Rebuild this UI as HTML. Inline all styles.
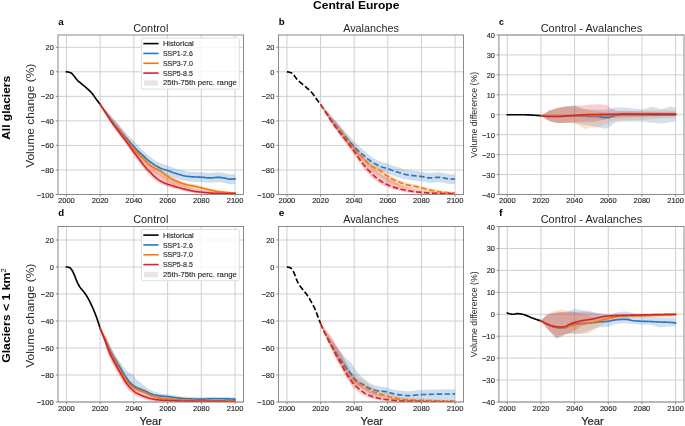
<!DOCTYPE html>
<html><head><meta charset="utf-8"><style>
html,body{margin:0;padding:0;background:#fff;width:685px;height:426px;overflow:hidden}
svg{display:block;will-change:transform;filter:blur(0.35px)}
</style></head><body>
<svg width="685" height="426" viewBox="0 0 685 426" font-family='"Liberation Sans", sans-serif'>
<rect width="685" height="426" fill="#fff"/>
<clipPath id="c58_35"><rect x="58.0" y="35.0" width="185.50" height="159.50"/></clipPath>
<line x1="66.43" y1="35.0" x2="66.43" y2="194.5" stroke="#cfcfcf" stroke-width="1"/>
<line x1="100.16" y1="35.0" x2="100.16" y2="194.5" stroke="#cfcfcf" stroke-width="1"/>
<line x1="133.89" y1="35.0" x2="133.89" y2="194.5" stroke="#cfcfcf" stroke-width="1"/>
<line x1="167.61" y1="35.0" x2="167.61" y2="194.5" stroke="#cfcfcf" stroke-width="1"/>
<line x1="201.34" y1="35.0" x2="201.34" y2="194.5" stroke="#cfcfcf" stroke-width="1"/>
<line x1="235.07" y1="35.0" x2="235.07" y2="194.5" stroke="#cfcfcf" stroke-width="1"/>
<line x1="58.0" y1="47.27" x2="243.5" y2="47.27" stroke="#cfcfcf" stroke-width="1"/>
<line x1="58.0" y1="71.81" x2="243.5" y2="71.81" stroke="#cfcfcf" stroke-width="1"/>
<line x1="58.0" y1="96.35" x2="243.5" y2="96.35" stroke="#cfcfcf" stroke-width="1"/>
<line x1="58.0" y1="120.88" x2="243.5" y2="120.88" stroke="#cfcfcf" stroke-width="1"/>
<line x1="58.0" y1="145.42" x2="243.5" y2="145.42" stroke="#cfcfcf" stroke-width="1"/>
<line x1="58.0" y1="169.96" x2="243.5" y2="169.96" stroke="#cfcfcf" stroke-width="1"/>
<line x1="58.0" y1="194.50" x2="243.5" y2="194.50" stroke="#cfcfcf" stroke-width="1"/>
<path d="M100.16 104.44L101.00 105.37L101.85 106.29L102.69 107.19L103.53 108.08L104.38 108.95L105.22 109.81L106.06 110.65L106.90 111.48L107.75 112.29L108.59 113.09L109.43 114.12L110.28 115.13L111.12 116.12L111.96 117.10L112.81 118.06L113.65 119.00L114.49 119.92L115.34 120.83L116.18 121.72L117.02 122.61L117.87 123.58L118.71 124.54L119.55 125.51L120.40 126.47L121.24 127.43L122.08 128.39L122.92 129.35L123.77 130.29L124.61 131.23L125.45 132.17L126.30 133.09L127.14 134.01L127.98 134.92L128.83 135.83L129.67 136.73L130.51 137.63L131.36 138.51L132.20 139.39L133.04 140.27L133.89 141.13L134.73 142.05L135.57 142.98L136.42 143.91L137.26 144.82L138.10 145.71L138.95 146.58L139.79 147.41L140.63 148.20L141.48 148.93L142.32 149.63L143.16 150.35L144.00 151.13L144.85 151.98L145.69 152.87L146.53 153.73L147.38 154.53L148.22 155.27L149.06 155.98L149.91 156.66L150.75 157.32L151.59 157.94L152.44 158.54L153.28 159.12L154.12 159.67L154.97 160.20L155.81 160.71L156.65 161.20L157.50 161.68L158.34 162.14L159.18 162.61L160.03 163.05L160.87 163.44L161.71 163.77L162.55 164.06L163.40 164.31L164.24 164.56L165.08 164.81L165.93 165.05L166.77 165.29L167.61 165.54L168.46 165.85L169.30 166.20L170.14 166.56L170.99 166.92L171.83 167.26L172.67 167.56L173.52 167.85L174.36 168.13L175.20 168.40L176.05 168.67L176.89 168.92L177.73 169.17L178.57 169.41L179.42 169.64L180.26 169.88L181.10 170.12L181.95 170.35L182.79 170.58L183.63 170.80L184.48 170.99L185.32 171.16L186.16 171.29L187.01 171.39L187.85 171.49L188.69 171.57L189.54 171.65L190.38 171.73L191.22 171.79L192.07 171.85L192.91 171.91L193.75 171.96L194.60 172.01L195.44 172.06L196.28 172.10L197.12 172.13L197.97 172.16L198.81 172.19L199.65 172.22L200.50 172.25L201.34 172.29L202.18 172.35L203.03 172.43L203.87 172.52L204.71 172.62L205.56 172.72L206.40 172.81L207.24 172.90L208.09 172.97L208.93 173.01L209.77 173.03L210.62 173.01L211.46 172.97L212.30 172.90L213.15 172.81L213.99 172.72L214.83 172.63L215.67 172.55L216.52 172.48L217.36 172.43L218.20 172.42L219.05 172.44L219.89 172.50L220.73 172.60L221.58 172.71L222.42 172.85L223.26 172.99L224.11 173.14L224.95 173.27L225.79 173.44L226.64 173.65L227.48 173.86L228.32 174.06L229.17 174.20L230.01 174.26L230.85 174.25L231.70 174.24L232.54 174.20L233.38 174.14L234.22 174.04L235.07 173.89L235.07 183.70L234.22 183.85L233.38 183.95L232.54 184.02L231.70 184.05L230.85 184.07L230.01 184.07L229.17 184.02L228.32 183.87L227.48 183.68L226.64 183.46L225.79 183.25L224.95 183.09L224.11 182.95L223.26 182.81L222.42 182.66L221.58 182.53L220.73 182.41L219.89 182.32L219.05 182.25L218.20 182.23L217.36 182.25L216.52 182.29L215.67 182.36L214.83 182.45L213.99 182.54L213.15 182.63L212.30 182.71L211.46 182.78L210.62 182.83L209.77 182.84L208.93 182.83L208.09 182.78L207.24 182.71L206.40 182.63L205.56 182.53L204.71 182.43L203.87 182.33L203.03 182.24L202.18 182.17L201.34 182.11L200.50 182.07L199.65 182.03L198.81 182.00L197.97 181.97L197.12 181.94L196.28 181.91L195.44 181.87L194.60 181.83L193.75 181.78L192.91 181.73L192.07 181.67L191.22 181.61L190.38 181.54L189.54 181.47L188.69 181.39L187.85 181.30L187.01 181.21L186.16 181.10L185.32 180.97L184.48 180.81L183.63 180.61L182.79 180.40L181.95 180.17L181.10 179.93L180.26 179.69L179.42 179.46L178.57 179.22L177.73 178.98L176.89 178.74L176.05 178.48L175.20 178.22L174.36 177.95L173.52 177.67L172.67 177.38L171.83 177.08L170.99 176.74L170.14 176.38L169.30 176.01L168.46 175.67L167.61 175.36L166.77 175.10L165.93 174.87L165.08 174.62L164.24 174.38L163.40 174.13L162.55 173.87L161.71 173.59L160.87 173.26L160.03 172.86L159.18 172.42L158.34 171.96L157.50 171.49L156.65 171.02L155.81 170.53L154.97 170.02L154.12 169.49L153.28 168.93L152.44 168.35L151.59 167.76L150.75 167.14L149.91 166.48L149.06 165.79L148.22 165.08L147.38 164.34L146.53 163.54L145.69 162.68L144.85 161.80L144.00 160.95L143.16 160.17L142.32 159.45L141.48 158.74L140.63 158.01L139.79 157.23L138.95 156.40L138.10 155.53L137.26 154.63L136.42 153.72L135.57 152.80L134.73 151.87L133.89 150.94L133.04 149.99L132.20 149.02L131.36 148.05L130.51 147.07L129.67 146.09L128.83 145.09L127.98 144.10L127.14 143.09L126.30 142.08L125.45 141.06L124.61 140.04L123.77 139.01L122.92 137.97L122.08 136.92L121.24 135.87L120.40 134.81L119.55 133.76L118.71 132.70L117.87 131.65L117.02 130.58L116.18 129.51L115.34 128.43L114.49 127.34L113.65 126.24L112.81 125.11L111.96 123.97L111.12 122.81L110.28 121.63L109.43 120.43L108.59 119.22L107.75 117.81L106.90 116.39L106.06 114.95L105.22 113.49L104.38 112.02L103.53 110.53L102.69 109.03L101.85 107.52L101.00 105.99L100.16 104.44Z" fill="#2f76bc" fill-opacity="0.24" stroke="none" clip-path="url(#c58_35)"/>
<path d="M100.16 104.44L101.00 105.63L101.85 106.81L102.69 107.96L103.53 109.10L104.38 110.21L105.22 111.31L106.06 112.39L106.90 113.45L107.75 114.49L108.59 115.51L109.43 116.52L110.28 117.50L111.12 118.46L111.96 119.38L112.81 120.28L113.65 121.16L114.49 122.01L115.34 122.86L116.18 123.69L117.02 124.52L117.87 125.53L118.71 126.54L119.55 127.57L120.40 128.61L121.24 129.67L122.08 130.73L122.92 131.79L123.77 132.85L124.61 133.91L125.45 134.97L126.30 136.03L127.14 137.08L127.98 138.14L128.83 139.21L129.67 140.29L130.51 141.36L131.36 142.42L132.20 143.45L133.04 144.46L133.89 145.42L134.73 146.38L135.57 147.32L136.42 148.23L137.26 149.12L138.10 149.99L138.95 150.85L139.79 151.70L140.63 152.52L141.48 153.29L142.32 154.05L143.16 154.84L144.00 155.71L144.85 156.67L145.69 157.68L146.53 158.67L147.38 159.58L148.22 160.44L149.06 161.27L149.91 162.04L150.75 162.72L151.59 163.32L152.44 163.86L153.28 164.36L154.12 164.84L154.97 165.30L155.81 165.73L156.65 166.15L157.50 166.59L158.34 167.08L159.18 167.61L160.03 168.16L160.87 168.75L161.71 169.38L162.55 170.09L163.40 170.83L164.24 171.55L165.08 172.21L165.93 172.76L166.77 173.26L167.61 173.76L168.46 174.30L169.30 174.86L170.14 175.42L170.99 175.97L171.83 176.48L172.67 176.94L173.52 177.38L174.36 177.81L175.20 178.21L176.05 178.61L176.89 178.98L177.73 179.35L178.57 179.71L179.42 180.06L180.26 180.40L181.10 180.75L181.95 181.08L182.79 181.41L183.63 181.72L184.48 182.01L185.32 182.28L186.16 182.53L187.01 182.75L187.85 182.95L188.69 183.13L189.54 183.30L190.38 183.47L191.22 183.63L192.07 183.79L192.91 183.95L193.75 184.12L194.60 184.30L195.44 184.49L196.28 184.70L197.12 184.91L197.97 185.13L198.81 185.35L199.65 185.58L200.50 185.81L201.34 186.03L202.18 186.26L203.03 186.48L203.87 186.72L204.71 186.95L205.56 187.18L206.40 187.42L207.24 187.64L208.09 187.86L208.93 188.07L209.77 188.27L210.62 188.47L211.46 188.66L212.30 188.85L213.15 189.04L213.99 189.23L214.83 189.41L215.67 189.58L216.52 189.75L217.36 189.90L218.20 190.05L219.05 190.18L219.89 190.30L220.73 190.41L221.58 190.52L222.42 190.63L223.26 190.74L224.11 190.84L224.95 190.94L225.79 191.04L226.64 191.14L227.48 191.23L228.32 191.32L229.17 191.40L230.01 191.47L230.85 191.55L231.70 191.61L232.54 191.67L233.38 191.72L234.22 191.76L235.07 191.80L235.07 194.25L234.22 194.27L233.38 194.29L232.54 194.29L231.70 194.29L230.85 194.28L230.01 194.27L229.17 194.25L228.32 194.22L227.48 194.19L226.64 194.15L225.79 194.11L224.95 194.07L224.11 194.03L223.26 193.98L222.42 193.93L221.58 193.87L220.73 193.82L219.89 193.76L219.05 193.70L218.20 193.62L217.36 193.54L216.52 193.44L215.67 193.33L214.83 193.21L213.99 193.09L213.15 192.96L212.30 192.82L211.46 192.69L210.62 192.55L209.77 192.41L208.93 192.27L208.09 192.12L207.24 191.95L206.40 191.78L205.56 191.61L204.71 191.43L203.87 191.25L203.03 191.07L202.18 190.90L201.34 190.74L200.50 190.57L199.65 190.39L198.81 190.22L197.97 190.06L197.12 189.89L196.28 189.74L195.44 189.59L194.60 189.45L193.75 189.33L192.91 189.22L192.07 189.11L191.22 189.01L190.38 188.90L189.54 188.79L188.69 188.68L187.85 188.55L187.01 188.40L186.16 188.24L185.32 188.05L184.48 187.84L183.63 187.65L182.79 187.45L181.95 187.23L181.10 187.00L180.26 186.77L179.42 186.53L178.57 186.29L177.73 186.04L176.89 185.78L176.05 185.51L175.20 185.22L174.36 184.92L173.52 184.61L172.67 184.27L171.83 183.92L170.99 183.52L170.14 183.08L169.30 182.62L168.46 182.17L167.61 181.74L166.77 181.27L165.93 180.80L165.08 180.28L164.24 179.65L163.40 178.96L162.55 178.25L161.71 177.57L160.87 176.97L160.03 176.41L159.18 175.89L158.34 175.40L157.50 174.94L156.65 174.52L155.81 174.13L154.97 173.74L154.12 173.31L153.28 172.86L152.44 172.39L151.59 171.88L150.75 171.31L149.91 170.57L149.06 169.73L148.22 168.84L147.38 167.92L146.53 166.95L145.69 165.90L144.85 164.83L144.00 163.80L143.16 162.88L142.32 162.03L141.48 161.20L140.63 160.37L139.79 159.49L138.95 158.58L138.10 157.66L137.26 156.73L136.42 155.78L135.57 154.80L134.73 153.81L133.89 152.78L133.04 151.76L132.20 150.69L131.36 149.59L130.51 148.48L129.67 147.34L128.83 146.21L127.98 145.07L127.14 143.95L126.30 142.84L125.45 141.72L124.61 140.60L123.77 139.47L122.92 138.35L122.08 137.23L121.24 136.11L120.40 134.99L119.55 133.89L118.71 132.80L117.87 131.72L117.02 130.65L116.18 129.52L115.34 128.38L114.49 127.23L113.65 126.07L112.81 124.88L111.96 123.68L111.12 122.44L110.28 121.18L109.43 119.89L108.59 118.58L107.75 117.25L106.90 115.91L106.06 114.54L105.22 113.15L104.38 111.75L103.53 110.32L102.69 108.88L101.85 107.42L101.00 105.94L100.16 104.44Z" fill="#f4780f" fill-opacity="0.24" stroke="none" clip-path="url(#c58_35)"/>
<path d="M100.16 104.44L101.00 105.22L101.85 106.02L102.69 106.84L103.53 107.68L104.38 108.53L105.22 109.39L106.06 110.27L106.90 111.19L107.75 112.16L108.59 113.14L109.43 114.34L110.28 115.48L111.12 116.54L111.96 117.56L112.81 118.56L113.65 119.52L114.49 120.47L115.34 121.40L116.18 122.32L117.02 123.23L117.87 124.33L118.71 125.43L119.55 126.55L120.40 127.67L121.24 128.78L122.08 129.89L122.92 131.00L123.77 132.10L124.61 133.21L125.45 134.32L126.30 135.45L127.14 136.59L127.98 137.75L128.83 138.93L129.67 140.12L130.51 141.32L131.36 142.51L132.20 143.70L133.04 144.88L133.89 146.04L134.73 147.11L135.57 148.17L136.42 149.22L137.26 150.26L138.10 151.30L138.95 152.34L139.79 153.38L140.63 154.44L141.48 155.50L142.32 156.57L143.16 157.61L144.00 158.60L144.85 159.57L145.69 160.51L146.53 161.42L147.38 162.29L148.22 163.11L149.06 163.89L149.91 164.65L150.75 165.42L151.59 166.27L152.44 167.12L153.28 167.95L154.12 168.73L154.97 169.48L155.81 170.21L156.65 170.92L157.50 171.59L158.34 172.21L159.18 172.78L160.03 173.31L160.87 173.81L161.71 174.28L162.55 174.72L163.40 175.14L164.24 175.54L165.08 175.90L165.93 176.24L166.77 176.56L167.61 176.86L168.46 177.33L169.30 177.78L170.14 178.23L170.99 178.67L171.83 179.12L172.67 179.57L173.52 180.01L174.36 180.45L175.20 180.89L176.05 181.32L176.89 181.75L177.73 182.17L178.57 182.60L179.42 183.01L180.26 183.43L181.10 183.84L181.95 184.26L182.79 184.66L183.63 185.07L184.48 185.46L185.32 185.76L186.16 186.06L187.01 186.34L187.85 186.63L188.69 186.92L189.54 187.20L190.38 187.48L191.22 187.76L192.07 188.02L192.91 188.28L193.75 188.52L194.60 188.75L195.44 188.97L196.28 189.18L197.12 189.37L197.97 189.56L198.81 189.75L199.65 189.93L200.50 190.10L201.34 190.28L202.18 190.39L203.03 190.50L203.87 190.62L204.71 190.73L205.56 190.85L206.40 190.96L207.24 191.07L208.09 191.19L208.93 191.29L209.77 191.40L210.62 191.49L211.46 191.58L212.30 191.67L213.15 191.75L213.99 191.82L214.83 191.87L215.67 191.93L216.52 191.98L217.36 192.03L218.20 192.09L219.05 192.14L219.89 192.19L220.73 192.24L221.58 192.28L222.42 192.33L223.26 192.38L224.11 192.42L224.95 192.47L225.79 192.51L226.64 192.55L227.48 192.60L228.32 192.64L229.17 192.67L230.01 192.71L230.85 192.75L231.70 192.78L232.54 192.82L233.38 192.85L234.22 192.88L235.07 192.91L235.07 194.38L234.22 194.40L233.38 194.42L232.54 194.43L231.70 194.45L230.85 194.47L230.01 194.48L229.17 194.49L228.32 194.50L227.48 194.51L226.64 194.52L225.79 194.52L224.95 194.53L224.11 194.54L223.26 194.54L222.42 194.54L221.58 194.54L220.73 194.54L219.89 194.54L219.05 194.54L218.20 194.54L217.36 194.54L216.52 194.53L215.67 194.53L214.83 194.52L213.99 194.51L213.15 194.49L212.30 194.47L211.46 194.43L210.62 194.39L209.77 194.34L208.93 194.29L208.09 194.23L207.24 194.17L206.40 194.10L205.56 194.04L204.71 193.97L203.87 193.90L203.03 193.84L202.18 193.78L201.34 193.71L200.50 193.65L199.65 193.59L198.81 193.52L197.97 193.45L197.12 193.38L196.28 193.29L195.44 193.20L194.60 193.10L193.75 192.98L192.91 192.85L192.07 192.71L191.22 192.55L190.38 192.39L189.54 192.23L188.69 192.06L187.85 191.88L187.01 191.71L186.16 191.53L185.32 191.36L184.48 191.17L183.63 190.98L182.79 190.78L181.95 190.58L181.10 190.37L180.26 190.16L179.42 189.95L178.57 189.74L177.73 189.52L176.89 189.30L176.05 189.08L175.20 188.85L174.36 188.62L173.52 188.39L172.67 188.15L171.83 187.91L170.99 187.67L170.14 187.43L169.30 187.19L168.46 186.94L167.61 186.67L166.77 186.44L165.93 186.18L165.08 185.90L164.24 185.60L163.40 185.27L162.55 184.91L161.71 184.52L160.87 184.11L160.03 183.68L159.18 183.21L158.34 182.70L157.50 182.14L156.65 181.53L155.81 180.88L154.97 180.22L154.12 179.53L153.28 178.81L152.44 178.04L151.59 177.25L150.75 176.46L149.91 175.63L149.06 174.81L148.22 173.97L147.38 173.09L146.53 172.16L145.69 171.19L144.85 170.18L144.00 169.15L143.16 168.10L142.32 167.00L141.48 165.87L140.63 164.74L139.79 163.63L138.95 162.52L138.10 161.42L137.26 160.32L136.42 159.22L135.57 158.11L134.73 156.99L133.89 155.85L133.04 154.65L132.20 153.43L131.36 152.20L130.51 150.96L129.67 149.72L128.83 148.49L127.98 147.26L127.14 146.06L126.30 144.88L125.45 143.71L124.61 142.55L123.77 141.40L122.92 140.25L122.08 139.11L121.24 137.96L120.40 136.80L119.55 135.63L118.71 134.48L117.87 133.33L117.02 132.19L116.18 130.95L115.34 129.70L114.49 128.45L113.65 127.18L112.81 125.89L111.96 124.57L111.12 123.22L110.28 121.83L109.43 120.37L108.59 118.85L107.75 117.30L106.90 115.76L106.06 114.27L105.22 112.82L104.38 111.38L103.53 109.96L102.69 108.55L101.85 107.17L101.00 105.80L100.16 104.44Z" fill="#d8232a" fill-opacity="0.24" stroke="none" clip-path="url(#c58_35)"/>
<path d="M66.43 71.81L67.28 71.91L68.12 72.05L68.96 72.22L69.80 72.43L70.65 72.72L71.49 73.20L72.33 74.00L73.18 74.96L74.02 75.93L74.86 77.01L75.71 78.20L76.55 79.32L77.39 80.25L78.24 81.05L79.08 81.78L79.92 82.48L80.77 83.16L81.61 83.87L82.45 84.56L83.30 85.23L84.14 85.91L84.98 86.59L85.83 87.29L86.67 88.03L87.51 88.78L88.35 89.55L89.20 90.34L90.04 91.16L90.88 92.03L91.73 92.96L92.57 93.99L93.41 95.14L94.26 96.36L95.10 97.61L95.94 98.81L96.79 99.96L97.63 101.10L98.47 102.22L99.32 103.34L100.16 104.44" fill="none" stroke="#000" stroke-width="1.65" stroke-linejoin="round" stroke-linecap="square" clip-path="url(#c58_35)"/>
<path d="M100.16 104.44L101.00 105.74L101.85 107.03L102.69 108.30L103.53 109.55L104.38 110.79L105.22 112.02L106.06 113.23L106.90 114.42L107.75 115.60L108.59 116.77L109.43 117.92L110.28 119.05L111.12 120.17L111.96 121.27L112.81 122.35L113.65 123.41L114.49 124.46L115.34 125.49L116.18 126.51L117.02 127.52L117.87 128.52L118.71 129.51L119.55 130.51L120.40 131.50L121.24 132.49L122.08 133.49L122.92 134.47L123.77 135.45L124.61 136.42L125.45 137.38L126.30 138.34L127.14 139.29L127.98 140.23L128.83 141.17L129.67 142.10L130.51 143.02L131.36 143.94L132.20 144.85L133.04 145.76L133.89 146.65L134.73 147.54L135.57 148.44L136.42 149.34L137.26 150.22L138.10 151.08L138.95 151.92L139.79 152.72L140.63 153.48L141.48 154.17L142.32 154.84L143.16 155.53L144.00 156.28L144.85 157.11L145.69 157.96L146.53 158.79L147.38 159.56L148.22 160.27L149.06 160.95L149.91 161.60L150.75 162.23L151.59 162.85L152.44 163.45L153.28 164.02L154.12 164.58L154.97 165.11L155.81 165.62L156.65 166.11L157.50 166.59L158.34 167.05L159.18 167.51L160.03 167.96L160.87 168.35L161.71 168.68L162.55 168.96L163.40 169.22L164.24 169.47L165.08 169.72L165.93 169.96L166.77 170.19L167.61 170.45L168.46 170.76L169.30 171.11L170.14 171.47L170.99 171.83L171.83 172.17L172.67 172.47L173.52 172.76L174.36 173.04L175.20 173.31L176.05 173.57L176.89 173.83L177.73 174.08L178.57 174.31L179.42 174.55L180.26 174.78L181.10 175.02L181.95 175.26L182.79 175.49L183.63 175.70L184.48 175.90L185.32 176.06L186.16 176.20L187.01 176.30L187.85 176.40L188.69 176.48L189.54 176.56L190.38 176.63L191.22 176.70L192.07 176.76L192.91 176.82L193.75 176.87L194.60 176.92L195.44 176.96L196.28 177.00L197.12 177.04L197.97 177.07L198.81 177.09L199.65 177.12L200.50 177.16L201.34 177.20L202.18 177.26L203.03 177.34L203.87 177.43L204.71 177.53L205.56 177.63L206.40 177.72L207.24 177.81L208.09 177.87L208.93 177.92L209.77 177.94L210.62 177.92L211.46 177.87L212.30 177.80L213.15 177.72L213.99 177.63L214.83 177.54L215.67 177.46L216.52 177.39L217.36 177.34L218.20 177.32L219.05 177.35L219.89 177.41L220.73 177.50L221.58 177.62L222.42 177.76L223.26 177.90L224.11 178.04L224.95 178.18L225.79 178.35L226.64 178.55L227.48 178.77L228.32 178.97L229.17 179.11L230.01 179.16L230.85 179.16L231.70 179.15L232.54 179.11L233.38 179.05L234.22 178.94L235.07 178.80" fill="none" stroke="#2f76bc" stroke-width="1.65" stroke-linejoin="round" stroke-linecap="square" clip-path="url(#c58_35)"/>
<path d="M100.16 104.44L101.00 105.82L101.85 107.17L102.69 108.51L103.53 109.83L104.38 111.13L105.22 112.42L106.06 113.68L106.90 114.92L107.75 116.15L108.59 117.35L109.43 118.54L110.28 119.70L111.12 120.85L111.96 121.96L112.81 123.04L113.65 124.10L114.49 125.14L115.34 126.17L116.18 127.18L117.02 128.20L117.87 129.21L118.71 130.23L119.55 131.25L120.40 132.29L121.24 133.35L122.08 134.41L122.92 135.47L123.77 136.53L124.61 137.59L125.45 138.65L126.30 139.71L127.14 140.76L127.98 141.82L128.83 142.89L129.67 143.97L130.51 145.04L131.36 146.10L132.20 147.13L133.04 148.14L133.89 149.10L134.73 150.03L135.57 150.94L136.42 151.82L137.26 152.68L138.10 153.52L138.95 154.35L139.79 155.16L140.63 155.95L141.48 156.70L142.32 157.43L143.16 158.19L144.00 159.02L144.85 159.95L145.69 160.93L146.53 161.89L147.38 162.77L148.22 163.60L149.06 164.40L149.91 165.14L150.75 165.79L151.59 166.36L152.44 166.86L153.28 167.33L154.12 167.79L154.97 168.22L155.81 168.61L156.65 169.00L157.50 169.41L158.34 169.87L159.18 170.37L160.03 170.89L160.87 171.45L161.71 172.05L162.55 172.72L163.40 173.44L164.24 174.13L165.08 174.76L165.93 175.28L166.77 175.75L167.61 176.22L168.46 176.74L169.30 177.28L170.14 177.83L170.99 178.36L171.83 178.86L172.67 179.30L173.52 179.73L174.36 180.14L175.20 180.53L176.05 180.91L176.89 181.27L177.73 181.62L178.57 181.96L179.42 182.30L180.26 182.63L181.10 182.95L181.95 183.27L182.79 183.58L183.63 183.88L184.48 184.16L185.32 184.41L186.16 184.64L187.01 184.85L187.85 185.03L188.69 185.20L189.54 185.36L190.38 185.51L191.22 185.65L192.07 185.80L192.91 185.95L193.75 186.10L194.60 186.26L195.44 186.44L196.28 186.63L197.12 186.83L197.97 187.03L198.81 187.24L199.65 187.45L200.50 187.66L201.34 187.87L202.18 188.08L203.03 188.29L203.87 188.51L204.71 188.73L205.56 188.95L206.40 189.16L207.24 189.38L208.09 189.58L208.93 189.78L209.77 189.96L210.62 190.14L211.46 190.32L212.30 190.49L213.15 190.67L213.99 190.84L214.83 191.00L215.67 191.16L216.52 191.31L217.36 191.45L218.20 191.58L219.05 191.70L219.89 191.80L220.73 191.90L221.58 191.99L222.42 192.09L223.26 192.18L224.11 192.27L224.95 192.35L225.79 192.44L226.64 192.52L227.48 192.59L228.32 192.67L229.17 192.73L230.01 192.79L230.85 192.85L231.70 192.90L232.54 192.94L233.38 192.98L234.22 193.01L235.07 193.03" fill="none" stroke="#f4780f" stroke-width="1.65" stroke-linejoin="round" stroke-linecap="square" clip-path="url(#c58_35)"/>
<path d="M100.16 104.44L101.00 105.65L101.85 106.88L102.69 108.13L103.53 109.39L104.38 110.67L105.22 111.97L106.06 113.28L106.90 114.63L107.75 116.03L108.59 117.44L109.43 118.82L110.28 120.14L111.12 121.39L111.96 122.59L112.81 123.77L113.65 124.92L114.49 126.05L115.34 127.16L116.18 128.27L117.02 129.36L117.87 130.46L118.71 131.57L119.55 132.68L120.40 133.81L121.24 134.92L122.08 136.03L122.92 137.13L123.77 138.23L124.61 139.34L125.45 140.46L126.30 141.58L127.14 142.72L127.98 143.88L128.83 145.06L129.67 146.25L130.51 147.45L131.36 148.65L132.20 149.84L133.04 151.01L133.89 152.17L134.73 153.31L135.57 154.43L136.42 155.54L137.26 156.64L138.10 157.74L138.95 158.84L139.79 159.95L140.63 161.06L141.48 162.19L142.32 163.32L143.16 164.42L144.00 165.47L144.85 166.50L145.69 167.51L146.53 168.48L147.38 169.41L148.22 170.29L149.06 171.13L149.91 171.95L150.75 172.78L151.59 173.63L152.44 174.48L153.28 175.31L154.12 176.10L154.97 176.84L155.81 177.57L156.65 178.28L157.50 178.95L158.34 179.58L159.18 180.14L160.03 180.67L160.87 181.17L161.71 181.64L162.55 182.09L163.40 182.51L164.24 182.90L165.08 183.26L165.93 183.61L166.77 183.92L167.61 184.22L168.46 184.50L169.30 184.77L170.14 185.04L170.99 185.30L171.83 185.56L172.67 185.82L173.52 186.08L174.36 186.34L175.20 186.59L176.05 186.84L176.89 187.09L177.73 187.33L178.57 187.56L179.42 187.80L180.26 188.03L181.10 188.26L181.95 188.49L182.79 188.71L183.63 188.93L184.48 189.15L185.32 189.35L186.16 189.55L187.01 189.75L187.85 189.94L188.69 190.14L189.54 190.33L190.38 190.52L191.22 190.70L192.07 190.87L192.91 191.04L193.75 191.19L194.60 191.33L195.44 191.46L196.28 191.57L197.12 191.68L197.97 191.77L198.81 191.86L199.65 191.95L200.50 192.04L201.34 192.12L202.18 192.20L203.03 192.29L203.87 192.37L204.71 192.46L205.56 192.55L206.40 192.64L207.24 192.72L208.09 192.80L208.93 192.88L209.77 192.96L210.62 193.03L211.46 193.09L212.30 193.15L213.15 193.20L213.99 193.24L214.83 193.27L215.67 193.30L216.52 193.32L217.36 193.35L218.20 193.37L219.05 193.40L219.89 193.42L220.73 193.44L221.58 193.46L222.42 193.48L223.26 193.50L224.11 193.52L224.95 193.54L225.79 193.55L226.64 193.57L227.48 193.58L228.32 193.59L229.17 193.60L230.01 193.61L230.85 193.62L231.70 193.63L232.54 193.63L233.38 193.64L234.22 193.64L235.07 193.64" fill="none" stroke="#d8232a" stroke-width="1.65" stroke-linejoin="round" stroke-linecap="square" clip-path="url(#c58_35)"/>
<rect x="58.0" y="35.0" width="185.50" height="159.50" fill="none" stroke="#8a8a8a" stroke-width="1"/>
<line x1="66.43" y1="194.5" x2="66.43" y2="196.7" stroke="#8a8a8a" stroke-width="1"/>
<text x="66.43" y="203.15" font-size="7.3" text-anchor="middle" fill="#262626" stroke="#262626" stroke-width="0.13" textLength="16.7" lengthAdjust="spacingAndGlyphs">2000</text>
<line x1="100.16" y1="194.5" x2="100.16" y2="196.7" stroke="#8a8a8a" stroke-width="1"/>
<text x="100.16" y="203.15" font-size="7.3" text-anchor="middle" fill="#262626" stroke="#262626" stroke-width="0.13" textLength="16.7" lengthAdjust="spacingAndGlyphs">2020</text>
<line x1="133.89" y1="194.5" x2="133.89" y2="196.7" stroke="#8a8a8a" stroke-width="1"/>
<text x="133.89" y="203.15" font-size="7.3" text-anchor="middle" fill="#262626" stroke="#262626" stroke-width="0.13" textLength="16.7" lengthAdjust="spacingAndGlyphs">2040</text>
<line x1="167.61" y1="194.5" x2="167.61" y2="196.7" stroke="#8a8a8a" stroke-width="1"/>
<text x="167.61" y="203.15" font-size="7.3" text-anchor="middle" fill="#262626" stroke="#262626" stroke-width="0.13" textLength="16.7" lengthAdjust="spacingAndGlyphs">2060</text>
<line x1="201.34" y1="194.5" x2="201.34" y2="196.7" stroke="#8a8a8a" stroke-width="1"/>
<text x="201.34" y="203.15" font-size="7.3" text-anchor="middle" fill="#262626" stroke="#262626" stroke-width="0.13" textLength="16.7" lengthAdjust="spacingAndGlyphs">2080</text>
<line x1="235.07" y1="194.5" x2="235.07" y2="196.7" stroke="#8a8a8a" stroke-width="1"/>
<text x="235.07" y="203.15" font-size="7.3" text-anchor="middle" fill="#262626" stroke="#262626" stroke-width="0.13" textLength="16.7" lengthAdjust="spacingAndGlyphs">2100</text>
<line x1="55.8" y1="47.27" x2="58.0" y2="47.27" stroke="#8a8a8a" stroke-width="1"/>
<text x="53.80" y="50.27" font-size="7.3" text-anchor="end" fill="#262626" stroke="#262626" stroke-width="0.13" textLength="8.24" lengthAdjust="spacingAndGlyphs">20</text>
<line x1="55.8" y1="71.81" x2="58.0" y2="71.81" stroke="#8a8a8a" stroke-width="1"/>
<text x="53.80" y="74.81" font-size="7.3" text-anchor="end" fill="#262626" stroke="#262626" stroke-width="0.13" textLength="4.12" lengthAdjust="spacingAndGlyphs">0</text>
<line x1="55.8" y1="96.35" x2="58.0" y2="96.35" stroke="#8a8a8a" stroke-width="1"/>
<text x="53.80" y="99.35" font-size="7.3" text-anchor="end" fill="#262626" stroke="#262626" stroke-width="0.13" textLength="12.99" lengthAdjust="spacingAndGlyphs">−20</text>
<line x1="55.8" y1="120.88" x2="58.0" y2="120.88" stroke="#8a8a8a" stroke-width="1"/>
<text x="53.80" y="123.88" font-size="7.3" text-anchor="end" fill="#262626" stroke="#262626" stroke-width="0.13" textLength="12.99" lengthAdjust="spacingAndGlyphs">−40</text>
<line x1="55.8" y1="145.42" x2="58.0" y2="145.42" stroke="#8a8a8a" stroke-width="1"/>
<text x="53.80" y="148.42" font-size="7.3" text-anchor="end" fill="#262626" stroke="#262626" stroke-width="0.13" textLength="12.99" lengthAdjust="spacingAndGlyphs">−60</text>
<line x1="55.8" y1="169.96" x2="58.0" y2="169.96" stroke="#8a8a8a" stroke-width="1"/>
<text x="53.80" y="172.96" font-size="7.3" text-anchor="end" fill="#262626" stroke="#262626" stroke-width="0.13" textLength="12.99" lengthAdjust="spacingAndGlyphs">−80</text>
<line x1="55.8" y1="194.50" x2="58.0" y2="194.50" stroke="#8a8a8a" stroke-width="1"/>
<text x="53.80" y="197.50" font-size="7.3" text-anchor="end" fill="#262626" stroke="#262626" stroke-width="0.13" textLength="17.11" lengthAdjust="spacingAndGlyphs">−100</text>
<rect x="141.40" y="38.00" width="98" height="51.2" rx="1.6" fill="#fff" fill-opacity="0.8" stroke="#d6d6d6" stroke-width="0.8"/>
<line x1="143.30" y1="43.60" x2="158.60" y2="43.60" stroke="#000" stroke-width="1.6"/>
<text x="162.90" y="46.25" font-size="7.6" text-anchor="start" fill="#262626" stroke="#262626" stroke-width="0.13" textLength="30.9" lengthAdjust="spacingAndGlyphs">Historical</text>
<line x1="143.30" y1="53.43" x2="158.60" y2="53.43" stroke="#2f76bc" stroke-width="1.6"/>
<text x="162.90" y="56.08" font-size="7.6" text-anchor="start" fill="#262626" stroke="#262626" stroke-width="0.13" textLength="29.9" lengthAdjust="spacingAndGlyphs">SSP1-2.6</text>
<line x1="143.30" y1="63.26" x2="158.60" y2="63.26" stroke="#f4780f" stroke-width="1.6"/>
<text x="162.90" y="65.91" font-size="7.6" text-anchor="start" fill="#262626" stroke="#262626" stroke-width="0.13" textLength="29.9" lengthAdjust="spacingAndGlyphs">SSP3-7.0</text>
<line x1="143.30" y1="73.09" x2="158.60" y2="73.09" stroke="#d8232a" stroke-width="1.6"/>
<text x="162.90" y="75.74" font-size="7.6" text-anchor="start" fill="#262626" stroke="#262626" stroke-width="0.13" textLength="29.9" lengthAdjust="spacingAndGlyphs">SSP5-8.5</text>
<rect x="144.10" y="80.35" width="13.7" height="5.4" fill="#808080" fill-opacity="0.2"/>
<text x="162.90" y="85.47" font-size="7.6" text-anchor="start" fill="#262626" stroke="#262626" stroke-width="0.13" textLength="73.9" lengthAdjust="spacingAndGlyphs">25th-75th perc. range</text>
<clipPath id="c278_35"><rect x="278.5" y="35.0" width="185.00" height="159.50"/></clipPath>
<line x1="286.91" y1="35.0" x2="286.91" y2="194.5" stroke="#cfcfcf" stroke-width="1"/>
<line x1="320.55" y1="35.0" x2="320.55" y2="194.5" stroke="#cfcfcf" stroke-width="1"/>
<line x1="354.18" y1="35.0" x2="354.18" y2="194.5" stroke="#cfcfcf" stroke-width="1"/>
<line x1="387.82" y1="35.0" x2="387.82" y2="194.5" stroke="#cfcfcf" stroke-width="1"/>
<line x1="421.45" y1="35.0" x2="421.45" y2="194.5" stroke="#cfcfcf" stroke-width="1"/>
<line x1="455.09" y1="35.0" x2="455.09" y2="194.5" stroke="#cfcfcf" stroke-width="1"/>
<line x1="278.5" y1="47.27" x2="463.5" y2="47.27" stroke="#cfcfcf" stroke-width="1"/>
<line x1="278.5" y1="71.81" x2="463.5" y2="71.81" stroke="#cfcfcf" stroke-width="1"/>
<line x1="278.5" y1="96.35" x2="463.5" y2="96.35" stroke="#cfcfcf" stroke-width="1"/>
<line x1="278.5" y1="120.88" x2="463.5" y2="120.88" stroke="#cfcfcf" stroke-width="1"/>
<line x1="278.5" y1="145.42" x2="463.5" y2="145.42" stroke="#cfcfcf" stroke-width="1"/>
<line x1="278.5" y1="169.96" x2="463.5" y2="169.96" stroke="#cfcfcf" stroke-width="1"/>
<line x1="278.5" y1="194.50" x2="463.5" y2="194.50" stroke="#cfcfcf" stroke-width="1"/>
<path d="M320.55 104.44L321.39 105.37L322.23 106.29L323.07 107.19L323.91 108.08L324.75 108.95L325.59 109.81L326.43 110.65L327.27 111.48L328.11 112.29L328.95 113.09L329.80 114.12L330.64 115.13L331.48 116.12L332.32 117.10L333.16 118.06L334.00 119.00L334.84 119.92L335.68 120.83L336.52 121.72L337.36 122.61L338.20 123.58L339.05 124.54L339.89 125.51L340.73 126.47L341.57 127.43L342.41 128.39L343.25 129.35L344.09 130.29L344.93 131.23L345.77 132.17L346.61 133.09L347.45 134.01L348.30 134.93L349.14 135.84L349.98 136.74L350.82 137.64L351.66 138.53L352.50 139.41L353.34 140.28L354.18 141.13L355.02 142.04L355.86 142.94L356.70 143.85L357.55 144.73L358.39 145.59L359.23 146.42L360.07 147.21L360.91 147.94L361.75 148.60L362.59 149.23L363.43 149.89L364.27 150.60L365.11 151.39L365.95 152.21L366.80 153.01L367.64 153.75L368.48 154.43L369.32 155.08L370.16 155.70L371.00 156.31L371.84 156.87L372.68 157.41L373.52 157.94L374.36 158.44L375.20 158.92L376.05 159.39L376.89 159.83L377.73 160.26L378.57 160.69L379.41 161.11L380.25 161.51L381.09 161.87L381.93 162.17L382.77 162.42L383.61 162.65L384.45 162.87L385.30 163.09L386.14 163.31L386.98 163.52L387.82 163.76L388.66 164.05L389.50 164.39L390.34 164.74L391.18 165.09L392.02 165.42L392.86 165.73L393.70 166.01L394.55 166.30L395.39 166.57L396.23 166.84L397.07 167.10L397.91 167.36L398.75 167.61L399.59 167.86L400.43 168.11L401.27 168.37L402.11 168.63L402.95 168.88L403.80 169.11L404.64 169.34L405.48 169.54L406.32 169.72L407.16 169.87L408.00 170.01L408.84 170.14L409.68 170.26L410.52 170.37L411.36 170.48L412.20 170.58L413.05 170.69L413.89 170.78L414.73 170.88L415.57 170.99L416.41 171.08L417.25 171.17L418.09 171.26L418.93 171.35L419.77 171.43L420.61 171.53L421.45 171.64L422.30 171.76L423.14 171.92L423.98 172.10L424.82 172.28L425.66 172.47L426.50 172.64L427.34 172.80L428.18 172.92L429.02 173.00L429.86 173.03L430.70 173.01L431.55 172.97L432.39 172.90L433.23 172.81L434.07 172.72L434.91 172.63L435.75 172.55L436.59 172.48L437.43 172.43L438.27 172.42L439.11 172.44L439.95 172.50L440.80 172.60L441.64 172.71L442.48 172.85L443.32 172.99L444.16 173.14L445.00 173.27L445.84 173.44L446.68 173.65L447.52 173.86L448.36 174.06L449.20 174.20L450.05 174.26L450.89 174.25L451.73 174.24L452.57 174.20L453.41 174.14L454.25 174.04L455.09 173.89L455.09 183.70L454.25 183.85L453.41 183.95L452.57 184.02L451.73 184.05L450.89 184.07L450.05 184.07L449.20 184.02L448.36 183.87L447.52 183.68L446.68 183.46L445.84 183.25L445.00 183.09L444.16 182.95L443.32 182.81L442.48 182.66L441.64 182.53L440.80 182.41L439.95 182.32L439.11 182.25L438.27 182.23L437.43 182.25L436.59 182.29L435.75 182.36L434.91 182.45L434.07 182.54L433.23 182.63L432.39 182.71L431.55 182.78L430.70 182.83L429.86 182.84L429.02 182.82L428.18 182.73L427.34 182.61L426.50 182.46L425.66 182.29L424.82 182.10L423.98 181.91L423.14 181.74L422.30 181.58L421.45 181.45L420.61 181.35L419.77 181.25L418.93 181.16L418.09 181.07L417.25 180.99L416.41 180.90L415.57 180.80L414.73 180.70L413.89 180.60L413.05 180.50L412.20 180.40L411.36 180.30L410.52 180.19L409.68 180.07L408.84 179.95L408.00 179.82L407.16 179.68L406.32 179.53L405.48 179.35L404.64 179.15L403.80 178.93L402.95 178.69L402.11 178.44L401.27 178.19L400.43 177.93L399.59 177.67L398.75 177.43L397.91 177.17L397.07 176.92L396.23 176.65L395.39 176.39L394.55 176.11L393.70 175.83L392.86 175.54L392.02 175.24L391.18 174.91L390.34 174.55L389.50 174.20L388.66 173.87L387.82 173.58L386.98 173.34L386.14 173.12L385.30 172.90L384.45 172.68L383.61 172.46L382.77 172.24L381.93 171.98L381.09 171.69L380.25 171.33L379.41 170.93L378.57 170.50L377.73 170.08L376.89 169.65L376.05 169.20L375.20 168.74L374.36 168.26L373.52 167.75L372.68 167.23L371.84 166.69L371.00 166.12L370.16 165.52L369.32 164.89L368.48 164.24L367.64 163.56L366.80 162.82L365.95 162.02L365.11 161.20L364.27 160.42L363.43 159.70L362.59 159.05L361.75 158.41L360.91 157.75L360.07 157.02L359.23 156.24L358.39 155.41L357.55 154.55L356.70 153.66L355.86 152.76L355.02 151.85L354.18 150.94L353.34 150.00L352.50 149.04L351.66 148.07L350.82 147.09L349.98 146.10L349.14 145.10L348.30 144.10L347.45 143.09L346.61 142.08L345.77 141.06L344.93 140.04L344.09 139.01L343.25 137.97L342.41 136.92L341.57 135.87L340.73 134.81L339.89 133.76L339.05 132.70L338.20 131.65L337.36 130.58L336.52 129.51L335.68 128.43L334.84 127.34L334.00 126.24L333.16 125.11L332.32 123.97L331.48 122.81L330.64 121.63L329.80 120.43L328.95 119.22L328.11 117.81L327.27 116.39L326.43 114.95L325.59 113.49L324.75 112.02L323.91 110.53L323.07 109.03L322.23 107.52L321.39 105.99L320.55 104.44Z" fill="#2f76bc" fill-opacity="0.24" stroke="none" clip-path="url(#c278_35)"/>
<path d="M320.55 104.44L321.39 105.63L322.23 106.81L323.07 107.96L323.91 109.10L324.75 110.21L325.59 111.31L326.43 112.39L327.27 113.45L328.11 114.49L328.95 115.51L329.80 116.52L330.64 117.50L331.48 118.46L332.32 119.38L333.16 120.28L334.00 121.16L334.84 122.01L335.68 122.86L336.52 123.69L337.36 124.52L338.20 125.53L339.05 126.54L339.89 127.57L340.73 128.61L341.57 129.67L342.41 130.73L343.25 131.79L344.09 132.85L344.93 133.91L345.77 134.97L346.61 136.03L347.45 137.08L348.30 138.14L349.14 139.21L349.98 140.29L350.82 141.36L351.66 142.42L352.50 143.45L353.34 144.46L354.18 145.42L355.02 146.38L355.86 147.32L356.70 148.23L357.55 149.12L358.39 149.99L359.23 150.85L360.07 151.70L360.91 152.52L361.75 153.29L362.59 154.05L363.43 154.84L364.27 155.71L365.11 156.67L365.95 157.68L366.80 158.67L367.64 159.58L368.48 160.44L369.32 161.27L370.16 162.04L371.00 162.72L371.84 163.32L372.68 163.86L373.52 164.36L374.36 164.84L375.20 165.30L376.05 165.73L376.89 166.15L377.73 166.59L378.57 167.08L379.41 167.61L380.25 168.16L381.09 168.75L381.93 169.38L382.77 170.09L383.61 170.83L384.45 171.55L385.30 172.21L386.14 172.76L386.98 173.26L387.82 173.76L388.66 174.30L389.50 174.86L390.34 175.42L391.18 175.97L392.02 176.48L392.86 176.94L393.70 177.38L394.55 177.81L395.39 178.21L396.23 178.61L397.07 178.98L397.91 179.35L398.75 179.71L399.59 180.06L400.43 180.40L401.27 180.75L402.11 181.08L402.95 181.41L403.80 181.72L404.64 182.01L405.48 182.28L406.32 182.53L407.16 182.75L408.00 182.95L408.84 183.13L409.68 183.30L410.52 183.47L411.36 183.63L412.20 183.79L413.05 183.95L413.89 184.12L414.73 184.30L415.57 184.49L416.41 184.70L417.25 184.91L418.09 185.13L418.93 185.35L419.77 185.58L420.61 185.81L421.45 186.03L422.30 186.26L423.14 186.48L423.98 186.72L424.82 186.95L425.66 187.18L426.50 187.42L427.34 187.64L428.18 187.86L429.02 188.07L429.86 188.27L430.70 188.47L431.55 188.66L432.39 188.85L433.23 189.04L434.07 189.23L434.91 189.41L435.75 189.58L436.59 189.75L437.43 189.90L438.27 190.05L439.11 190.18L439.95 190.30L440.80 190.41L441.64 190.52L442.48 190.63L443.32 190.74L444.16 190.84L445.00 190.94L445.84 191.04L446.68 191.14L447.52 191.23L448.36 191.32L449.20 191.40L450.05 191.47L450.89 191.55L451.73 191.61L452.57 191.67L453.41 191.72L454.25 191.76L455.09 191.80L455.09 194.25L454.25 194.27L453.41 194.29L452.57 194.29L451.73 194.29L450.89 194.28L450.05 194.27L449.20 194.25L448.36 194.22L447.52 194.19L446.68 194.15L445.84 194.11L445.00 194.07L444.16 194.03L443.32 193.98L442.48 193.93L441.64 193.87L440.80 193.82L439.95 193.76L439.11 193.70L438.27 193.62L437.43 193.54L436.59 193.44L435.75 193.33L434.91 193.21L434.07 193.09L433.23 192.96L432.39 192.82L431.55 192.69L430.70 192.55L429.86 192.41L429.02 192.27L428.18 192.12L427.34 191.95L426.50 191.78L425.66 191.61L424.82 191.43L423.98 191.25L423.14 191.07L422.30 190.90L421.45 190.74L420.61 190.57L419.77 190.39L418.93 190.22L418.09 190.06L417.25 189.89L416.41 189.74L415.57 189.59L414.73 189.45L413.89 189.33L413.05 189.22L412.20 189.11L411.36 189.01L410.52 188.90L409.68 188.79L408.84 188.68L408.00 188.55L407.16 188.40L406.32 188.24L405.48 188.05L404.64 187.84L403.80 187.65L402.95 187.45L402.11 187.23L401.27 187.00L400.43 186.77L399.59 186.53L398.75 186.29L397.91 186.04L397.07 185.78L396.23 185.51L395.39 185.22L394.55 184.92L393.70 184.61L392.86 184.27L392.02 183.92L391.18 183.52L390.34 183.08L389.50 182.62L388.66 182.17L387.82 181.74L386.98 181.27L386.14 180.80L385.30 180.28L384.45 179.65L383.61 178.96L382.77 178.25L381.93 177.57L381.09 176.97L380.25 176.41L379.41 175.89L378.57 175.40L377.73 174.94L376.89 174.52L376.05 174.13L375.20 173.74L374.36 173.31L373.52 172.86L372.68 172.39L371.84 171.88L371.00 171.31L370.16 170.57L369.32 169.73L368.48 168.84L367.64 167.92L366.80 166.95L365.95 165.90L365.11 164.83L364.27 163.80L363.43 162.88L362.59 162.03L361.75 161.20L360.91 160.37L360.07 159.49L359.23 158.58L358.39 157.66L357.55 156.73L356.70 155.78L355.86 154.80L355.02 153.81L354.18 152.78L353.34 151.76L352.50 150.69L351.66 149.59L350.82 148.48L349.98 147.34L349.14 146.21L348.30 145.07L347.45 143.95L346.61 142.84L345.77 141.72L344.93 140.60L344.09 139.47L343.25 138.35L342.41 137.23L341.57 136.11L340.73 134.99L339.89 133.89L339.05 132.80L338.20 131.72L337.36 130.65L336.52 129.52L335.68 128.38L334.84 127.23L334.00 126.07L333.16 124.88L332.32 123.68L331.48 122.44L330.64 121.18L329.80 119.89L328.95 118.58L328.11 117.25L327.27 115.91L326.43 114.54L325.59 113.15L324.75 111.75L323.91 110.32L323.07 108.88L322.23 107.42L321.39 105.94L320.55 104.44Z" fill="#f4780f" fill-opacity="0.24" stroke="none" clip-path="url(#c278_35)"/>
<path d="M320.55 104.44L321.39 105.22L322.23 106.02L323.07 106.84L323.91 107.68L324.75 108.53L325.59 109.39L326.43 110.27L327.27 111.19L328.11 112.16L328.95 113.14L329.80 114.34L330.64 115.48L331.48 116.54L332.32 117.57L333.16 118.57L334.00 119.54L334.84 120.49L335.68 121.43L336.52 122.35L337.36 123.27L338.20 124.36L339.05 125.46L339.89 126.55L340.73 127.65L341.57 128.73L342.41 129.80L343.25 130.87L344.09 131.93L344.93 132.99L345.77 134.06L346.61 135.13L347.45 136.22L348.30 137.32L349.14 138.41L349.98 139.52L350.82 140.62L351.66 141.74L352.50 142.87L353.34 144.02L354.18 145.18L355.02 146.31L355.86 147.48L356.70 148.66L357.55 149.86L358.39 151.05L359.23 152.22L360.07 153.36L360.91 154.46L361.75 155.53L362.59 156.59L363.43 157.61L364.27 158.60L365.11 159.57L365.95 160.51L366.80 161.42L367.64 162.29L368.48 163.11L369.32 163.89L370.16 164.65L371.00 165.42L371.84 166.27L372.68 167.12L373.52 167.95L374.36 168.73L375.20 169.47L376.05 170.19L376.89 170.88L377.73 171.55L378.57 172.18L379.41 172.78L380.25 173.36L381.09 173.92L381.93 174.46L382.77 174.98L383.61 175.48L384.45 175.94L385.30 176.38L386.14 176.79L386.98 177.18L387.82 177.55L388.66 178.08L389.50 178.61L390.34 179.11L391.18 179.61L392.02 180.09L392.86 180.56L393.70 181.02L394.55 181.47L395.39 181.91L396.23 182.34L397.07 182.77L397.91 183.18L398.75 183.59L399.59 183.99L400.43 184.39L401.27 184.78L402.11 185.16L402.95 185.54L403.80 185.91L404.64 186.27L405.48 186.54L406.32 186.80L407.16 187.05L408.00 187.30L408.84 187.55L409.68 187.80L410.52 188.04L411.36 188.27L412.20 188.50L413.05 188.72L413.89 188.94L414.73 189.14L415.57 189.34L416.41 189.52L417.25 189.70L418.09 189.88L418.93 190.05L419.77 190.21L420.61 190.37L421.45 190.53L422.30 190.63L423.14 190.72L423.98 190.82L424.82 190.91L425.66 191.01L426.50 191.10L427.34 191.20L428.18 191.29L429.02 191.37L429.86 191.46L430.70 191.54L431.55 191.62L432.39 191.69L433.23 191.76L434.07 191.82L434.91 191.87L435.75 191.93L436.59 191.98L437.43 192.03L438.27 192.08L439.11 192.13L439.95 192.18L440.80 192.23L441.64 192.28L442.48 192.33L443.32 192.37L444.16 192.42L445.00 192.46L445.84 192.51L446.68 192.55L447.52 192.59L448.36 192.63L449.20 192.67L450.05 192.71L450.89 192.75L451.73 192.78L452.57 192.81L453.41 192.85L454.25 192.88L455.09 192.91L455.09 194.38L454.25 194.40L453.41 194.42L452.57 194.43L451.73 194.45L450.89 194.46L450.05 194.48L449.20 194.49L448.36 194.50L447.52 194.51L446.68 194.51L445.84 194.52L445.00 194.53L444.16 194.53L443.32 194.53L442.48 194.54L441.64 194.54L440.80 194.54L439.95 194.54L439.11 194.54L438.27 194.54L437.43 194.53L436.59 194.53L435.75 194.53L434.91 194.52L434.07 194.52L433.23 194.50L432.39 194.49L431.55 194.46L430.70 194.43L429.86 194.40L429.02 194.37L428.18 194.33L427.34 194.29L426.50 194.24L425.66 194.20L424.82 194.15L423.98 194.11L423.14 194.06L422.30 194.01L421.45 193.97L420.61 193.92L419.77 193.87L418.93 193.82L418.09 193.77L417.25 193.70L416.41 193.64L415.57 193.57L414.73 193.48L413.89 193.39L413.05 193.29L412.20 193.19L411.36 193.07L410.52 192.95L409.68 192.82L408.84 192.69L408.00 192.56L407.16 192.42L406.32 192.28L405.48 192.13L404.64 191.98L403.80 191.82L402.95 191.65L402.11 191.48L401.27 191.30L400.43 191.12L399.59 190.93L398.75 190.73L397.91 190.53L397.07 190.32L396.23 190.10L395.39 189.88L394.55 189.64L393.70 189.40L392.86 189.14L392.02 188.88L391.18 188.60L390.34 188.31L389.50 188.01L388.66 187.69L387.82 187.36L386.98 187.05L386.14 186.73L385.30 186.38L384.45 186.01L383.61 185.60L382.77 185.17L381.93 184.71L381.09 184.23L380.25 183.73L379.41 183.21L378.57 182.67L377.73 182.10L376.89 181.50L376.05 180.86L375.20 180.21L374.36 179.53L373.52 178.81L372.68 178.04L371.84 177.25L371.00 176.46L370.16 175.63L369.32 174.81L368.48 173.97L367.64 173.09L366.80 172.16L365.95 171.19L365.11 170.18L364.27 169.15L363.43 168.10L362.59 167.02L361.75 165.90L360.91 164.76L360.07 163.60L359.23 162.40L358.39 161.17L357.55 159.92L356.70 158.66L355.86 157.41L355.02 156.19L354.18 154.99L353.34 153.79L352.50 152.60L351.66 151.43L350.82 150.27L349.98 149.12L349.14 147.97L348.30 146.83L347.45 145.69L346.61 144.56L345.77 143.44L344.93 142.33L344.09 141.23L343.25 140.13L342.41 139.02L341.57 137.90L340.73 136.78L339.89 135.64L339.05 134.50L338.20 133.36L337.36 132.22L336.52 130.98L335.68 129.74L334.84 128.47L334.00 127.20L333.16 125.90L332.32 124.57L331.48 123.22L330.64 121.83L329.80 120.37L328.95 118.85L328.11 117.30L327.27 115.76L326.43 114.27L325.59 112.82L324.75 111.38L323.91 109.96L323.07 108.55L322.23 107.17L321.39 105.80L320.55 104.44Z" fill="#d8232a" fill-opacity="0.24" stroke="none" clip-path="url(#c278_35)"/>
<path d="M286.91 71.81L287.75 71.91L288.59 72.05L289.43 72.22L290.27 72.43L291.11 72.72L291.95 73.20L292.80 74.00L293.64 74.96L294.48 75.93L295.32 77.01L296.16 78.20L297.00 79.32L297.84 80.25L298.68 81.05L299.52 81.78L300.36 82.48L301.20 83.16L302.05 83.87L302.89 84.56L303.73 85.23L304.57 85.91L305.41 86.59L306.25 87.29L307.09 88.03L307.93 88.78L308.77 89.55L309.61 90.34L310.45 91.16L311.30 92.03L312.14 92.96L312.98 93.99L313.82 95.14L314.66 96.36L315.50 97.61L316.34 98.81L317.18 99.96L318.02 101.10L318.86 102.22L319.70 103.34L320.55 104.44" fill="none" stroke="#000" stroke-width="1.65" stroke-linejoin="round" stroke-dasharray="5.55 2.4" clip-path="url(#c278_35)"/>
<path d="M320.55 104.44L321.39 105.74L322.23 107.03L323.07 108.30L323.91 109.55L324.75 110.79L325.59 112.02L326.43 113.23L327.27 114.42L328.11 115.60L328.95 116.77L329.80 117.92L330.64 119.05L331.48 120.17L332.32 121.27L333.16 122.35L334.00 123.41L334.84 124.46L335.68 125.49L336.52 126.51L337.36 127.52L338.20 128.52L339.05 129.51L339.89 130.51L340.73 131.50L341.57 132.49L342.41 133.49L343.25 134.47L344.09 135.45L344.93 136.42L345.77 137.38L346.61 138.34L347.45 139.29L348.30 140.23L349.14 141.18L349.98 142.11L350.82 143.04L351.66 143.96L352.50 144.87L353.34 145.77L354.18 146.65L355.02 147.53L355.86 148.40L356.70 149.27L357.55 150.13L358.39 150.96L359.23 151.76L360.07 152.51L360.91 153.21L361.75 153.84L362.59 154.45L363.43 155.07L364.27 155.75L365.11 156.51L365.95 157.30L366.80 158.07L367.64 158.78L368.48 159.43L369.32 160.05L370.16 160.64L371.00 161.22L371.84 161.78L372.68 162.32L373.52 162.85L374.36 163.35L375.20 163.83L376.05 164.29L376.89 164.74L377.73 165.17L378.57 165.59L379.41 166.02L380.25 166.42L381.09 166.78L381.93 167.07L382.77 167.33L383.61 167.56L384.45 167.77L385.30 168.00L386.14 168.22L386.98 168.43L387.82 168.67L388.66 168.96L389.50 169.29L390.34 169.65L391.18 170.00L392.02 170.33L392.86 170.63L393.70 170.92L394.55 171.20L395.39 171.48L396.23 171.75L397.07 172.01L397.91 172.26L398.75 172.52L399.59 172.77L400.43 173.02L401.27 173.28L402.11 173.53L402.95 173.78L403.80 174.02L404.64 174.25L405.48 174.45L406.32 174.62L407.16 174.78L408.00 174.92L408.84 175.05L409.68 175.17L410.52 175.28L411.36 175.39L412.20 175.49L413.05 175.59L413.89 175.69L414.73 175.79L415.57 175.89L416.41 175.99L417.25 176.08L418.09 176.17L418.93 176.25L419.77 176.34L420.61 176.44L421.45 176.54L422.30 176.67L423.14 176.83L423.98 177.01L424.82 177.19L425.66 177.38L426.50 177.55L427.34 177.71L428.18 177.83L429.02 177.91L429.86 177.94L430.70 177.92L431.55 177.87L432.39 177.80L433.23 177.72L434.07 177.63L434.91 177.54L435.75 177.46L436.59 177.39L437.43 177.34L438.27 177.32L439.11 177.35L439.95 177.41L440.80 177.50L441.64 177.62L442.48 177.76L443.32 177.90L444.16 178.04L445.00 178.18L445.84 178.35L446.68 178.55L447.52 178.77L448.36 178.97L449.20 179.11L450.05 179.16L450.89 179.16L451.73 179.15L452.57 179.11L453.41 179.05L454.25 178.94L455.09 178.80" fill="none" stroke="#2f76bc" stroke-width="1.65" stroke-linejoin="round" stroke-dasharray="5.55 2.4" clip-path="url(#c278_35)"/>
<path d="M320.55 104.44L321.39 105.82L322.23 107.17L323.07 108.51L323.91 109.83L324.75 111.13L325.59 112.42L326.43 113.68L327.27 114.92L328.11 116.15L328.95 117.35L329.80 118.54L330.64 119.70L331.48 120.85L332.32 121.96L333.16 123.04L334.00 124.10L334.84 125.14L335.68 126.17L336.52 127.18L337.36 128.20L338.20 129.21L339.05 130.23L339.89 131.25L340.73 132.29L341.57 133.35L342.41 134.41L343.25 135.47L344.09 136.53L344.93 137.59L345.77 138.65L346.61 139.71L347.45 140.76L348.30 141.82L349.14 142.89L349.98 143.97L350.82 145.04L351.66 146.10L352.50 147.13L353.34 148.14L354.18 149.10L355.02 150.03L355.86 150.94L356.70 151.82L357.55 152.68L358.39 153.52L359.23 154.35L360.07 155.16L360.91 155.95L361.75 156.70L362.59 157.43L363.43 158.19L364.27 159.02L365.11 159.95L365.95 160.93L366.80 161.89L367.64 162.77L368.48 163.60L369.32 164.40L370.16 165.14L371.00 165.79L371.84 166.36L372.68 166.86L373.52 167.33L374.36 167.79L375.20 168.22L376.05 168.61L376.89 169.00L377.73 169.41L378.57 169.87L379.41 170.37L380.25 170.89L381.09 171.45L381.93 172.05L382.77 172.72L383.61 173.44L384.45 174.13L385.30 174.76L386.14 175.28L386.98 175.75L387.82 176.22L388.66 176.74L389.50 177.28L390.34 177.83L391.18 178.36L392.02 178.86L392.86 179.30L393.70 179.73L394.55 180.14L395.39 180.53L396.23 180.91L397.07 181.27L397.91 181.62L398.75 181.96L399.59 182.30L400.43 182.63L401.27 182.95L402.11 183.27L402.95 183.58L403.80 183.88L404.64 184.16L405.48 184.41L406.32 184.64L407.16 184.85L408.00 185.03L408.84 185.20L409.68 185.36L410.52 185.51L411.36 185.65L412.20 185.80L413.05 185.95L413.89 186.10L414.73 186.26L415.57 186.44L416.41 186.63L417.25 186.83L418.09 187.03L418.93 187.24L419.77 187.45L420.61 187.66L421.45 187.87L422.30 188.08L423.14 188.29L423.98 188.51L424.82 188.73L425.66 188.95L426.50 189.16L427.34 189.38L428.18 189.58L429.02 189.78L429.86 189.96L430.70 190.14L431.55 190.32L432.39 190.49L433.23 190.67L434.07 190.84L434.91 191.00L435.75 191.16L436.59 191.31L437.43 191.45L438.27 191.58L439.11 191.70L439.95 191.80L440.80 191.90L441.64 191.99L442.48 192.09L443.32 192.18L444.16 192.27L445.00 192.35L445.84 192.44L446.68 192.52L447.52 192.59L448.36 192.67L449.20 192.73L450.05 192.79L450.89 192.85L451.73 192.90L452.57 192.94L453.41 192.98L454.25 193.01L455.09 193.03" fill="none" stroke="#f4780f" stroke-width="1.65" stroke-linejoin="round" stroke-dasharray="5.55 2.4" clip-path="url(#c278_35)"/>
<path d="M320.55 104.44L321.39 105.65L322.23 106.88L323.07 108.13L323.91 109.39L324.75 110.67L325.59 111.97L326.43 113.28L327.27 114.63L328.11 116.03L328.95 117.44L329.80 118.82L330.64 120.14L331.48 121.39L332.32 122.60L333.16 123.78L334.00 124.94L334.84 126.08L335.68 127.20L336.52 128.30L337.36 129.40L338.20 130.50L339.05 131.59L339.89 132.69L340.73 133.79L341.57 134.87L342.41 135.94L343.25 137.00L344.09 138.06L344.93 139.13L345.77 140.19L346.61 141.27L347.45 142.36L348.30 143.45L349.14 144.55L349.98 145.65L350.82 146.76L351.66 147.88L352.50 149.01L353.34 150.15L354.18 151.31L355.02 152.51L355.86 153.73L356.70 154.98L357.55 156.24L358.39 157.49L359.23 158.72L360.07 159.92L360.91 161.08L361.75 162.22L362.59 163.33L363.43 164.42L364.27 165.47L365.11 166.50L365.95 167.51L366.80 168.48L367.64 169.41L368.48 170.29L369.32 171.13L370.16 171.95L371.00 172.78L371.84 173.63L372.68 174.48L373.52 175.31L374.36 176.10L375.20 176.83L376.05 177.55L376.89 178.24L377.73 178.91L378.57 179.54L379.41 180.14L380.25 180.72L381.09 181.28L381.93 181.82L382.77 182.34L383.61 182.84L384.45 183.31L385.30 183.74L386.14 184.15L386.98 184.54L387.82 184.91L388.66 185.26L389.50 185.60L390.34 185.92L391.18 186.23L392.02 186.53L392.86 186.82L393.70 187.10L394.55 187.36L395.39 187.62L396.23 187.87L397.07 188.10L397.91 188.34L398.75 188.56L399.59 188.78L400.43 188.99L401.27 189.19L402.11 189.39L402.95 189.59L403.80 189.77L404.64 189.96L405.48 190.13L406.32 190.30L407.16 190.46L408.00 190.62L408.84 190.77L409.68 190.93L410.52 191.07L411.36 191.22L412.20 191.35L413.05 191.48L413.89 191.61L414.73 191.72L415.57 191.82L416.41 191.91L417.25 192.00L418.09 192.08L418.93 192.16L419.77 192.24L420.61 192.31L421.45 192.37L422.30 192.44L423.14 192.51L423.98 192.58L424.82 192.64L425.66 192.71L426.50 192.78L427.34 192.84L428.18 192.91L429.02 192.97L429.86 193.02L430.70 193.08L431.55 193.13L432.39 193.17L433.23 193.21L434.07 193.24L434.91 193.27L435.75 193.30L436.59 193.32L437.43 193.35L438.27 193.37L439.11 193.39L439.95 193.42L440.80 193.44L441.64 193.46L442.48 193.48L443.32 193.50L444.16 193.52L445.00 193.53L445.84 193.55L446.68 193.56L447.52 193.58L448.36 193.59L449.20 193.60L450.05 193.61L450.89 193.62L451.73 193.63L452.57 193.63L453.41 193.64L454.25 193.64L455.09 193.64" fill="none" stroke="#d8232a" stroke-width="1.65" stroke-linejoin="round" stroke-dasharray="5.55 2.4" clip-path="url(#c278_35)"/>
<rect x="278.5" y="35.0" width="185.00" height="159.50" fill="none" stroke="#8a8a8a" stroke-width="1"/>
<line x1="286.91" y1="194.5" x2="286.91" y2="196.7" stroke="#8a8a8a" stroke-width="1"/>
<text x="286.91" y="203.15" font-size="7.3" text-anchor="middle" fill="#262626" stroke="#262626" stroke-width="0.13" textLength="16.7" lengthAdjust="spacingAndGlyphs">2000</text>
<line x1="320.55" y1="194.5" x2="320.55" y2="196.7" stroke="#8a8a8a" stroke-width="1"/>
<text x="320.55" y="203.15" font-size="7.3" text-anchor="middle" fill="#262626" stroke="#262626" stroke-width="0.13" textLength="16.7" lengthAdjust="spacingAndGlyphs">2020</text>
<line x1="354.18" y1="194.5" x2="354.18" y2="196.7" stroke="#8a8a8a" stroke-width="1"/>
<text x="354.18" y="203.15" font-size="7.3" text-anchor="middle" fill="#262626" stroke="#262626" stroke-width="0.13" textLength="16.7" lengthAdjust="spacingAndGlyphs">2040</text>
<line x1="387.82" y1="194.5" x2="387.82" y2="196.7" stroke="#8a8a8a" stroke-width="1"/>
<text x="387.82" y="203.15" font-size="7.3" text-anchor="middle" fill="#262626" stroke="#262626" stroke-width="0.13" textLength="16.7" lengthAdjust="spacingAndGlyphs">2060</text>
<line x1="421.45" y1="194.5" x2="421.45" y2="196.7" stroke="#8a8a8a" stroke-width="1"/>
<text x="421.45" y="203.15" font-size="7.3" text-anchor="middle" fill="#262626" stroke="#262626" stroke-width="0.13" textLength="16.7" lengthAdjust="spacingAndGlyphs">2080</text>
<line x1="455.09" y1="194.5" x2="455.09" y2="196.7" stroke="#8a8a8a" stroke-width="1"/>
<text x="455.09" y="203.15" font-size="7.3" text-anchor="middle" fill="#262626" stroke="#262626" stroke-width="0.13" textLength="16.7" lengthAdjust="spacingAndGlyphs">2100</text>
<line x1="276.3" y1="47.27" x2="278.5" y2="47.27" stroke="#8a8a8a" stroke-width="1"/>
<text x="274.40" y="50.27" font-size="7.3" text-anchor="end" fill="#262626" stroke="#262626" stroke-width="0.13" textLength="8.24" lengthAdjust="spacingAndGlyphs">20</text>
<line x1="276.3" y1="71.81" x2="278.5" y2="71.81" stroke="#8a8a8a" stroke-width="1"/>
<text x="274.40" y="74.81" font-size="7.3" text-anchor="end" fill="#262626" stroke="#262626" stroke-width="0.13" textLength="4.12" lengthAdjust="spacingAndGlyphs">0</text>
<line x1="276.3" y1="96.35" x2="278.5" y2="96.35" stroke="#8a8a8a" stroke-width="1"/>
<text x="274.40" y="99.35" font-size="7.3" text-anchor="end" fill="#262626" stroke="#262626" stroke-width="0.13" textLength="12.99" lengthAdjust="spacingAndGlyphs">−20</text>
<line x1="276.3" y1="120.88" x2="278.5" y2="120.88" stroke="#8a8a8a" stroke-width="1"/>
<text x="274.40" y="123.88" font-size="7.3" text-anchor="end" fill="#262626" stroke="#262626" stroke-width="0.13" textLength="12.99" lengthAdjust="spacingAndGlyphs">−40</text>
<line x1="276.3" y1="145.42" x2="278.5" y2="145.42" stroke="#8a8a8a" stroke-width="1"/>
<text x="274.40" y="148.42" font-size="7.3" text-anchor="end" fill="#262626" stroke="#262626" stroke-width="0.13" textLength="12.99" lengthAdjust="spacingAndGlyphs">−60</text>
<line x1="276.3" y1="169.96" x2="278.5" y2="169.96" stroke="#8a8a8a" stroke-width="1"/>
<text x="274.40" y="172.96" font-size="7.3" text-anchor="end" fill="#262626" stroke="#262626" stroke-width="0.13" textLength="12.99" lengthAdjust="spacingAndGlyphs">−80</text>
<line x1="276.3" y1="194.50" x2="278.5" y2="194.50" stroke="#8a8a8a" stroke-width="1"/>
<text x="274.40" y="197.50" font-size="7.3" text-anchor="end" fill="#262626" stroke="#262626" stroke-width="0.13" textLength="17.11" lengthAdjust="spacingAndGlyphs">−100</text>
<clipPath id="c498_35"><rect x="498.9" y="35.0" width="185.10" height="159.50"/></clipPath>
<line x1="507.31" y1="35.0" x2="507.31" y2="194.5" stroke="#cfcfcf" stroke-width="1"/>
<line x1="540.97" y1="35.0" x2="540.97" y2="194.5" stroke="#cfcfcf" stroke-width="1"/>
<line x1="574.62" y1="35.0" x2="574.62" y2="194.5" stroke="#cfcfcf" stroke-width="1"/>
<line x1="608.28" y1="35.0" x2="608.28" y2="194.5" stroke="#cfcfcf" stroke-width="1"/>
<line x1="641.93" y1="35.0" x2="641.93" y2="194.5" stroke="#cfcfcf" stroke-width="1"/>
<line x1="675.59" y1="35.0" x2="675.59" y2="194.5" stroke="#cfcfcf" stroke-width="1"/>
<line x1="498.9" y1="35.00" x2="684.0" y2="35.00" stroke="#cfcfcf" stroke-width="1"/>
<line x1="498.9" y1="54.94" x2="684.0" y2="54.94" stroke="#cfcfcf" stroke-width="1"/>
<line x1="498.9" y1="74.88" x2="684.0" y2="74.88" stroke="#cfcfcf" stroke-width="1"/>
<line x1="498.9" y1="94.81" x2="684.0" y2="94.81" stroke="#cfcfcf" stroke-width="1"/>
<line x1="498.9" y1="114.75" x2="684.0" y2="114.75" stroke="#cfcfcf" stroke-width="1"/>
<line x1="498.9" y1="134.69" x2="684.0" y2="134.69" stroke="#cfcfcf" stroke-width="1"/>
<line x1="498.9" y1="154.62" x2="684.0" y2="154.62" stroke="#cfcfcf" stroke-width="1"/>
<line x1="498.9" y1="174.56" x2="684.0" y2="174.56" stroke="#cfcfcf" stroke-width="1"/>
<line x1="498.9" y1="194.50" x2="684.0" y2="194.50" stroke="#cfcfcf" stroke-width="1"/>
<path d="M540.97 115.75L541.81 115.25L542.65 114.75L543.49 114.25L544.33 113.75L545.17 113.25L546.02 112.76L546.86 112.26L547.70 111.76L548.54 111.26L549.38 110.76L550.22 110.48L551.06 110.20L551.91 109.93L552.75 109.65L553.59 109.37L554.43 109.09L555.27 108.81L556.11 108.53L556.95 108.25L557.80 107.97L558.64 107.79L559.48 107.61L560.32 107.43L561.16 107.25L562.00 107.07L562.84 106.89L563.68 106.72L564.53 106.54L565.37 106.36L566.21 106.18L567.05 106.12L567.89 106.06L568.73 106.00L569.57 105.94L570.42 105.88L571.26 105.82L572.10 105.76L572.94 105.70L573.78 105.64L574.62 105.58L575.46 105.90L576.31 106.22L577.15 106.54L577.99 106.85L578.83 107.17L579.67 107.49L580.51 107.81L581.35 108.13L582.19 108.45L583.04 108.77L583.88 108.87L584.72 108.97L585.56 109.07L586.40 109.17L587.24 109.27L588.08 109.37L588.93 109.47L589.77 109.57L590.61 109.67L591.45 109.77L592.29 109.77L593.13 109.77L593.97 109.77L594.82 109.77L595.66 109.77L596.50 109.77L597.34 109.77L598.18 109.77L599.02 109.77L599.86 109.77L600.71 109.77L601.55 109.77L602.39 109.77L603.23 109.77L604.07 109.77L604.91 109.77L605.75 109.77L606.59 109.77L607.44 109.77L608.28 109.77L609.12 109.49L609.96 109.22L610.80 108.94L611.64 108.67L612.48 108.39L613.33 108.12L614.17 107.85L615.01 107.57L615.85 107.57L616.69 107.57L617.53 107.57L618.37 107.57L619.22 107.57L620.06 107.57L620.90 107.57L621.74 107.57L622.58 107.57L623.42 107.57L624.26 107.57L625.10 107.57L625.95 107.66L626.79 107.76L627.63 107.85L628.47 107.94L629.31 108.03L630.15 108.12L630.99 108.22L631.84 108.31L632.68 108.40L633.52 108.49L634.36 108.58L635.20 108.68L636.04 108.77L636.88 108.88L637.73 109.00L638.57 109.11L639.41 109.22L640.25 109.34L641.09 109.45L641.93 109.57L642.77 109.33L643.61 109.10L644.46 108.87L645.30 108.63L646.14 108.40L646.98 108.16L647.82 107.93L648.66 107.70L649.50 107.46L650.35 107.23L651.19 107.00L652.03 106.76L652.87 106.63L653.71 106.90L654.55 107.18L655.39 107.45L656.24 107.72L657.08 108.00L657.92 108.27L658.76 108.55L659.60 108.82L660.44 109.09L661.28 109.37L662.12 109.11L662.97 108.86L663.81 108.61L664.65 108.35L665.49 108.10L666.33 107.84L667.17 107.59L668.01 107.34L668.86 107.08L669.70 106.83L670.54 106.58L671.38 106.74L672.22 106.91L673.06 107.07L673.90 107.24L674.75 107.41L675.59 107.57L675.59 121.53L674.75 121.63L673.90 121.73L673.06 121.83L672.22 121.93L671.38 122.03L670.54 122.13L669.70 122.25L668.86 122.38L668.01 122.51L667.17 122.63L666.33 122.76L665.49 122.89L664.65 123.02L663.81 123.14L662.97 123.27L662.12 123.40L661.28 123.52L660.44 123.46L659.60 123.39L658.76 123.32L657.92 123.26L657.08 123.19L656.24 123.12L655.39 123.06L654.55 122.99L653.71 122.92L652.87 122.86L652.03 122.79L651.19 122.72L650.35 122.66L649.50 122.59L648.66 122.53L647.82 122.38L646.98 122.23L646.14 122.08L645.30 121.93L644.46 121.78L643.61 121.63L642.77 121.48L641.93 121.33L641.09 121.39L640.25 121.45L639.41 121.51L638.57 121.57L637.73 121.63L636.88 121.69L636.04 121.75L635.20 121.81L634.36 121.87L633.52 121.93L632.68 121.87L631.84 121.81L630.99 121.75L630.15 121.69L629.31 121.63L628.47 121.57L627.63 121.51L626.79 121.45L625.95 121.39L625.10 121.33L624.26 121.43L623.42 121.53L622.58 121.63L621.74 121.73L620.90 121.83L620.06 121.93L619.22 122.03L618.37 122.13L617.53 122.23L616.69 122.33L615.85 122.43L615.01 122.53L614.17 123.17L613.33 123.82L612.48 124.47L611.64 125.12L610.80 125.77L609.96 126.41L609.12 127.06L608.28 127.71L607.44 127.96L606.59 128.21L605.75 128.46L604.91 128.71L604.07 128.54L603.23 128.37L602.39 128.21L601.55 128.04L600.71 127.88L599.86 127.71L599.02 127.51L598.18 127.31L597.34 127.11L596.50 126.91L595.66 126.71L594.82 126.51L593.97 126.31L593.13 126.11L592.29 125.92L591.45 125.72L590.61 125.62L589.77 125.52L588.93 125.42L588.08 125.32L587.24 125.22L586.40 125.12L585.56 125.02L584.72 124.92L583.88 124.82L583.04 124.72L582.19 124.52L581.35 124.32L580.51 124.12L579.67 123.92L578.83 123.72L577.99 123.52L577.15 123.32L576.31 123.12L575.46 122.92L574.62 122.72L573.78 122.72L572.94 122.72L572.10 122.72L571.26 122.72L570.42 122.72L569.57 122.72L568.73 122.72L567.89 122.72L567.05 122.72L566.21 122.72L565.37 122.76L564.53 122.80L563.68 122.84L562.84 122.88L562.00 122.92L561.16 122.96L560.32 123.00L559.48 123.04L558.64 123.08L557.80 123.12L556.95 122.92L556.11 122.72L555.27 122.53L554.43 122.33L553.59 122.13L552.75 121.93L551.91 121.73L551.06 121.53L550.22 121.33L549.38 121.13L548.54 120.59L547.70 120.05L546.86 119.52L546.02 118.98L545.17 118.44L544.33 117.90L543.49 117.36L542.65 116.82L541.81 116.29L540.97 115.75Z" fill="#2f76bc" fill-opacity="0.22" stroke="none" clip-path="url(#c498_35)"/>
<path d="M540.97 115.75L541.81 115.21L542.65 114.67L543.49 114.13L544.33 113.59L545.17 113.06L546.02 112.52L546.86 111.98L547.70 111.44L548.54 110.90L549.38 110.36L550.22 110.12L551.06 109.89L551.91 109.65L552.75 109.41L553.59 109.17L554.43 108.93L555.27 108.69L556.11 108.45L556.95 108.21L557.80 107.97L558.64 107.83L559.48 107.69L560.32 107.55L561.16 107.41L562.00 107.27L562.84 107.13L563.68 106.99L564.53 106.85L565.37 106.72L566.21 106.58L567.05 106.60L567.89 106.62L568.73 106.64L569.57 106.66L570.42 106.68L571.26 106.70L572.10 106.72L572.94 106.74L573.78 106.76L574.62 106.77L575.46 106.97L576.31 107.17L577.15 107.37L577.99 107.57L578.83 107.77L579.67 107.97L580.51 108.17L581.35 108.37L582.19 108.57L583.04 108.77L583.88 108.97L584.72 109.17L585.56 109.37L586.40 109.57L587.24 109.77L588.08 109.96L588.93 110.16L589.77 110.36L590.61 110.56L591.45 110.76L592.29 110.86L593.13 110.96L593.97 111.06L594.82 111.16L595.66 111.26L596.50 111.36L597.34 111.46L598.18 111.56L599.02 111.66L599.86 111.76L600.71 111.86L601.55 111.96L602.39 112.06L603.23 112.16L604.07 112.26L604.91 112.36L605.75 112.46L606.59 112.56L607.44 112.66L608.28 112.76L609.12 112.70L609.96 112.64L610.80 112.58L611.64 112.52L612.48 112.46L613.33 112.40L614.17 112.34L615.01 112.28L615.85 112.22L616.69 112.16L617.53 112.10L618.37 112.04L619.22 111.98L620.06 111.92L620.90 111.86L621.74 111.80L622.58 111.74L623.42 111.68L624.26 111.62L625.10 111.56L625.95 111.50L626.79 111.44L627.63 111.38L628.47 111.32L629.31 111.26L630.15 111.20L630.99 111.14L631.84 111.08L632.68 111.02L633.52 110.96L634.36 110.90L635.20 110.84L636.04 110.78L636.88 110.72L637.73 110.66L638.57 110.60L639.41 110.54L640.25 110.48L641.09 110.42L641.93 110.36L642.77 110.36L643.61 110.36L644.46 110.36L645.30 110.36L646.14 110.36L646.98 110.36L647.82 110.36L648.66 110.36L649.50 110.36L650.35 110.36L651.19 110.36L652.03 110.36L652.87 110.36L653.71 110.36L654.55 110.36L655.39 110.36L656.24 110.36L657.08 110.36L657.92 110.36L658.76 110.36L659.60 110.36L660.44 110.36L661.28 110.36L662.12 110.36L662.97 110.36L663.81 110.36L664.65 110.36L665.49 110.36L666.33 110.36L667.17 110.36L668.01 110.36L668.86 110.36L669.70 110.36L670.54 110.36L671.38 110.36L672.22 110.36L673.06 110.36L673.90 110.36L674.75 110.36L675.59 110.36L675.59 117.74L674.75 117.79L673.90 117.84L673.06 117.89L672.22 117.94L671.38 117.99L670.54 118.04L669.70 118.09L668.86 118.14L668.01 118.19L667.17 118.24L666.33 118.29L665.49 118.34L664.65 118.39L663.81 118.44L662.97 118.49L662.12 118.54L661.28 118.59L660.44 118.64L659.60 118.69L658.76 118.74L657.92 118.79L657.08 118.84L656.24 118.89L655.39 118.94L654.55 118.99L653.71 119.04L652.87 119.09L652.03 119.14L651.19 119.19L650.35 119.24L649.50 119.29L648.66 119.34L647.82 119.39L646.98 119.44L646.14 119.49L645.30 119.53L644.46 119.58L643.61 119.63L642.77 119.68L641.93 119.73L641.09 119.77L640.25 119.80L639.41 119.83L638.57 119.87L637.73 119.90L636.88 119.93L636.04 119.97L635.20 120.00L634.36 120.03L633.52 120.07L632.68 120.10L631.84 120.13L630.99 120.17L630.15 120.20L629.31 120.23L628.47 120.27L627.63 120.30L626.79 120.33L625.95 120.37L625.10 120.40L624.26 120.43L623.42 120.47L622.58 120.50L621.74 120.53L620.90 120.57L620.06 120.60L619.22 120.63L618.37 120.66L617.53 120.70L616.69 120.73L615.85 120.93L615.01 121.13L614.17 121.33L613.33 121.53L612.48 121.73L611.64 121.93L610.80 122.13L609.96 122.33L609.12 122.53L608.28 122.72L607.44 123.12L606.59 123.52L605.75 123.92L604.91 124.32L604.07 124.72L603.23 125.12L602.39 125.52L601.55 125.92L600.71 126.31L599.86 126.71L599.02 126.88L598.18 127.04L597.34 127.21L596.50 127.38L595.66 127.54L594.82 127.71L593.97 127.61L593.13 127.51L592.29 127.41L591.45 127.31L590.61 127.53L589.77 127.76L588.93 127.98L588.08 128.21L587.24 128.43L586.40 128.66L585.56 128.88L584.72 129.11L583.88 128.63L583.04 128.16L582.19 127.68L581.35 127.21L580.51 126.74L579.67 126.26L578.83 125.79L577.99 125.32L577.15 124.92L576.31 124.52L575.46 124.12L574.62 123.72L573.78 123.62L572.94 123.52L572.10 123.42L571.26 123.32L570.42 123.22L569.57 123.12L568.73 123.02L567.89 122.92L567.05 122.82L566.21 122.72L565.37 122.76L564.53 122.80L563.68 122.84L562.84 122.88L562.00 122.92L561.16 122.96L560.32 123.00L559.48 123.04L558.64 123.08L557.80 123.12L556.95 122.92L556.11 122.72L555.27 122.53L554.43 122.33L553.59 122.13L552.75 121.93L551.91 121.73L551.06 121.53L550.22 121.33L549.38 121.13L548.54 120.59L547.70 120.05L546.86 119.52L546.02 118.98L545.17 118.44L544.33 117.90L543.49 117.36L542.65 116.82L541.81 116.29L540.97 115.75Z" fill="#f4780f" fill-opacity="0.22" stroke="none" clip-path="url(#c498_35)"/>
<path d="M540.97 115.75L541.81 115.21L542.65 114.67L543.49 114.13L544.33 113.59L545.17 113.06L546.02 112.52L546.86 111.98L547.70 111.44L548.54 110.90L549.38 110.36L550.22 110.12L551.06 109.89L551.91 109.65L552.75 109.41L553.59 109.17L554.43 108.93L555.27 108.69L556.11 108.45L556.95 108.21L557.80 107.97L558.64 107.83L559.48 107.69L560.32 107.55L561.16 107.41L562.00 107.27L562.84 107.13L563.68 106.99L564.53 106.85L565.37 106.72L566.21 106.58L567.05 106.48L567.89 106.38L568.73 106.28L569.57 106.18L570.42 106.08L571.26 105.98L572.10 105.88L572.94 105.78L573.78 105.68L574.62 105.58L575.46 105.58L576.31 105.58L577.15 105.58L577.99 105.58L578.83 105.58L579.67 105.58L580.51 105.58L581.35 105.58L582.19 105.58L583.04 105.58L583.88 105.46L584.72 105.34L585.56 105.22L586.40 105.10L587.24 104.98L588.08 104.86L588.93 104.74L589.77 104.62L590.61 104.50L591.45 104.38L592.29 104.38L593.13 104.38L593.97 104.38L594.82 104.38L595.66 104.38L596.50 104.38L597.34 104.38L598.18 104.38L599.02 104.38L599.86 104.38L600.71 104.43L601.55 104.48L602.39 104.53L603.23 104.58L604.07 104.63L604.91 104.68L605.75 104.73L606.59 104.78L607.44 105.45L608.28 106.11L609.12 106.77L609.96 107.44L610.80 108.10L611.64 108.77L612.48 109.10L613.33 109.43L614.17 109.77L615.01 110.10L615.85 110.43L616.69 110.76L617.53 110.80L618.37 110.83L619.22 110.86L620.06 110.90L620.90 110.93L621.74 110.96L622.58 111.00L623.42 111.03L624.26 111.06L625.10 111.09L625.95 111.13L626.79 111.16L627.63 111.19L628.47 111.23L629.31 111.26L630.15 111.29L630.99 111.33L631.84 111.36L632.68 111.39L633.52 111.43L634.36 111.46L635.20 111.49L636.04 111.53L636.88 111.56L637.73 111.59L638.57 111.63L639.41 111.66L640.25 111.69L641.09 111.73L641.93 111.76L642.77 111.77L643.61 111.79L644.46 111.80L645.30 111.82L646.14 111.83L646.98 111.85L647.82 111.86L648.66 111.88L649.50 111.89L650.35 111.91L651.19 111.92L652.03 111.94L652.87 111.95L653.71 111.97L654.55 111.98L655.39 112.00L656.24 112.01L657.08 112.03L657.92 112.04L658.76 112.06L659.60 112.07L660.44 112.09L661.28 112.10L662.12 112.12L662.97 112.13L663.81 112.15L664.65 112.16L665.49 112.18L666.33 112.19L667.17 112.21L668.01 112.22L668.86 112.24L669.70 112.25L670.54 112.27L671.38 112.28L672.22 112.30L673.06 112.31L673.90 112.33L674.75 112.34L675.59 112.36L675.59 115.75L674.75 115.77L673.90 115.80L673.06 115.82L672.22 115.85L671.38 115.87L670.54 115.90L669.70 115.92L668.86 115.95L668.01 115.97L667.17 116.00L666.33 116.02L665.49 116.05L664.65 116.07L663.81 116.10L662.97 116.12L662.12 116.15L661.28 116.17L660.44 116.20L659.60 116.22L658.76 116.25L657.92 116.27L657.08 116.30L656.24 116.32L655.39 116.34L654.55 116.37L653.71 116.39L652.87 116.42L652.03 116.44L651.19 116.47L650.35 116.49L649.50 116.52L648.66 116.54L647.82 116.57L646.98 116.59L646.14 116.62L645.30 116.64L644.46 116.67L643.61 116.69L642.77 116.72L641.93 116.74L641.09 116.78L640.25 116.81L639.41 116.84L638.57 116.88L637.73 116.91L636.88 116.94L636.04 116.98L635.20 117.01L634.36 117.04L633.52 117.08L632.68 117.11L631.84 117.14L630.99 117.18L630.15 117.21L629.31 117.24L628.47 117.28L627.63 117.31L626.79 117.34L625.95 117.38L625.10 117.41L624.26 117.44L623.42 117.47L622.58 117.51L621.74 117.54L620.90 117.57L620.06 117.61L619.22 117.64L618.37 117.67L617.53 117.71L616.69 117.74L615.85 117.84L615.01 117.94L614.17 118.04L613.33 118.14L612.48 118.24L611.64 118.34L610.80 118.44L609.96 118.54L609.12 118.64L608.28 118.74L607.44 118.94L606.59 119.14L605.75 119.34L604.91 119.53L604.07 119.73L603.23 119.93L602.39 120.13L601.55 120.33L600.71 120.53L599.86 120.73L599.02 120.83L598.18 120.93L597.34 121.03L596.50 121.13L595.66 121.23L594.82 121.33L593.97 121.43L593.13 121.53L592.29 121.63L591.45 121.73L590.61 121.75L589.77 121.77L588.93 121.79L588.08 121.81L587.24 121.83L586.40 121.85L585.56 121.87L584.72 121.89L583.88 121.91L583.04 121.93L582.19 121.97L581.35 122.01L580.51 122.05L579.67 122.09L578.83 122.13L577.99 122.17L577.15 122.21L576.31 122.25L575.46 122.29L574.62 122.33L573.78 122.37L572.94 122.41L572.10 122.45L571.26 122.49L570.42 122.53L569.57 122.57L568.73 122.61L567.89 122.65L567.05 122.69L566.21 122.72L565.37 122.76L564.53 122.80L563.68 122.84L562.84 122.88L562.00 122.92L561.16 122.96L560.32 123.00L559.48 123.04L558.64 123.08L557.80 123.12L556.95 122.92L556.11 122.72L555.27 122.53L554.43 122.33L553.59 122.13L552.75 121.93L551.91 121.73L551.06 121.53L550.22 121.33L549.38 121.13L548.54 120.59L547.70 120.05L546.86 119.52L546.02 118.98L545.17 118.44L544.33 117.90L543.49 117.36L542.65 116.82L541.81 116.29L540.97 115.75Z" fill="#d8232a" fill-opacity="0.22" stroke="none" clip-path="url(#c498_35)"/>
<path d="M507.31 114.75L508.15 114.75L509.00 114.75L509.84 114.75L510.68 114.75L511.52 114.75L512.36 114.75L513.20 114.75L514.04 114.75L514.89 114.75L515.73 114.75L516.57 114.75L517.41 114.75L518.25 114.75L519.09 114.75L519.93 114.75L520.78 114.75L521.62 114.75L522.46 114.75L523.30 114.75L524.14 114.75L524.98 114.76L525.82 114.78L526.66 114.81L527.51 114.84L528.35 114.89L529.19 114.94L530.03 114.99L530.87 115.05L531.71 115.10L532.55 115.15L533.40 115.20L534.24 115.25L535.08 115.30L535.92 115.36L536.76 115.42L537.60 115.48L538.44 115.55L539.29 115.61L540.13 115.68L540.97 115.75" fill="none" stroke="#000" stroke-width="1.65" stroke-linejoin="round" stroke-linecap="square" clip-path="url(#c498_35)"/>
<path d="M540.97 115.75L541.81 115.80L542.65 115.85L543.49 115.90L544.33 115.95L545.17 115.99L546.02 116.04L546.86 116.08L547.70 116.12L548.54 116.15L549.38 116.18L550.22 116.21L551.06 116.24L551.91 116.26L552.75 116.28L553.59 116.30L554.43 116.32L555.27 116.33L556.11 116.34L556.95 116.34L557.80 116.34L558.64 116.34L559.48 116.33L560.32 116.32L561.16 116.30L562.00 116.28L562.84 116.26L563.68 116.23L564.53 116.20L565.37 116.18L566.21 116.15L567.05 116.12L567.89 116.09L568.73 116.06L569.57 116.03L570.42 116.01L571.26 115.99L572.10 115.97L572.94 115.96L573.78 115.95L574.62 115.95L575.46 115.95L576.31 115.96L577.15 115.97L577.99 115.99L578.83 116.01L579.67 116.04L580.51 116.06L581.35 116.09L582.19 116.12L583.04 116.15L583.88 116.18L584.72 116.22L585.56 116.26L586.40 116.31L587.24 116.35L588.08 116.39L588.93 116.42L589.77 116.44L590.61 116.46L591.45 116.47L592.29 116.48L593.13 116.48L593.97 116.49L594.82 116.50L595.66 116.50L596.50 116.51L597.34 116.53L598.18 116.54L599.02 116.62L599.86 116.77L600.71 116.96L601.55 117.14L602.39 117.29L603.23 117.34L604.07 117.34L604.91 117.34L605.75 117.34L606.59 117.34L607.44 117.34L608.28 117.34L609.12 117.23L609.96 116.96L610.80 116.63L611.64 116.34L612.48 116.11L613.33 115.88L614.17 115.65L615.01 115.45L615.85 115.27L616.69 115.15L617.53 115.05L618.37 114.96L619.22 114.88L620.06 114.80L620.90 114.73L621.74 114.67L622.58 114.62L623.42 114.58L624.26 114.56L625.10 114.55L625.95 114.55L626.79 114.55L627.63 114.55L628.47 114.55L629.31 114.55L630.15 114.55L630.99 114.55L631.84 114.55L632.68 114.55L633.52 114.55L634.36 114.55L635.20 114.55L636.04 114.55L636.88 114.55L637.73 114.55L638.57 114.55L639.41 114.55L640.25 114.55L641.09 114.55L641.93 114.55L642.77 114.55L643.61 114.56L644.46 114.57L645.30 114.59L646.14 114.61L646.98 114.64L647.82 114.66L648.66 114.69L649.50 114.72L650.35 114.75L651.19 114.78L652.03 114.81L652.87 114.84L653.71 114.86L654.55 114.89L655.39 114.91L656.24 114.93L657.08 114.94L657.92 114.95L658.76 114.95L659.60 114.95L660.44 114.95L661.28 114.95L662.12 114.94L662.97 114.94L663.81 114.94L664.65 114.93L665.49 114.93L666.33 114.92L667.17 114.91L668.01 114.90L668.86 114.89L669.70 114.88L670.54 114.87L671.38 114.85L672.22 114.83L673.06 114.82L673.90 114.80L674.75 114.77L675.59 114.75" fill="none" stroke="#2f76bc" stroke-width="1.65" stroke-linejoin="round" stroke-linecap="square" clip-path="url(#c498_35)"/>
<path d="M540.97 115.75L541.81 115.79L542.65 115.82L543.49 115.86L544.33 115.89L545.17 115.92L546.02 115.95L546.86 115.98L547.70 116.00L548.54 116.03L549.38 116.05L550.22 116.06L551.06 116.08L551.91 116.10L552.75 116.11L553.59 116.12L554.43 116.13L555.27 116.14L556.11 116.14L556.95 116.14L557.80 116.15L558.64 116.14L559.48 116.13L560.32 116.12L561.16 116.10L562.00 116.08L562.84 116.06L563.68 116.03L564.53 116.01L565.37 115.98L566.21 115.95L567.05 115.92L567.89 115.89L568.73 115.86L569.57 115.83L570.42 115.81L571.26 115.79L572.10 115.77L572.94 115.76L573.78 115.75L574.62 115.75L575.46 115.75L576.31 115.75L577.15 115.75L577.99 115.75L578.83 115.75L579.67 115.75L580.51 115.75L581.35 115.75L582.19 115.75L583.04 115.75L583.88 115.75L584.72 115.75L585.56 115.75L586.40 115.75L587.24 115.75L588.08 115.75L588.93 115.75L589.77 115.75L590.61 115.75L591.45 115.75L592.29 115.74L593.13 115.72L593.97 115.70L594.82 115.66L595.66 115.62L596.50 115.57L597.34 115.51L598.18 115.45L599.02 115.39L599.86 115.32L600.71 115.25L601.55 115.18L602.39 115.12L603.23 115.05L604.07 114.99L604.91 114.93L605.75 114.87L606.59 114.82L607.44 114.78L608.28 114.75L609.12 114.72L609.96 114.70L610.80 114.67L611.64 114.64L612.48 114.62L613.33 114.60L614.17 114.57L615.01 114.55L615.85 114.53L616.69 114.51L617.53 114.49L618.37 114.48L619.22 114.46L620.06 114.44L620.90 114.42L621.74 114.41L622.58 114.39L623.42 114.38L624.26 114.36L625.10 114.35L625.95 114.34L626.79 114.32L627.63 114.31L628.47 114.30L629.31 114.28L630.15 114.27L630.99 114.26L631.84 114.24L632.68 114.23L633.52 114.22L634.36 114.21L635.20 114.20L636.04 114.19L636.88 114.18L637.73 114.17L638.57 114.16L639.41 114.16L640.25 114.16L641.09 114.15L641.93 114.15L642.77 114.15L643.61 114.15L644.46 114.15L645.30 114.15L646.14 114.15L646.98 114.15L647.82 114.15L648.66 114.15L649.50 114.15L650.35 114.15L651.19 114.15L652.03 114.15L652.87 114.15L653.71 114.15L654.55 114.15L655.39 114.15L656.24 114.15L657.08 114.15L657.92 114.15L658.76 114.15L659.60 114.15L660.44 114.15L661.28 114.15L662.12 114.15L662.97 114.15L663.81 114.15L664.65 114.15L665.49 114.15L666.33 114.15L667.17 114.15L668.01 114.15L668.86 114.15L669.70 114.15L670.54 114.15L671.38 114.15L672.22 114.15L673.06 114.15L673.90 114.15L674.75 114.15L675.59 114.15" fill="none" stroke="#f4780f" stroke-width="1.65" stroke-linejoin="round" stroke-linecap="square" clip-path="url(#c498_35)"/>
<path d="M540.97 115.75L541.81 115.87L542.65 115.98L543.49 116.09L544.33 116.20L545.17 116.30L546.02 116.38L546.86 116.45L547.70 116.50L548.54 116.53L549.38 116.54L550.22 116.54L551.06 116.54L551.91 116.54L552.75 116.54L553.59 116.54L554.43 116.54L555.27 116.54L556.11 116.54L556.95 116.54L557.80 116.54L558.64 116.53L559.48 116.50L560.32 116.45L561.16 116.39L562.00 116.32L562.84 116.24L563.68 116.16L564.53 116.09L565.37 116.01L566.21 115.95L567.05 115.89L567.89 115.82L568.73 115.76L569.57 115.70L570.42 115.63L571.26 115.57L572.10 115.51L572.94 115.45L573.78 115.40L574.62 115.35L575.46 115.30L576.31 115.25L577.15 115.20L577.99 115.15L578.83 115.10L579.67 115.05L580.51 115.00L581.35 114.96L582.19 114.91L583.04 114.87L583.88 114.82L584.72 114.78L585.56 114.74L586.40 114.71L587.24 114.67L588.08 114.64L588.93 114.61L589.77 114.59L590.61 114.57L591.45 114.55L592.29 114.54L593.13 114.52L593.97 114.51L594.82 114.50L595.66 114.48L596.50 114.47L597.34 114.46L598.18 114.45L599.02 114.44L599.86 114.44L600.71 114.43L601.55 114.42L602.39 114.41L603.23 114.40L604.07 114.40L604.91 114.39L605.75 114.38L606.59 114.37L607.44 114.36L608.28 114.35L609.12 114.34L609.96 114.33L610.80 114.32L611.64 114.30L612.48 114.29L613.33 114.28L614.17 114.27L615.01 114.25L615.85 114.24L616.69 114.23L617.53 114.21L618.37 114.20L619.22 114.19L620.06 114.18L620.90 114.17L621.74 114.17L622.58 114.16L623.42 114.16L624.26 114.15L625.10 114.15L625.95 114.15L626.79 114.15L627.63 114.15L628.47 114.15L629.31 114.15L630.15 114.15L630.99 114.15L631.84 114.15L632.68 114.15L633.52 114.15L634.36 114.15L635.20 114.15L636.04 114.15L636.88 114.15L637.73 114.15L638.57 114.15L639.41 114.15L640.25 114.15L641.09 114.15L641.93 114.15L642.77 114.15L643.61 114.15L644.46 114.15L645.30 114.15L646.14 114.15L646.98 114.15L647.82 114.15L648.66 114.15L649.50 114.15L650.35 114.15L651.19 114.15L652.03 114.15L652.87 114.15L653.71 114.15L654.55 114.15L655.39 114.15L656.24 114.15L657.08 114.15L657.92 114.15L658.76 114.15L659.60 114.15L660.44 114.15L661.28 114.15L662.12 114.15L662.97 114.15L663.81 114.15L664.65 114.15L665.49 114.15L666.33 114.15L667.17 114.15L668.01 114.15L668.86 114.15L669.70 114.15L670.54 114.15L671.38 114.15L672.22 114.15L673.06 114.15L673.90 114.15L674.75 114.15L675.59 114.15" fill="none" stroke="#d8232a" stroke-width="1.65" stroke-linejoin="round" stroke-linecap="square" clip-path="url(#c498_35)"/>
<rect x="498.9" y="35.0" width="185.10" height="159.50" fill="none" stroke="#8a8a8a" stroke-width="1"/>
<line x1="507.31" y1="194.5" x2="507.31" y2="196.7" stroke="#8a8a8a" stroke-width="1"/>
<text x="507.31" y="203.15" font-size="7.3" text-anchor="middle" fill="#262626" stroke="#262626" stroke-width="0.13" textLength="16.7" lengthAdjust="spacingAndGlyphs">2000</text>
<line x1="540.97" y1="194.5" x2="540.97" y2="196.7" stroke="#8a8a8a" stroke-width="1"/>
<text x="540.97" y="203.15" font-size="7.3" text-anchor="middle" fill="#262626" stroke="#262626" stroke-width="0.13" textLength="16.7" lengthAdjust="spacingAndGlyphs">2020</text>
<line x1="574.62" y1="194.5" x2="574.62" y2="196.7" stroke="#8a8a8a" stroke-width="1"/>
<text x="574.62" y="203.15" font-size="7.3" text-anchor="middle" fill="#262626" stroke="#262626" stroke-width="0.13" textLength="16.7" lengthAdjust="spacingAndGlyphs">2040</text>
<line x1="608.28" y1="194.5" x2="608.28" y2="196.7" stroke="#8a8a8a" stroke-width="1"/>
<text x="608.28" y="203.15" font-size="7.3" text-anchor="middle" fill="#262626" stroke="#262626" stroke-width="0.13" textLength="16.7" lengthAdjust="spacingAndGlyphs">2060</text>
<line x1="641.93" y1="194.5" x2="641.93" y2="196.7" stroke="#8a8a8a" stroke-width="1"/>
<text x="641.93" y="203.15" font-size="7.3" text-anchor="middle" fill="#262626" stroke="#262626" stroke-width="0.13" textLength="16.7" lengthAdjust="spacingAndGlyphs">2080</text>
<line x1="675.59" y1="194.5" x2="675.59" y2="196.7" stroke="#8a8a8a" stroke-width="1"/>
<text x="675.59" y="203.15" font-size="7.3" text-anchor="middle" fill="#262626" stroke="#262626" stroke-width="0.13" textLength="16.7" lengthAdjust="spacingAndGlyphs">2100</text>
<line x1="496.7" y1="35.00" x2="498.9" y2="35.00" stroke="#8a8a8a" stroke-width="1"/>
<text x="494.90" y="38.00" font-size="7.3" text-anchor="end" fill="#262626" stroke="#262626" stroke-width="0.13" textLength="8.24" lengthAdjust="spacingAndGlyphs">40</text>
<line x1="496.7" y1="54.94" x2="498.9" y2="54.94" stroke="#8a8a8a" stroke-width="1"/>
<text x="494.90" y="57.94" font-size="7.3" text-anchor="end" fill="#262626" stroke="#262626" stroke-width="0.13" textLength="8.24" lengthAdjust="spacingAndGlyphs">30</text>
<line x1="496.7" y1="74.88" x2="498.9" y2="74.88" stroke="#8a8a8a" stroke-width="1"/>
<text x="494.90" y="77.88" font-size="7.3" text-anchor="end" fill="#262626" stroke="#262626" stroke-width="0.13" textLength="8.24" lengthAdjust="spacingAndGlyphs">20</text>
<line x1="496.7" y1="94.81" x2="498.9" y2="94.81" stroke="#8a8a8a" stroke-width="1"/>
<text x="494.90" y="97.81" font-size="7.3" text-anchor="end" fill="#262626" stroke="#262626" stroke-width="0.13" textLength="8.24" lengthAdjust="spacingAndGlyphs">10</text>
<line x1="496.7" y1="114.75" x2="498.9" y2="114.75" stroke="#8a8a8a" stroke-width="1"/>
<text x="494.90" y="117.75" font-size="7.3" text-anchor="end" fill="#262626" stroke="#262626" stroke-width="0.13" textLength="4.12" lengthAdjust="spacingAndGlyphs">0</text>
<line x1="496.7" y1="134.69" x2="498.9" y2="134.69" stroke="#8a8a8a" stroke-width="1"/>
<text x="494.90" y="137.69" font-size="7.3" text-anchor="end" fill="#262626" stroke="#262626" stroke-width="0.13" textLength="12.99" lengthAdjust="spacingAndGlyphs">−10</text>
<line x1="496.7" y1="154.62" x2="498.9" y2="154.62" stroke="#8a8a8a" stroke-width="1"/>
<text x="494.90" y="157.62" font-size="7.3" text-anchor="end" fill="#262626" stroke="#262626" stroke-width="0.13" textLength="12.99" lengthAdjust="spacingAndGlyphs">−20</text>
<line x1="496.7" y1="174.56" x2="498.9" y2="174.56" stroke="#8a8a8a" stroke-width="1"/>
<text x="494.90" y="177.56" font-size="7.3" text-anchor="end" fill="#262626" stroke="#262626" stroke-width="0.13" textLength="12.99" lengthAdjust="spacingAndGlyphs">−30</text>
<line x1="496.7" y1="194.50" x2="498.9" y2="194.50" stroke="#8a8a8a" stroke-width="1"/>
<text x="494.90" y="197.50" font-size="7.3" text-anchor="end" fill="#262626" stroke="#262626" stroke-width="0.13" textLength="12.99" lengthAdjust="spacingAndGlyphs">−40</text>
<clipPath id="c58_226"><rect x="58.0" y="226.5" width="185.50" height="175.50"/></clipPath>
<line x1="66.43" y1="226.5" x2="66.43" y2="402.0" stroke="#cfcfcf" stroke-width="1"/>
<line x1="100.16" y1="226.5" x2="100.16" y2="402.0" stroke="#cfcfcf" stroke-width="1"/>
<line x1="133.89" y1="226.5" x2="133.89" y2="402.0" stroke="#cfcfcf" stroke-width="1"/>
<line x1="167.61" y1="226.5" x2="167.61" y2="402.0" stroke="#cfcfcf" stroke-width="1"/>
<line x1="201.34" y1="226.5" x2="201.34" y2="402.0" stroke="#cfcfcf" stroke-width="1"/>
<line x1="235.07" y1="226.5" x2="235.07" y2="402.0" stroke="#cfcfcf" stroke-width="1"/>
<line x1="58.0" y1="240.00" x2="243.5" y2="240.00" stroke="#cfcfcf" stroke-width="1"/>
<line x1="58.0" y1="267.00" x2="243.5" y2="267.00" stroke="#cfcfcf" stroke-width="1"/>
<line x1="58.0" y1="294.00" x2="243.5" y2="294.00" stroke="#cfcfcf" stroke-width="1"/>
<line x1="58.0" y1="321.00" x2="243.5" y2="321.00" stroke="#cfcfcf" stroke-width="1"/>
<line x1="58.0" y1="348.00" x2="243.5" y2="348.00" stroke="#cfcfcf" stroke-width="1"/>
<line x1="58.0" y1="375.00" x2="243.5" y2="375.00" stroke="#cfcfcf" stroke-width="1"/>
<line x1="58.0" y1="402.00" x2="243.5" y2="402.00" stroke="#cfcfcf" stroke-width="1"/>
<path d="M100.16 328.43L101.00 329.75L101.85 331.05L102.69 332.34L103.53 333.62L104.38 334.88L105.22 336.12L106.06 337.37L106.90 338.63L107.75 340.55L108.59 342.44L109.43 344.25L110.28 345.98L111.12 347.61L111.96 349.18L112.81 350.70L113.65 352.17L114.49 353.61L115.34 355.02L116.18 356.38L117.02 357.69L117.87 358.97L118.71 360.24L119.55 361.29L120.40 362.38L121.24 363.53L122.08 364.73L122.92 365.95L123.77 367.15L124.61 368.29L125.45 369.33L126.30 370.13L127.14 370.90L127.98 371.63L128.83 372.29L129.67 372.86L130.51 373.32L131.36 373.70L132.20 374.03L133.04 374.51L133.89 375.78L134.73 376.99L135.57 378.13L136.42 379.15L137.26 379.89L138.10 380.59L138.95 381.27L139.79 381.96L140.63 382.66L141.48 383.37L142.32 384.09L143.16 384.80L144.00 385.52L144.85 386.23L145.69 386.86L146.53 387.43L147.38 388.01L148.22 388.61L149.06 389.19L149.91 389.74L150.75 390.25L151.59 390.62L152.44 390.96L153.28 391.29L154.12 391.60L154.97 391.89L155.81 392.14L156.65 392.38L157.50 392.60L158.34 392.80L159.18 393.00L160.03 393.18L160.87 393.36L161.71 393.53L162.55 393.68L163.40 393.84L164.24 393.98L165.08 394.13L165.93 394.27L166.77 394.42L167.61 394.57L168.46 394.67L169.30 394.78L170.14 394.89L170.99 395.00L171.83 395.12L172.67 395.25L173.52 395.37L174.36 395.49L175.20 395.62L176.05 395.74L176.89 395.86L177.73 395.98L178.57 396.09L179.42 396.20L180.26 396.30L181.10 396.39L181.95 396.48L182.79 396.55L183.63 396.62L184.48 396.67L185.32 396.71L186.16 396.76L187.01 396.80L187.85 396.85L188.69 396.89L189.54 396.93L190.38 396.97L191.22 397.01L192.07 397.04L192.91 397.08L193.75 397.11L194.60 397.14L195.44 397.17L196.28 397.19L197.12 397.21L197.97 397.23L198.81 397.25L199.65 397.26L200.50 397.27L201.34 397.27L202.18 397.27L203.03 397.26L203.87 397.23L204.71 397.20L205.56 397.16L206.40 397.12L207.24 397.08L208.09 397.04L208.93 397.00L209.77 396.97L210.62 396.94L211.46 396.92L212.30 396.91L213.15 396.92L213.99 396.92L214.83 396.92L215.67 396.93L216.52 396.93L217.36 396.94L218.20 396.94L219.05 396.95L219.89 396.96L220.73 396.97L221.58 396.98L222.42 396.99L223.26 397.00L224.11 397.02L224.95 397.03L225.79 397.05L226.64 397.07L227.48 397.09L228.32 397.12L229.17 397.14L230.01 397.17L230.85 397.21L231.70 397.24L232.54 397.28L233.38 397.32L234.22 397.36L235.07 397.41L235.07 400.79L234.22 400.74L233.38 400.70L232.54 400.66L231.70 400.63L230.85 400.60L230.01 400.57L229.17 400.54L228.32 400.52L227.48 400.50L226.64 400.48L225.79 400.46L224.95 400.45L224.11 400.43L223.26 400.42L222.42 400.41L221.58 400.41L220.73 400.40L219.89 400.39L219.05 400.39L218.20 400.39L217.36 400.38L216.52 400.38L215.67 400.38L214.83 400.38L213.99 400.38L213.15 400.38L212.30 400.38L211.46 400.39L210.62 400.41L209.77 400.44L208.93 400.48L208.09 400.52L207.24 400.57L206.40 400.61L205.56 400.66L204.71 400.70L203.87 400.73L203.03 400.76L202.18 400.78L201.34 400.79L200.50 400.78L199.65 400.78L198.81 400.77L197.97 400.76L197.12 400.74L196.28 400.72L195.44 400.70L194.60 400.68L193.75 400.65L192.91 400.62L192.07 400.59L191.22 400.56L190.38 400.52L189.54 400.49L188.69 400.45L187.85 400.41L187.01 400.37L186.16 400.33L185.32 400.29L184.48 400.25L183.63 400.20L182.79 400.14L181.95 400.06L181.10 399.98L180.26 399.89L179.42 399.80L178.57 399.69L177.73 399.58L176.89 399.47L176.05 399.35L175.20 399.23L174.36 399.11L173.52 398.99L172.67 398.87L171.83 398.75L170.99 398.64L170.14 398.52L169.30 398.42L168.46 398.31L167.61 398.22L166.77 398.16L165.93 398.11L165.08 398.05L164.24 398.00L163.40 397.95L162.55 397.90L161.71 397.83L160.87 397.76L160.03 397.68L159.18 397.59L158.34 397.49L157.50 397.38L156.65 397.25L155.81 397.11L154.97 396.95L154.12 396.76L153.28 396.55L152.44 396.31L151.59 396.06L150.75 395.79L149.91 395.49L149.06 395.15L148.22 394.78L147.38 394.39L146.53 394.02L145.69 393.66L144.85 393.32L144.00 392.98L143.16 392.65L142.32 392.32L141.48 391.99L140.63 391.66L139.79 391.34L138.95 391.04L138.10 390.74L137.26 390.42L136.42 390.07L135.57 389.66L134.73 389.19L133.89 388.65L133.04 388.15L132.20 387.60L131.36 387.00L130.51 386.34L129.67 385.60L128.83 384.75L127.98 383.81L127.14 382.80L126.30 381.75L125.45 380.67L124.61 379.53L123.77 378.29L122.92 376.99L122.08 375.67L121.24 374.36L120.40 373.11L119.55 371.92L118.71 370.77L117.87 369.64L117.02 368.49L116.18 367.24L115.34 365.93L114.49 364.58L113.65 363.20L112.81 361.78L111.96 360.32L111.12 358.80L110.28 357.23L109.43 355.56L108.59 353.80L107.75 351.97L106.90 350.11L106.06 347.41L105.22 344.73L104.38 342.05L103.53 339.35L102.69 336.64L101.85 333.92L101.00 331.18L100.16 328.43Z" fill="#2f76bc" fill-opacity="0.24" stroke="none" clip-path="url(#c58_226)"/>
<path d="M100.16 328.43L101.00 329.93L101.85 331.43L102.69 332.91L103.53 334.40L104.38 335.87L105.22 337.34L106.06 338.82L106.90 340.32L107.75 341.82L108.59 343.28L109.43 345.22L110.28 347.06L111.12 348.80L111.96 350.48L112.81 352.10L113.65 353.68L114.49 355.23L115.34 356.77L116.18 358.30L117.02 359.79L117.87 361.33L118.71 362.85L119.55 364.34L120.40 365.82L121.24 367.30L122.08 368.78L122.92 370.25L123.77 371.67L124.61 373.04L125.45 374.32L126.30 375.56L127.14 376.77L127.98 377.94L128.83 379.04L129.67 380.04L130.51 380.94L131.36 381.75L132.20 382.51L133.04 383.21L133.89 383.86L134.73 384.46L135.57 384.99L136.42 385.46L137.26 385.89L138.10 386.29L138.95 386.66L139.79 387.04L140.63 387.42L141.48 387.80L142.32 388.17L143.16 388.53L144.00 388.91L144.85 389.30L145.69 389.72L146.53 390.19L147.38 390.72L148.22 391.28L149.06 391.83L149.91 392.36L150.75 392.82L151.59 393.24L152.44 393.64L153.28 394.03L154.12 394.38L154.97 394.70L155.81 394.98L156.65 395.22L157.50 395.44L158.34 395.65L159.18 395.84L160.03 396.02L160.87 396.19L161.71 396.37L162.55 396.54L163.40 396.70L164.24 396.86L165.08 397.02L165.93 397.17L166.77 397.32L167.61 397.46L168.46 397.55L169.30 397.63L170.14 397.71L170.99 397.78L171.83 397.86L172.67 397.93L173.52 398.01L174.36 398.08L175.20 398.15L176.05 398.22L176.89 398.28L177.73 398.35L178.57 398.41L179.42 398.47L180.26 398.53L181.10 398.59L181.95 398.65L182.79 398.70L183.63 398.75L184.48 398.79L185.32 398.84L186.16 398.88L187.01 398.93L187.85 398.97L188.69 399.01L189.54 399.05L190.38 399.09L191.22 399.13L192.07 399.16L192.91 399.20L193.75 399.24L194.60 399.27L195.44 399.30L196.28 399.34L197.12 399.37L197.97 399.40L198.81 399.42L199.65 399.45L200.50 399.48L201.34 399.50L202.18 399.53L203.03 399.55L203.87 399.57L204.71 399.60L205.56 399.62L206.40 399.64L207.24 399.67L208.09 399.69L208.93 399.71L209.77 399.74L210.62 399.76L211.46 399.78L212.30 399.80L213.15 399.83L213.99 399.85L214.83 399.87L215.67 399.89L216.52 399.91L217.36 399.93L218.20 399.95L219.05 399.97L219.89 399.99L220.73 400.01L221.58 400.03L222.42 400.04L223.26 400.06L224.11 400.08L224.95 400.10L225.79 400.11L226.64 400.13L227.48 400.14L228.32 400.16L229.17 400.17L230.01 400.18L230.85 400.19L231.70 400.21L232.54 400.22L233.38 400.23L234.22 400.24L235.07 400.25L235.07 401.60L234.22 401.60L233.38 401.61L232.54 401.61L231.70 401.62L230.85 401.62L230.01 401.62L229.17 401.63L228.32 401.63L227.48 401.63L226.64 401.63L225.79 401.63L224.95 401.63L224.11 401.63L223.26 401.62L222.42 401.62L221.58 401.62L220.73 401.62L219.89 401.61L219.05 401.61L218.20 401.61L217.36 401.60L216.52 401.60L215.67 401.59L214.83 401.58L213.99 401.58L213.15 401.57L212.30 401.56L211.46 401.56L210.62 401.55L209.77 401.54L208.93 401.54L208.09 401.53L207.24 401.52L206.40 401.51L205.56 401.50L204.71 401.49L203.87 401.49L203.03 401.48L202.18 401.47L201.34 401.46L200.50 401.45L199.65 401.44L198.81 401.43L197.97 401.41L197.12 401.40L196.28 401.38L195.44 401.37L194.60 401.35L193.75 401.33L192.91 401.31L192.07 401.29L191.22 401.27L190.38 401.24L189.54 401.22L188.69 401.19L187.85 401.17L187.01 401.14L186.16 401.11L185.32 401.08L184.48 401.06L183.63 401.02L182.79 400.99L181.95 400.95L181.10 400.91L180.26 400.87L179.42 400.83L178.57 400.78L177.73 400.73L176.89 400.68L176.05 400.63L175.20 400.58L174.36 400.52L173.52 400.46L172.67 400.41L171.83 400.35L170.99 400.29L170.14 400.22L169.30 400.16L168.46 400.10L167.61 400.03L166.77 399.96L165.93 399.88L165.08 399.80L164.24 399.72L163.40 399.64L162.55 399.55L161.71 399.45L160.87 399.35L160.03 399.25L159.18 399.14L158.34 399.03L157.50 398.90L156.65 398.75L155.81 398.58L154.97 398.38L154.12 398.14L153.28 397.85L152.44 397.54L151.59 397.21L150.75 396.87L149.91 396.51L149.06 396.09L148.22 395.63L147.38 395.18L146.53 394.75L145.69 394.37L144.85 394.05L144.00 393.77L143.16 393.50L142.32 393.23L141.48 392.97L140.63 392.69L139.79 392.40L138.95 392.13L138.10 391.85L137.26 391.56L136.42 391.23L135.57 390.86L134.73 390.43L133.89 389.94L133.04 389.46L132.20 388.92L131.36 388.33L130.51 387.69L129.67 386.96L128.83 386.12L127.98 385.19L127.14 384.20L126.30 383.15L125.45 382.09L124.61 380.97L123.77 379.77L122.92 378.52L122.08 377.22L121.24 375.91L120.40 374.60L119.55 373.28L118.71 371.96L117.87 370.61L117.02 369.24L116.18 367.82L115.34 366.36L114.49 364.89L113.65 363.40L112.81 361.89L111.96 360.33L111.12 358.72L110.28 357.05L109.43 355.27L108.59 353.41L107.75 350.93L106.90 348.42L106.06 345.91L105.22 343.41L104.38 340.93L103.53 338.45L102.69 335.95L101.85 333.45L101.00 330.94L100.16 328.43Z" fill="#f4780f" fill-opacity="0.24" stroke="none" clip-path="url(#c58_226)"/>
<path d="M100.16 328.43L101.00 329.55L101.85 330.71L102.69 331.90L103.53 333.12L104.38 334.37L105.22 335.65L106.06 337.01L106.90 338.48L107.75 340.71L108.59 342.90L109.43 344.98L110.28 346.88L111.12 348.59L111.96 350.18L112.81 351.69L113.65 353.16L114.49 354.60L115.34 356.06L116.18 357.52L117.02 358.96L117.87 360.61L118.71 362.24L119.55 363.86L120.40 365.46L121.24 367.07L122.08 368.70L122.92 370.32L123.77 371.89L124.61 373.38L125.45 374.77L126.30 376.09L127.14 377.35L127.98 378.61L128.83 379.82L129.67 380.96L130.51 382.02L131.36 383.03L132.20 384.00L133.04 384.93L133.89 385.80L134.73 386.58L135.57 387.29L136.42 387.93L137.26 388.53L138.10 389.09L138.95 389.63L139.79 390.15L140.63 390.66L141.48 391.17L142.32 391.66L143.16 392.14L144.00 392.60L144.85 393.05L145.69 393.50L146.53 393.93L147.38 394.37L148.22 394.80L149.06 395.20L149.91 395.58L150.75 395.93L151.59 396.17L152.44 396.41L153.28 396.64L154.12 396.86L154.97 397.07L155.81 397.27L156.65 397.46L157.50 397.64L158.34 397.80L159.18 397.95L160.03 398.09L160.87 398.23L161.71 398.36L162.55 398.49L163.40 398.61L164.24 398.73L165.08 398.84L165.93 398.95L166.77 399.06L167.61 399.17L168.46 399.21L169.30 399.26L170.14 399.31L170.99 399.36L171.83 399.40L172.67 399.45L173.52 399.49L174.36 399.53L175.20 399.58L176.05 399.62L176.89 399.66L177.73 399.69L178.57 399.73L179.42 399.77L180.26 399.80L181.10 399.83L181.95 399.86L182.79 399.89L183.63 399.92L184.48 399.94L185.32 399.96L186.16 399.99L187.01 400.01L187.85 400.04L188.69 400.06L189.54 400.08L190.38 400.10L191.22 400.13L192.07 400.15L192.91 400.17L193.75 400.20L194.60 400.22L195.44 400.24L196.28 400.26L197.12 400.28L197.97 400.30L198.81 400.33L199.65 400.35L200.50 400.37L201.34 400.39L202.18 400.41L203.03 400.43L203.87 400.45L204.71 400.47L205.56 400.49L206.40 400.51L207.24 400.53L208.09 400.55L208.93 400.57L209.77 400.59L210.62 400.61L211.46 400.63L212.30 400.64L213.15 400.66L213.99 400.68L214.83 400.70L215.67 400.72L216.52 400.73L217.36 400.75L218.20 400.77L219.05 400.78L219.89 400.80L220.73 400.82L221.58 400.83L222.42 400.85L223.26 400.86L224.11 400.88L224.95 400.89L225.79 400.91L226.64 400.92L227.48 400.94L228.32 400.95L229.17 400.97L230.01 400.98L230.85 400.99L231.70 401.01L232.54 401.02L233.38 401.03L234.22 401.04L235.07 401.06L235.07 401.87L234.22 401.87L233.38 401.88L232.54 401.89L231.70 401.90L230.85 401.90L230.01 401.91L229.17 401.92L228.32 401.92L227.48 401.93L226.64 401.94L225.79 401.94L224.95 401.95L224.11 401.95L223.26 401.96L222.42 401.96L221.58 401.97L220.73 401.97L219.89 401.97L219.05 401.98L218.20 401.98L217.36 401.99L216.52 401.99L215.67 401.99L214.83 401.99L213.99 402.00L213.15 402.00L212.30 402.00L211.46 402.00L210.62 402.00L209.77 402.01L208.93 402.01L208.09 402.01L207.24 402.01L206.40 402.01L205.56 402.01L204.71 402.01L203.87 402.01L203.03 402.01L202.18 402.01L201.34 402.01L200.50 402.01L199.65 402.01L198.81 402.01L197.97 402.01L197.12 402.00L196.28 402.00L195.44 402.00L194.60 402.00L193.75 402.00L192.91 402.00L192.07 401.99L191.22 401.99L190.38 401.99L189.54 401.99L188.69 401.98L187.85 401.98L187.01 401.98L186.16 401.97L185.32 401.97L184.48 401.97L183.63 401.96L182.79 401.96L181.95 401.95L181.10 401.94L180.26 401.93L179.42 401.91L178.57 401.90L177.73 401.88L176.89 401.86L176.05 401.84L175.20 401.82L174.36 401.80L173.52 401.78L172.67 401.76L171.83 401.73L170.99 401.71L170.14 401.68L169.30 401.65L168.46 401.62L167.61 401.60L166.77 401.61L165.93 401.63L165.08 401.64L164.24 401.65L163.40 401.66L162.55 401.66L161.71 401.66L160.87 401.66L160.03 401.65L159.18 401.63L158.34 401.60L157.50 401.56L156.65 401.51L155.81 401.45L154.97 401.38L154.12 401.29L153.28 401.20L152.44 401.09L151.59 400.98L150.75 400.85L149.91 400.70L149.06 400.52L148.22 400.30L147.38 400.07L146.53 399.82L145.69 399.58L144.85 399.33L144.00 399.07L143.16 398.79L142.32 398.51L141.48 398.21L140.63 397.90L139.79 397.58L138.95 397.25L138.10 396.91L137.26 396.53L136.42 396.13L135.57 395.68L134.73 395.16L133.89 394.57L133.04 393.97L132.20 393.32L131.36 392.61L130.51 391.88L129.67 391.08L128.83 390.21L127.98 389.28L127.14 388.28L126.30 387.23L125.45 386.14L124.61 384.96L123.77 383.68L122.92 382.32L122.08 380.92L121.24 379.50L120.40 378.11L119.55 376.72L118.71 375.31L117.87 373.89L117.02 372.46L116.18 370.90L115.34 369.33L114.49 367.76L113.65 366.21L112.81 364.63L111.96 363.01L111.12 361.30L110.28 359.48L109.43 357.47L108.59 355.28L107.75 352.97L106.90 350.63L106.06 347.64L105.22 344.76L104.38 341.97L103.53 339.20L102.69 336.46L101.85 333.75L101.00 331.07L100.16 328.43Z" fill="#d8232a" fill-opacity="0.24" stroke="none" clip-path="url(#c58_226)"/>
<path d="M66.43 267.00L67.28 267.05L68.12 267.18L68.96 267.39L69.80 267.70L70.65 268.45L71.49 269.51L72.33 270.75L73.18 272.36L74.02 274.21L74.86 276.19L75.71 278.46L76.55 280.67L77.39 282.52L78.24 284.21L79.08 285.76L79.92 287.13L80.77 288.31L81.61 289.31L82.45 290.24L83.30 291.19L84.14 292.25L84.98 293.43L85.83 294.68L86.67 296.01L87.51 297.40L88.35 298.86L89.20 300.41L90.04 302.06L90.88 303.80L91.73 305.61L92.57 307.47L93.41 309.42L94.26 311.45L95.10 313.57L95.94 315.78L96.79 318.09L97.63 320.51L98.47 323.02L99.32 325.66L100.16 328.43" fill="none" stroke="#000" stroke-width="1.65" stroke-linejoin="round" stroke-linecap="square" clip-path="url(#c58_226)"/>
<path d="M100.16 328.43L101.00 330.42L101.85 332.40L102.69 334.37L103.53 336.32L104.38 338.25L105.22 340.17L106.06 342.10L106.90 344.03L107.75 345.95L108.59 347.84L109.43 349.65L110.28 351.38L111.12 353.01L111.96 354.58L112.81 356.10L113.65 357.57L114.49 359.01L115.34 360.42L116.18 361.78L117.02 363.09L117.87 364.37L118.71 365.64L119.55 366.93L120.40 368.25L121.24 369.64L122.08 371.08L122.92 372.53L123.77 373.97L124.61 375.34L125.45 376.62L126.30 377.83L127.14 379.02L127.98 380.16L128.83 381.24L129.67 382.22L130.51 383.10L131.36 383.89L132.20 384.63L133.04 385.32L133.89 385.95L134.73 386.52L135.57 387.01L136.42 387.45L137.26 387.83L138.10 388.17L138.95 388.50L139.79 388.83L140.63 389.18L141.48 389.53L142.32 389.89L143.16 390.25L144.00 390.61L144.85 390.97L145.69 391.33L146.53 391.72L147.38 392.13L148.22 392.54L149.06 392.93L149.91 393.30L150.75 393.63L151.59 393.92L152.44 394.20L153.28 394.47L154.12 394.71L154.97 394.93L155.81 395.12L156.65 395.28L157.50 395.43L158.34 395.57L159.18 395.70L160.03 395.82L160.87 395.93L161.71 396.02L162.55 396.11L163.40 396.20L164.24 396.28L165.08 396.35L165.93 396.43L166.77 396.51L167.61 396.60L168.46 396.69L169.30 396.80L170.14 396.90L170.99 397.02L171.83 397.13L172.67 397.25L173.52 397.37L174.36 397.49L175.20 397.61L176.05 397.73L176.89 397.85L177.73 397.96L178.57 398.07L179.42 398.18L180.26 398.27L181.10 398.36L181.95 398.44L182.79 398.52L183.63 398.58L184.48 398.62L185.32 398.67L186.16 398.71L187.01 398.75L187.85 398.79L188.69 398.83L189.54 398.87L190.38 398.90L191.22 398.94L192.07 398.97L192.91 399.00L193.75 399.03L194.60 399.06L195.44 399.08L196.28 399.10L197.12 399.12L197.97 399.14L198.81 399.15L199.65 399.16L200.50 399.16L201.34 399.17L202.18 399.16L203.03 399.14L203.87 399.11L204.71 399.08L205.56 399.04L206.40 398.99L207.24 398.95L208.09 398.90L208.93 398.86L209.77 398.82L210.62 398.79L211.46 398.77L212.30 398.76L213.15 398.76L213.99 398.76L214.83 398.76L215.67 398.76L216.52 398.76L217.36 398.76L218.20 398.77L219.05 398.77L219.89 398.77L220.73 398.78L221.58 398.79L222.42 398.79L223.26 398.80L224.11 398.81L224.95 398.83L225.79 398.84L226.64 398.86L227.48 398.88L228.32 398.90L229.17 398.92L230.01 398.95L230.85 398.98L231.70 399.01L232.54 399.04L233.38 399.08L234.22 399.12L235.07 399.17" fill="none" stroke="#2f76bc" stroke-width="1.65" stroke-linejoin="round" stroke-linecap="square" clip-path="url(#c58_226)"/>
<path d="M100.16 328.43L101.00 330.47L101.85 332.51L102.69 334.53L103.53 336.56L104.38 338.57L105.22 340.57L106.06 342.60L106.90 344.64L107.75 346.68L108.59 348.68L109.43 350.62L110.28 352.45L111.12 354.20L111.96 355.88L112.81 357.50L113.65 359.08L114.49 360.63L115.34 362.18L116.18 363.70L117.02 365.19L117.87 366.66L118.71 368.11L119.55 369.54L120.40 370.95L121.24 372.36L122.08 373.78L122.92 375.17L123.77 376.53L124.61 377.83L125.45 379.05L126.30 380.22L127.14 381.36L127.98 382.46L128.83 383.49L129.67 384.43L130.51 385.26L131.36 386.00L132.20 386.69L133.04 387.33L133.89 387.91L134.73 388.44L135.57 388.90L136.42 389.31L137.26 389.67L138.10 390.00L138.95 390.31L139.79 390.61L140.63 390.93L141.48 391.24L142.32 391.54L143.16 391.84L144.00 392.15L144.85 392.47L145.69 392.82L146.53 393.23L147.38 393.69L148.22 394.18L149.06 394.67L149.91 395.13L150.75 395.52L151.59 395.87L152.44 396.21L153.28 396.52L154.12 396.81L154.97 397.07L155.81 397.27L156.65 397.45L157.50 397.60L158.34 397.74L159.18 397.86L160.03 397.98L160.87 398.08L161.71 398.19L162.55 398.29L163.40 398.39L164.24 398.48L165.08 398.57L165.93 398.65L166.77 398.73L167.61 398.81L168.46 398.89L169.30 398.96L170.14 399.03L170.99 399.10L171.83 399.17L172.67 399.23L173.52 399.30L174.36 399.36L175.20 399.42L176.05 399.48L176.89 399.54L177.73 399.60L178.57 399.65L179.42 399.71L180.26 399.76L181.10 399.81L181.95 399.85L182.79 399.90L183.63 399.94L184.48 399.98L185.32 400.01L186.16 400.05L187.01 400.08L187.85 400.12L188.69 400.15L189.54 400.18L190.38 400.21L191.22 400.24L192.07 400.27L192.91 400.30L193.75 400.32L194.60 400.35L195.44 400.38L196.28 400.40L197.12 400.42L197.97 400.44L198.81 400.46L199.65 400.48L200.50 400.50L201.34 400.51L202.18 400.53L203.03 400.55L203.87 400.56L204.71 400.58L205.56 400.59L206.40 400.61L207.24 400.62L208.09 400.64L208.93 400.65L209.77 400.67L210.62 400.68L211.46 400.69L212.30 400.71L213.15 400.72L213.99 400.73L214.83 400.75L215.67 400.76L216.52 400.77L217.36 400.78L218.20 400.80L219.05 400.81L219.89 400.82L220.73 400.83L221.58 400.84L222.42 400.85L223.26 400.86L224.11 400.86L224.95 400.87L225.79 400.88L226.64 400.89L227.48 400.89L228.32 400.90L229.17 400.90L230.01 400.91L230.85 400.91L231.70 400.91L232.54 400.92L233.38 400.92L234.22 400.92L235.07 400.92" fill="none" stroke="#f4780f" stroke-width="1.65" stroke-linejoin="round" stroke-linecap="square" clip-path="url(#c58_226)"/>
<path d="M100.16 328.43L101.00 330.40L101.85 332.40L102.69 334.44L103.53 336.50L104.38 338.59L105.22 340.71L106.06 342.92L106.90 345.23L107.75 347.57L108.59 349.88L109.43 352.07L110.28 354.07L111.12 355.90L111.96 357.61L112.81 359.23L113.65 360.81L114.49 362.36L115.34 363.93L116.18 365.50L117.02 367.06L117.87 368.60L118.71 370.12L119.55 371.62L120.40 373.11L121.24 374.61L122.08 376.13L122.92 377.63L123.77 379.09L124.61 380.47L125.45 381.75L126.30 382.95L127.14 384.10L127.98 385.19L128.83 386.23L129.67 387.20L130.51 388.10L131.36 388.94L132.20 389.74L133.04 390.50L133.89 391.20L134.73 391.84L135.57 392.42L136.42 392.93L137.26 393.39L138.10 393.82L138.95 394.22L139.79 394.60L140.63 394.98L141.48 395.35L142.32 395.71L143.16 396.05L144.00 396.38L144.85 396.70L145.69 397.00L146.53 397.31L147.38 397.61L148.22 397.90L149.06 398.17L149.91 398.42L150.75 398.62L151.59 398.81L152.44 398.98L153.28 399.14L154.12 399.29L154.97 399.44L155.81 399.57L156.65 399.69L157.50 399.80L158.34 399.89L159.18 399.98L160.03 400.05L160.87 400.12L161.71 400.18L162.55 400.24L163.40 400.29L164.24 400.35L165.08 400.39L165.93 400.44L166.77 400.48L167.61 400.51L168.46 400.55L169.30 400.59L170.14 400.62L170.99 400.66L171.83 400.69L172.67 400.73L173.52 400.76L174.36 400.79L175.20 400.82L176.05 400.85L176.89 400.88L177.73 400.90L178.57 400.93L179.42 400.95L180.26 400.97L181.10 400.99L181.95 401.01L182.79 401.03L183.63 401.04L184.48 401.06L185.32 401.07L186.16 401.08L187.01 401.09L187.85 401.10L188.69 401.11L189.54 401.12L190.38 401.14L191.22 401.15L192.07 401.16L192.91 401.17L193.75 401.18L194.60 401.19L195.44 401.20L196.28 401.21L197.12 401.22L197.97 401.23L198.81 401.24L199.65 401.25L200.50 401.26L201.34 401.27L202.18 401.28L203.03 401.28L203.87 401.29L204.71 401.30L205.56 401.31L206.40 401.32L207.24 401.33L208.09 401.33L208.93 401.34L209.77 401.35L210.62 401.35L211.46 401.36L212.30 401.37L213.15 401.37L213.99 401.38L214.83 401.39L215.67 401.39L216.52 401.40L217.36 401.40L218.20 401.41L219.05 401.41L219.89 401.42L220.73 401.42L221.58 401.43L222.42 401.43L223.26 401.43L224.11 401.44L224.95 401.44L225.79 401.44L226.64 401.45L227.48 401.45L228.32 401.45L229.17 401.45L230.01 401.46L230.85 401.46L231.70 401.46L232.54 401.46L233.38 401.46L234.22 401.46L235.07 401.46" fill="none" stroke="#d8232a" stroke-width="1.65" stroke-linejoin="round" stroke-linecap="square" clip-path="url(#c58_226)"/>
<rect x="58.0" y="226.5" width="185.50" height="175.50" fill="none" stroke="#8a8a8a" stroke-width="1"/>
<line x1="66.43" y1="402.0" x2="66.43" y2="404.2" stroke="#8a8a8a" stroke-width="1"/>
<text x="66.43" y="410.65" font-size="7.3" text-anchor="middle" fill="#262626" stroke="#262626" stroke-width="0.13" textLength="16.7" lengthAdjust="spacingAndGlyphs">2000</text>
<line x1="100.16" y1="402.0" x2="100.16" y2="404.2" stroke="#8a8a8a" stroke-width="1"/>
<text x="100.16" y="410.65" font-size="7.3" text-anchor="middle" fill="#262626" stroke="#262626" stroke-width="0.13" textLength="16.7" lengthAdjust="spacingAndGlyphs">2020</text>
<line x1="133.89" y1="402.0" x2="133.89" y2="404.2" stroke="#8a8a8a" stroke-width="1"/>
<text x="133.89" y="410.65" font-size="7.3" text-anchor="middle" fill="#262626" stroke="#262626" stroke-width="0.13" textLength="16.7" lengthAdjust="spacingAndGlyphs">2040</text>
<line x1="167.61" y1="402.0" x2="167.61" y2="404.2" stroke="#8a8a8a" stroke-width="1"/>
<text x="167.61" y="410.65" font-size="7.3" text-anchor="middle" fill="#262626" stroke="#262626" stroke-width="0.13" textLength="16.7" lengthAdjust="spacingAndGlyphs">2060</text>
<line x1="201.34" y1="402.0" x2="201.34" y2="404.2" stroke="#8a8a8a" stroke-width="1"/>
<text x="201.34" y="410.65" font-size="7.3" text-anchor="middle" fill="#262626" stroke="#262626" stroke-width="0.13" textLength="16.7" lengthAdjust="spacingAndGlyphs">2080</text>
<line x1="235.07" y1="402.0" x2="235.07" y2="404.2" stroke="#8a8a8a" stroke-width="1"/>
<text x="235.07" y="410.65" font-size="7.3" text-anchor="middle" fill="#262626" stroke="#262626" stroke-width="0.13" textLength="16.7" lengthAdjust="spacingAndGlyphs">2100</text>
<line x1="55.8" y1="240.00" x2="58.0" y2="240.00" stroke="#8a8a8a" stroke-width="1"/>
<text x="53.80" y="243.00" font-size="7.3" text-anchor="end" fill="#262626" stroke="#262626" stroke-width="0.13" textLength="8.24" lengthAdjust="spacingAndGlyphs">20</text>
<line x1="55.8" y1="267.00" x2="58.0" y2="267.00" stroke="#8a8a8a" stroke-width="1"/>
<text x="53.80" y="270.00" font-size="7.3" text-anchor="end" fill="#262626" stroke="#262626" stroke-width="0.13" textLength="4.12" lengthAdjust="spacingAndGlyphs">0</text>
<line x1="55.8" y1="294.00" x2="58.0" y2="294.00" stroke="#8a8a8a" stroke-width="1"/>
<text x="53.80" y="297.00" font-size="7.3" text-anchor="end" fill="#262626" stroke="#262626" stroke-width="0.13" textLength="12.99" lengthAdjust="spacingAndGlyphs">−20</text>
<line x1="55.8" y1="321.00" x2="58.0" y2="321.00" stroke="#8a8a8a" stroke-width="1"/>
<text x="53.80" y="324.00" font-size="7.3" text-anchor="end" fill="#262626" stroke="#262626" stroke-width="0.13" textLength="12.99" lengthAdjust="spacingAndGlyphs">−40</text>
<line x1="55.8" y1="348.00" x2="58.0" y2="348.00" stroke="#8a8a8a" stroke-width="1"/>
<text x="53.80" y="351.00" font-size="7.3" text-anchor="end" fill="#262626" stroke="#262626" stroke-width="0.13" textLength="12.99" lengthAdjust="spacingAndGlyphs">−60</text>
<line x1="55.8" y1="375.00" x2="58.0" y2="375.00" stroke="#8a8a8a" stroke-width="1"/>
<text x="53.80" y="378.00" font-size="7.3" text-anchor="end" fill="#262626" stroke="#262626" stroke-width="0.13" textLength="12.99" lengthAdjust="spacingAndGlyphs">−80</text>
<line x1="55.8" y1="402.00" x2="58.0" y2="402.00" stroke="#8a8a8a" stroke-width="1"/>
<text x="53.80" y="405.00" font-size="7.3" text-anchor="end" fill="#262626" stroke="#262626" stroke-width="0.13" textLength="17.11" lengthAdjust="spacingAndGlyphs">−100</text>
<rect x="141.40" y="229.50" width="98" height="51.2" rx="1.6" fill="#fff" fill-opacity="0.8" stroke="#d6d6d6" stroke-width="0.8"/>
<line x1="143.30" y1="235.10" x2="158.60" y2="235.10" stroke="#000" stroke-width="1.6"/>
<text x="162.90" y="237.75" font-size="7.6" text-anchor="start" fill="#262626" stroke="#262626" stroke-width="0.13" textLength="30.9" lengthAdjust="spacingAndGlyphs">Historical</text>
<line x1="143.30" y1="244.93" x2="158.60" y2="244.93" stroke="#2f76bc" stroke-width="1.6"/>
<text x="162.90" y="247.58" font-size="7.6" text-anchor="start" fill="#262626" stroke="#262626" stroke-width="0.13" textLength="29.9" lengthAdjust="spacingAndGlyphs">SSP1-2.6</text>
<line x1="143.30" y1="254.76" x2="158.60" y2="254.76" stroke="#f4780f" stroke-width="1.6"/>
<text x="162.90" y="257.41" font-size="7.6" text-anchor="start" fill="#262626" stroke="#262626" stroke-width="0.13" textLength="29.9" lengthAdjust="spacingAndGlyphs">SSP3-7.0</text>
<line x1="143.30" y1="264.59" x2="158.60" y2="264.59" stroke="#d8232a" stroke-width="1.6"/>
<text x="162.90" y="267.24" font-size="7.6" text-anchor="start" fill="#262626" stroke="#262626" stroke-width="0.13" textLength="29.9" lengthAdjust="spacingAndGlyphs">SSP5-8.5</text>
<rect x="144.10" y="271.85" width="13.7" height="5.4" fill="#808080" fill-opacity="0.2"/>
<text x="162.90" y="276.97" font-size="7.6" text-anchor="start" fill="#262626" stroke="#262626" stroke-width="0.13" textLength="73.9" lengthAdjust="spacingAndGlyphs">25th-75th perc. range</text>
<clipPath id="c278_226"><rect x="278.5" y="226.5" width="185.00" height="175.50"/></clipPath>
<line x1="286.91" y1="226.5" x2="286.91" y2="402.0" stroke="#cfcfcf" stroke-width="1"/>
<line x1="320.55" y1="226.5" x2="320.55" y2="402.0" stroke="#cfcfcf" stroke-width="1"/>
<line x1="354.18" y1="226.5" x2="354.18" y2="402.0" stroke="#cfcfcf" stroke-width="1"/>
<line x1="387.82" y1="226.5" x2="387.82" y2="402.0" stroke="#cfcfcf" stroke-width="1"/>
<line x1="421.45" y1="226.5" x2="421.45" y2="402.0" stroke="#cfcfcf" stroke-width="1"/>
<line x1="455.09" y1="226.5" x2="455.09" y2="402.0" stroke="#cfcfcf" stroke-width="1"/>
<line x1="278.5" y1="240.00" x2="463.5" y2="240.00" stroke="#cfcfcf" stroke-width="1"/>
<line x1="278.5" y1="267.00" x2="463.5" y2="267.00" stroke="#cfcfcf" stroke-width="1"/>
<line x1="278.5" y1="294.00" x2="463.5" y2="294.00" stroke="#cfcfcf" stroke-width="1"/>
<line x1="278.5" y1="321.00" x2="463.5" y2="321.00" stroke="#cfcfcf" stroke-width="1"/>
<line x1="278.5" y1="348.00" x2="463.5" y2="348.00" stroke="#cfcfcf" stroke-width="1"/>
<line x1="278.5" y1="375.00" x2="463.5" y2="375.00" stroke="#cfcfcf" stroke-width="1"/>
<line x1="278.5" y1="402.00" x2="463.5" y2="402.00" stroke="#cfcfcf" stroke-width="1"/>
<path d="M320.55 323.43L321.39 324.94L322.23 326.38L323.07 327.74L323.91 329.02L324.75 330.20L325.59 331.32L326.43 332.37L327.27 333.38L328.11 334.36L328.95 335.31L329.80 336.56L330.64 337.76L331.48 338.94L332.32 340.11L333.16 341.32L334.00 342.58L334.84 343.89L335.68 345.20L336.52 346.50L337.36 347.74L338.20 348.92L339.05 349.99L339.89 350.95L340.73 351.86L341.57 352.78L342.41 353.77L343.25 354.86L344.09 356.05L344.93 357.05L345.77 357.96L346.61 358.77L347.45 359.54L348.30 360.27L349.14 360.97L349.98 361.67L350.82 362.36L351.66 363.64L352.50 364.97L353.34 366.33L354.18 367.65L355.02 368.89L355.86 369.98L356.70 371.13L357.55 372.20L358.39 373.22L359.23 374.18L360.07 375.12L360.91 376.02L361.75 376.67L362.59 377.32L363.43 377.97L364.27 378.64L365.11 379.35L365.95 380.07L366.80 380.81L367.64 381.53L368.48 382.24L369.32 382.90L370.16 383.38L371.00 383.79L371.84 384.14L372.68 384.46L373.52 384.77L374.36 385.06L375.20 385.34L376.05 385.60L376.89 385.84L377.73 386.06L378.57 386.25L379.41 386.41L380.25 386.56L381.09 386.68L381.93 386.78L382.77 386.88L383.61 386.99L384.45 387.12L385.30 387.28L386.14 387.55L386.98 387.90L387.82 388.23L388.66 388.44L389.50 388.65L390.34 388.85L391.18 389.05L392.02 389.25L392.86 389.44L393.70 389.62L394.55 389.79L395.39 389.95L396.23 390.09L397.07 390.21L397.91 390.32L398.75 390.42L399.59 390.52L400.43 390.62L401.27 390.72L402.11 390.81L402.95 390.89L403.80 390.97L404.64 391.04L405.48 391.10L406.32 391.14L407.16 391.17L408.00 391.19L408.84 391.18L409.68 391.16L410.52 391.11L411.36 391.05L412.20 390.96L413.05 390.87L413.89 390.76L414.73 390.65L415.57 390.53L416.41 390.41L417.25 390.29L418.09 390.18L418.93 390.08L419.77 389.99L420.61 389.91L421.45 389.85L422.30 389.82L423.14 389.79L423.98 389.76L424.82 389.73L425.66 389.71L426.50 389.69L427.34 389.67L428.18 389.64L429.02 389.63L429.86 389.61L430.70 389.59L431.55 389.57L432.39 389.56L433.23 389.54L434.07 389.52L434.91 389.51L435.75 389.49L436.59 389.48L437.43 389.46L438.27 389.44L439.11 389.43L439.95 389.41L440.80 389.40L441.64 389.38L442.48 389.37L443.32 389.35L444.16 389.34L445.00 389.32L445.84 389.31L446.68 389.29L447.52 389.28L448.36 389.27L449.20 389.26L450.05 389.24L450.89 389.23L451.73 389.22L452.57 389.21L453.41 389.20L454.25 389.19L455.09 389.18L455.09 399.98L454.25 399.98L453.41 399.98L452.57 399.99L451.73 399.99L450.89 400.00L450.05 400.00L449.20 400.01L448.36 400.01L447.52 400.02L446.68 400.03L445.84 400.03L445.00 400.04L444.16 400.05L443.32 400.06L442.48 400.07L441.64 400.07L440.80 400.08L439.95 400.09L439.11 400.10L438.27 400.11L437.43 400.12L436.59 400.13L435.75 400.14L434.91 400.15L434.07 400.15L433.23 400.16L432.39 400.17L431.55 400.18L430.70 400.19L429.86 400.20L429.02 400.22L428.18 400.23L427.34 400.24L426.50 400.26L425.66 400.27L424.82 400.29L423.98 400.31L423.14 400.33L422.30 400.36L421.45 400.38L420.61 400.41L419.77 400.46L418.93 400.53L418.09 400.60L417.25 400.69L416.41 400.78L415.57 400.87L414.73 400.96L413.89 401.05L413.05 401.13L412.20 401.20L411.36 401.25L410.52 401.29L409.68 401.31L408.84 401.31L408.00 401.28L407.16 401.24L406.32 401.19L405.48 401.11L404.64 401.03L403.80 400.93L402.95 400.83L402.11 400.72L401.27 400.60L400.43 400.48L399.59 400.35L398.75 400.22L397.91 400.10L397.07 399.96L396.23 399.81L395.39 399.64L394.55 399.45L393.70 399.26L392.86 399.05L392.02 398.83L391.18 398.61L390.34 398.38L389.50 398.15L388.66 397.91L387.82 397.68L386.98 397.41L386.14 397.11L385.30 396.90L384.45 396.79L383.61 396.72L382.77 396.67L381.93 396.63L381.09 396.58L380.25 396.51L379.41 396.43L378.57 396.32L377.73 396.18L376.89 396.03L376.05 395.86L375.20 395.67L374.36 395.46L373.52 395.23L372.68 394.99L371.84 394.74L371.00 394.46L370.16 394.05L369.32 393.57L368.48 393.04L367.64 392.47L366.80 391.88L365.95 391.28L365.11 390.69L364.27 390.12L363.43 389.58L362.59 389.06L361.75 388.55L360.91 388.04L360.07 387.51L359.23 386.96L358.39 386.38L357.55 385.75L356.70 385.06L355.86 384.29L355.02 383.35L354.18 382.28L353.34 381.14L352.50 379.98L351.66 378.83L350.82 377.75L349.98 376.68L349.14 375.62L348.30 374.54L347.45 373.44L346.61 372.31L345.77 371.12L344.93 369.84L344.09 368.47L343.25 367.08L342.41 365.78L341.57 364.60L340.73 363.47L339.89 362.36L339.05 361.19L338.20 359.93L337.36 358.54L336.52 357.03L335.68 355.46L334.84 353.88L334.00 352.30L333.16 350.77L332.32 349.29L331.48 347.85L330.64 346.40L329.80 344.93L328.95 343.41L328.11 341.65L327.27 339.86L326.43 338.04L325.59 336.18L324.75 334.25L323.91 332.26L323.07 330.17L322.23 328.00L321.39 325.75L320.55 323.43Z" fill="#2f76bc" fill-opacity="0.24" stroke="none" clip-path="url(#c278_226)"/>
<path d="M320.55 323.43L321.39 324.90L322.23 326.33L323.07 327.70L323.91 329.01L324.75 330.25L325.59 331.45L326.43 332.61L327.27 333.72L328.11 334.80L328.95 335.85L329.80 337.11L330.64 338.31L331.48 339.49L332.32 340.68L333.16 341.93L334.00 343.24L334.84 344.62L335.68 346.01L336.52 347.37L337.36 348.68L338.20 350.26L339.05 351.81L339.89 353.34L340.73 354.85L341.57 356.33L342.41 357.80L343.25 359.25L344.09 360.69L344.93 362.15L345.77 363.65L346.61 365.13L347.45 366.55L348.30 367.85L349.14 369.00L349.98 370.00L350.82 370.92L351.66 371.79L352.50 372.60L353.34 373.36L354.18 374.07L355.02 374.76L355.86 375.42L356.70 376.02L357.55 376.58L358.39 377.11L359.23 377.61L360.07 378.11L360.91 378.60L361.75 379.11L362.59 379.64L363.43 380.20L364.27 380.81L365.11 381.48L365.95 382.18L366.80 382.90L367.64 383.62L368.48 384.31L369.32 384.97L370.16 385.57L371.00 386.10L371.84 386.59L372.68 387.06L373.52 387.50L374.36 387.93L375.20 388.34L376.05 388.73L376.89 389.12L377.73 389.50L378.57 389.87L379.41 390.22L380.25 390.57L381.09 390.90L381.93 391.23L382.77 391.56L383.61 391.89L384.45 392.22L385.30 392.56L386.14 392.92L386.98 393.28L387.82 393.64L388.66 393.93L389.50 394.20L390.34 394.45L391.18 394.68L392.02 394.89L392.86 395.10L393.70 395.30L394.55 395.51L395.39 395.71L396.23 395.90L397.07 396.09L397.91 396.27L398.75 396.44L399.59 396.61L400.43 396.77L401.27 396.91L402.11 397.05L402.95 397.17L403.80 397.28L404.64 397.38L405.48 397.46L406.32 397.55L407.16 397.63L408.00 397.71L408.84 397.79L409.68 397.86L410.52 397.93L411.36 398.00L412.20 398.07L413.05 398.13L413.89 398.20L414.73 398.26L415.57 398.32L416.41 398.37L417.25 398.43L418.09 398.48L418.93 398.54L419.77 398.59L420.61 398.64L421.45 398.69L422.30 398.74L423.14 398.79L423.98 398.84L424.82 398.89L425.66 398.94L426.50 398.99L427.34 399.04L428.18 399.09L429.02 399.14L429.86 399.19L430.70 399.24L431.55 399.29L432.39 399.33L433.23 399.38L434.07 399.43L434.91 399.47L435.75 399.52L436.59 399.57L437.43 399.61L438.27 399.66L439.11 399.70L439.95 399.74L440.80 399.78L441.64 399.83L442.48 399.87L443.32 399.91L444.16 399.95L445.00 399.99L445.84 400.02L446.68 400.06L447.52 400.10L448.36 400.13L449.20 400.17L450.05 400.20L450.89 400.23L451.73 400.27L452.57 400.30L453.41 400.32L454.25 400.35L455.09 400.38L455.09 401.73L454.25 401.75L453.41 401.77L452.57 401.78L451.73 401.80L450.89 401.81L450.05 401.82L449.20 401.84L448.36 401.85L447.52 401.86L446.68 401.87L445.84 401.88L445.00 401.88L444.16 401.89L443.32 401.90L442.48 401.90L441.64 401.91L440.80 401.91L439.95 401.91L439.11 401.91L438.27 401.92L437.43 401.92L436.59 401.92L435.75 401.92L434.91 401.92L434.07 401.92L433.23 401.92L432.39 401.91L431.55 401.91L430.70 401.91L429.86 401.91L429.02 401.90L428.18 401.90L427.34 401.90L426.50 401.89L425.66 401.89L424.82 401.88L423.98 401.88L423.14 401.87L422.30 401.87L421.45 401.87L420.61 401.86L419.77 401.85L418.93 401.85L418.09 401.84L417.25 401.83L416.41 401.82L415.57 401.81L414.73 401.79L413.89 401.78L413.05 401.76L412.20 401.74L411.36 401.72L410.52 401.70L409.68 401.67L408.84 401.64L408.00 401.61L407.16 401.58L406.32 401.54L405.48 401.50L404.64 401.46L403.80 401.41L402.95 401.34L402.11 401.27L401.27 401.18L400.43 401.08L399.59 400.97L398.75 400.85L397.91 400.72L397.07 400.58L396.23 400.44L395.39 400.29L394.55 400.14L393.70 399.98L392.86 399.82L392.02 399.65L391.18 399.49L390.34 399.31L389.50 399.10L388.66 398.88L387.82 398.64L386.98 398.40L386.14 398.16L385.30 397.92L384.45 397.71L383.61 397.49L382.77 397.28L381.93 397.08L381.09 396.87L380.25 396.65L379.41 396.43L378.57 396.20L377.73 395.95L376.89 395.69L376.05 395.43L375.20 395.15L374.36 394.86L373.52 394.56L372.68 394.24L371.84 393.89L371.00 393.52L370.16 393.11L369.32 392.63L368.48 392.09L367.64 391.51L366.80 390.92L365.95 390.32L365.11 389.73L364.27 389.18L363.43 388.69L362.59 388.24L361.75 387.83L360.91 387.44L360.07 387.07L359.23 386.69L358.39 386.31L357.55 385.90L356.70 385.46L355.86 384.97L355.02 384.43L354.18 383.85L353.34 383.23L352.50 382.56L351.66 381.83L350.82 381.05L349.98 380.21L349.14 379.30L348.30 378.23L347.45 377.01L346.61 375.68L345.77 374.28L344.93 372.87L344.09 371.49L343.25 370.14L342.41 368.77L341.57 367.39L340.73 365.98L339.89 364.56L339.05 363.12L338.20 361.65L337.36 360.15L336.52 358.41L335.68 356.60L334.84 354.78L334.00 352.96L333.16 351.21L332.32 349.53L331.48 347.89L330.64 346.28L329.80 344.64L328.95 342.94L328.11 341.18L327.27 339.39L326.43 337.57L325.59 335.71L324.75 333.80L323.91 331.84L323.07 329.83L322.23 327.75L321.39 325.61L320.55 323.43Z" fill="#f4780f" fill-opacity="0.24" stroke="none" clip-path="url(#c278_226)"/>
<path d="M320.55 323.43L321.39 324.55L322.23 325.62L323.07 326.63L323.91 327.57L324.75 328.43L325.59 329.23L326.43 330.43L327.27 331.59L328.11 332.73L328.95 333.87L329.80 334.98L330.64 336.04L331.48 337.21L332.32 338.44L333.16 339.78L334.00 341.27L334.84 342.81L335.68 344.30L336.52 345.64L337.36 346.78L338.20 348.14L339.05 349.44L339.89 350.75L340.73 352.13L341.57 353.67L342.41 355.34L343.25 357.06L344.09 358.72L344.93 360.23L345.77 361.67L346.61 363.32L347.45 364.94L348.30 366.52L349.14 368.09L349.98 369.66L350.82 371.21L351.66 372.69L352.50 374.06L353.34 375.30L354.18 376.46L355.02 377.57L355.86 378.63L356.70 379.65L357.55 380.64L358.39 381.61L359.23 382.56L360.07 383.51L360.91 384.45L361.75 385.38L362.59 386.29L363.43 387.04L364.27 387.75L365.11 388.42L365.95 389.05L366.80 389.61L367.64 390.15L368.48 390.66L369.32 391.14L370.16 391.61L371.00 392.05L371.84 392.44L372.68 392.82L373.52 393.17L374.36 393.52L375.20 393.85L376.05 394.18L376.89 394.49L377.73 394.80L378.57 395.09L379.41 395.38L380.25 395.65L381.09 395.91L381.93 396.16L382.77 396.40L383.61 396.63L384.45 396.86L385.30 397.07L386.14 397.28L386.98 397.48L387.82 397.68L388.66 397.79L389.50 397.91L390.34 398.03L391.18 398.15L392.02 398.26L392.86 398.38L393.70 398.49L394.55 398.61L395.39 398.72L396.23 398.82L397.07 398.93L397.91 399.02L398.75 399.12L399.59 399.20L400.43 399.28L401.27 399.36L402.11 399.42L402.95 399.48L403.80 399.53L404.64 399.57L405.48 399.60L406.32 399.64L407.16 399.67L408.00 399.71L408.84 399.74L409.68 399.77L410.52 399.81L411.36 399.84L412.20 399.87L413.05 399.90L413.89 399.93L414.73 399.97L415.57 400.00L416.41 400.03L417.25 400.06L418.09 400.09L418.93 400.12L419.77 400.15L420.61 400.18L421.45 400.21L422.30 400.24L423.14 400.27L423.98 400.29L424.82 400.32L425.66 400.35L426.50 400.38L427.34 400.41L428.18 400.43L429.02 400.46L429.86 400.49L430.70 400.51L431.55 400.54L432.39 400.57L433.23 400.59L434.07 400.62L434.91 400.64L435.75 400.67L436.59 400.69L437.43 400.72L438.27 400.74L439.11 400.77L439.95 400.79L440.80 400.82L441.64 400.84L442.48 400.86L443.32 400.89L444.16 400.91L445.00 400.93L445.84 400.96L446.68 400.98L447.52 401.00L448.36 401.02L449.20 401.04L450.05 401.06L450.89 401.09L451.73 401.11L452.57 401.13L453.41 401.15L454.25 401.17L455.09 401.19L455.09 402.00L454.25 402.02L453.41 402.03L452.57 402.04L451.73 402.06L450.89 402.07L450.05 402.09L449.20 402.10L448.36 402.12L447.52 402.13L446.68 402.14L445.84 402.15L445.00 402.17L444.16 402.18L443.32 402.19L442.48 402.20L441.64 402.22L440.80 402.23L439.95 402.24L439.11 402.25L438.27 402.26L437.43 402.27L436.59 402.28L435.75 402.29L434.91 402.30L434.07 402.31L433.23 402.32L432.39 402.33L431.55 402.34L430.70 402.35L429.86 402.36L429.02 402.37L428.18 402.38L427.34 402.39L426.50 402.39L425.66 402.40L424.82 402.41L423.98 402.42L423.14 402.42L422.30 402.43L421.45 402.44L420.61 402.44L419.77 402.45L418.93 402.45L418.09 402.46L417.25 402.46L416.41 402.47L415.57 402.47L414.73 402.48L413.89 402.48L413.05 402.48L412.20 402.49L411.36 402.49L410.52 402.49L409.68 402.50L408.84 402.50L408.00 402.50L407.16 402.50L406.32 402.50L405.48 402.51L404.64 402.51L403.80 402.50L402.95 402.49L402.11 402.47L401.27 402.44L400.43 402.40L399.59 402.35L398.75 402.30L397.91 402.24L397.07 402.18L396.23 402.11L395.39 402.04L394.55 401.97L393.70 401.89L392.86 401.81L392.02 401.73L391.18 401.65L390.34 401.57L389.50 401.49L388.66 401.40L387.82 401.32L386.98 401.25L386.14 401.17L385.30 401.08L384.45 400.99L383.61 400.89L382.77 400.78L381.93 400.66L381.09 400.53L380.25 400.39L379.41 400.24L378.57 400.07L377.73 399.90L376.89 399.72L376.05 399.52L375.20 399.32L374.36 399.11L373.52 398.88L372.68 398.65L371.84 398.40L371.00 398.13L370.16 397.92L369.32 397.69L368.48 397.44L367.64 397.17L366.80 396.87L365.95 396.54L365.11 396.15L364.27 395.72L363.43 395.24L362.59 394.73L361.75 394.19L360.91 393.63L360.07 393.06L359.23 392.48L358.39 391.90L357.55 391.31L356.70 390.69L355.86 390.04L355.02 389.35L354.18 388.61L353.34 387.72L352.50 386.75L351.66 385.65L350.82 384.44L349.98 383.16L349.14 381.86L348.30 380.56L347.45 379.25L346.61 377.90L345.77 376.52L344.93 375.08L344.09 373.57L343.25 371.91L342.41 370.19L341.57 368.52L340.73 366.98L339.89 365.60L339.05 364.29L338.20 362.99L337.36 361.63L336.52 360.11L335.68 358.40L334.84 356.53L334.00 354.61L333.16 352.74L332.32 351.02L331.48 349.42L330.64 347.87L329.80 346.31L328.95 344.71L328.11 342.76L327.27 340.81L326.43 338.83L325.59 336.82L324.75 334.76L323.91 332.63L323.07 330.43L322.23 328.15L321.39 325.82L320.55 323.43Z" fill="#d8232a" fill-opacity="0.24" stroke="none" clip-path="url(#c278_226)"/>
<path d="M286.91 267.00L287.75 267.06L288.59 267.21L289.43 267.40L290.27 267.72L291.11 268.23L291.95 269.07L292.80 270.43L293.64 272.06L294.48 273.97L295.32 276.32L296.16 278.61L297.00 280.58L297.84 282.42L298.68 284.01L299.52 285.33L300.36 286.50L301.20 287.58L302.05 288.62L302.89 289.68L303.73 290.72L304.57 291.72L305.41 292.72L306.25 293.77L307.09 294.91L307.93 296.17L308.77 297.52L309.61 298.93L310.45 300.39L311.30 301.89L312.14 303.42L312.98 305.01L313.82 306.66L314.66 308.42L315.50 310.30L316.34 312.40L317.18 314.63L318.02 316.88L318.86 319.07L319.70 321.25L320.55 323.43" fill="none" stroke="#000" stroke-width="1.65" stroke-linejoin="round" stroke-dasharray="5.55 2.4" clip-path="url(#c278_226)"/>
<path d="M320.55 323.43L321.39 325.48L322.23 327.46L323.07 329.36L323.91 331.18L324.75 332.90L325.59 334.56L326.43 336.15L327.27 337.70L328.11 339.22L328.95 340.71L329.80 342.16L330.64 343.56L331.48 344.94L332.32 346.32L333.16 347.73L334.00 349.19L334.84 350.70L335.68 352.22L336.52 353.72L337.36 355.17L338.20 356.52L339.05 357.75L339.89 358.88L340.73 359.96L341.57 361.05L342.41 362.20L343.25 363.47L344.09 364.82L344.93 366.17L345.77 367.41L346.61 368.56L347.45 369.66L348.30 370.73L349.14 371.77L349.98 372.80L350.82 373.84L351.66 374.89L352.50 376.00L353.34 377.13L354.18 378.23L355.02 379.24L355.86 380.10L356.70 380.81L357.55 381.43L358.39 381.99L359.23 382.51L360.07 382.99L360.91 383.45L361.75 383.89L362.59 384.34L363.43 384.79L364.27 385.26L365.11 385.76L365.95 386.28L366.80 386.82L367.64 387.34L368.48 387.84L369.32 388.30L370.16 388.71L371.00 389.06L371.84 389.34L372.68 389.59L373.52 389.83L374.36 390.06L375.20 390.27L376.05 390.46L376.89 390.63L377.73 390.78L378.57 390.92L379.41 391.03L380.25 391.11L381.09 391.18L381.93 391.23L382.77 391.27L383.61 391.32L384.45 391.39L385.30 391.50L386.14 391.71L386.98 392.01L387.82 392.28L388.66 392.50L389.50 392.73L390.34 392.95L391.18 393.17L392.02 393.38L392.86 393.59L393.70 393.79L394.55 393.97L395.39 394.15L396.23 394.31L397.07 394.45L397.91 394.57L398.75 394.69L399.59 394.81L400.43 394.92L401.27 395.04L402.11 395.15L402.95 395.25L403.80 395.34L404.64 395.43L405.48 395.50L406.32 395.56L407.16 395.61L408.00 395.64L408.84 395.65L409.68 395.65L410.52 395.62L411.36 395.57L412.20 395.50L413.05 395.42L413.89 395.33L414.73 395.24L415.57 395.13L416.41 395.03L417.25 394.93L418.09 394.84L418.93 394.75L419.77 394.68L420.61 394.62L421.45 394.57L422.30 394.54L423.14 394.51L423.98 394.49L424.82 394.46L425.66 394.44L426.50 394.41L427.34 394.39L428.18 394.37L429.02 394.35L429.86 394.33L430.70 394.31L431.55 394.30L432.39 394.28L433.23 394.26L434.07 394.25L434.91 394.23L435.75 394.22L436.59 394.20L437.43 394.19L438.27 394.17L439.11 394.15L439.95 394.14L440.80 394.12L441.64 394.11L442.48 394.09L443.32 394.08L444.16 394.06L445.00 394.05L445.84 394.03L446.68 394.02L447.52 394.01L448.36 393.99L449.20 393.98L450.05 393.97L450.89 393.96L451.73 393.94L452.57 393.93L453.41 393.92L454.25 393.91L455.09 393.90" fill="none" stroke="#2f76bc" stroke-width="1.65" stroke-linejoin="round" stroke-dasharray="5.55 2.4" clip-path="url(#c278_226)"/>
<path d="M320.55 323.43L321.39 325.44L322.23 327.41L323.07 329.32L323.91 331.17L324.75 332.95L325.59 334.69L326.43 336.39L327.27 338.04L328.11 339.66L328.95 341.25L329.80 342.78L330.64 344.25L331.48 345.70L332.32 347.16L333.16 348.68L334.00 350.26L334.84 351.91L335.68 353.57L336.52 355.20L337.36 356.77L338.20 358.29L339.05 359.78L339.89 361.24L340.73 362.68L341.57 364.09L342.41 365.49L343.25 366.88L344.09 368.25L344.93 369.65L345.77 371.07L346.61 372.49L347.45 373.84L348.30 375.08L349.14 376.16L349.98 377.08L350.82 377.94L351.66 378.74L352.50 379.48L353.34 380.17L354.18 380.82L355.02 381.41L355.86 381.97L356.70 382.47L357.55 382.93L358.39 383.35L359.23 383.76L360.07 384.15L360.91 384.54L361.75 384.95L362.59 385.38L363.43 385.84L364.27 386.35L365.11 386.91L365.95 387.51L366.80 388.13L367.64 388.75L368.48 389.34L369.32 389.90L370.16 390.40L371.00 390.82L371.84 391.21L372.68 391.58L373.52 391.92L374.36 392.25L375.20 392.55L376.05 392.85L376.89 393.14L377.73 393.42L378.57 393.68L379.41 393.94L380.25 394.18L381.09 394.41L381.93 394.64L382.77 394.87L383.61 395.10L384.45 395.33L385.30 395.57L386.14 395.82L386.98 396.08L387.82 396.34L388.66 396.60L389.50 396.85L390.34 397.07L391.18 397.27L392.02 397.46L392.86 397.65L393.70 397.83L394.55 398.01L395.39 398.18L396.23 398.35L397.07 398.51L397.91 398.67L398.75 398.82L399.59 398.96L400.43 399.09L401.27 399.21L402.11 399.32L402.95 399.41L403.80 399.50L404.64 399.57L405.48 399.63L406.32 399.69L407.16 399.75L408.00 399.80L408.84 399.85L409.68 399.90L410.52 399.95L411.36 399.99L412.20 400.03L413.05 400.07L413.89 400.11L414.73 400.15L415.57 400.18L416.41 400.21L417.25 400.24L418.09 400.27L418.93 400.30L419.77 400.33L420.61 400.35L421.45 400.38L422.30 400.40L423.14 400.43L423.98 400.45L424.82 400.48L425.66 400.50L426.50 400.53L427.34 400.55L428.18 400.58L429.02 400.60L429.86 400.62L430.70 400.65L431.55 400.67L432.39 400.69L433.23 400.71L434.07 400.74L434.91 400.76L435.75 400.78L436.59 400.80L437.43 400.82L438.27 400.84L439.11 400.86L439.95 400.87L440.80 400.89L441.64 400.91L442.48 400.92L443.32 400.94L444.16 400.95L445.00 400.97L445.84 400.98L446.68 400.99L447.52 401.00L448.36 401.01L449.20 401.02L450.05 401.03L450.89 401.04L451.73 401.04L452.57 401.05L453.41 401.05L454.25 401.05L455.09 401.06" fill="none" stroke="#f4780f" stroke-width="1.65" stroke-linejoin="round" stroke-dasharray="5.55 2.4" clip-path="url(#c278_226)"/>
<path d="M320.55 323.43L321.39 325.45L322.23 327.42L323.07 329.33L323.91 331.17L324.75 332.93L325.59 334.63L326.43 336.28L327.27 337.89L328.11 339.48L328.95 341.07L329.80 342.63L330.64 344.14L331.48 345.65L332.32 347.21L333.16 348.89L334.00 350.72L334.84 352.60L335.68 354.43L336.52 356.10L337.36 357.58L338.20 358.94L339.05 360.24L339.89 361.55L340.73 362.93L341.57 364.47L342.41 366.14L343.25 367.86L344.09 369.52L344.93 371.03L345.77 372.47L346.61 373.85L347.45 375.20L348.30 376.51L349.14 377.81L349.98 379.11L350.82 380.39L351.66 381.60L352.50 382.70L353.34 383.67L354.18 384.56L355.02 385.40L355.86 386.19L356.70 386.94L357.55 387.66L358.39 388.36L359.23 389.04L360.07 389.72L360.91 390.39L361.75 391.05L362.59 391.69L363.43 392.30L364.27 392.88L365.11 393.42L365.95 393.91L366.80 394.34L367.64 394.74L368.48 395.11L369.32 395.46L370.16 395.79L371.00 396.10L371.84 396.39L372.68 396.66L373.52 396.92L374.36 397.16L375.20 397.40L376.05 397.62L376.89 397.83L377.73 398.04L378.57 398.23L379.41 398.41L380.25 398.58L381.09 398.75L381.93 398.89L382.77 399.03L383.61 399.16L384.45 399.29L385.30 399.40L386.14 399.51L386.98 399.61L387.82 399.70L388.66 399.80L389.50 399.90L390.34 399.99L391.18 400.09L392.02 400.19L392.86 400.28L393.70 400.38L394.55 400.47L395.39 400.56L396.23 400.65L397.07 400.73L397.91 400.81L398.75 400.88L399.59 400.95L400.43 401.01L401.27 401.06L402.11 401.10L402.95 401.14L403.80 401.17L404.64 401.19L405.48 401.20L406.32 401.22L407.16 401.23L408.00 401.25L408.84 401.26L409.68 401.27L410.52 401.28L411.36 401.30L412.20 401.31L413.05 401.32L413.89 401.33L414.73 401.34L415.57 401.35L416.41 401.36L417.25 401.37L418.09 401.38L418.93 401.39L419.77 401.40L420.61 401.41L421.45 401.42L422.30 401.43L423.14 401.44L423.98 401.45L424.82 401.46L425.66 401.46L426.50 401.47L427.34 401.48L428.18 401.49L429.02 401.49L429.86 401.50L430.70 401.51L431.55 401.51L432.39 401.52L433.23 401.52L434.07 401.53L434.91 401.54L435.75 401.54L436.59 401.54L437.43 401.55L438.27 401.55L439.11 401.56L439.95 401.56L440.80 401.57L441.64 401.57L442.48 401.57L443.32 401.58L444.16 401.58L445.00 401.58L445.84 401.58L446.68 401.58L447.52 401.59L448.36 401.59L449.20 401.59L450.05 401.59L450.89 401.59L451.73 401.59L452.57 401.59L453.41 401.59L454.25 401.59L455.09 401.60" fill="none" stroke="#d8232a" stroke-width="1.65" stroke-linejoin="round" stroke-dasharray="5.55 2.4" clip-path="url(#c278_226)"/>
<rect x="278.5" y="226.5" width="185.00" height="175.50" fill="none" stroke="#8a8a8a" stroke-width="1"/>
<line x1="286.91" y1="402.0" x2="286.91" y2="404.2" stroke="#8a8a8a" stroke-width="1"/>
<text x="286.91" y="410.65" font-size="7.3" text-anchor="middle" fill="#262626" stroke="#262626" stroke-width="0.13" textLength="16.7" lengthAdjust="spacingAndGlyphs">2000</text>
<line x1="320.55" y1="402.0" x2="320.55" y2="404.2" stroke="#8a8a8a" stroke-width="1"/>
<text x="320.55" y="410.65" font-size="7.3" text-anchor="middle" fill="#262626" stroke="#262626" stroke-width="0.13" textLength="16.7" lengthAdjust="spacingAndGlyphs">2020</text>
<line x1="354.18" y1="402.0" x2="354.18" y2="404.2" stroke="#8a8a8a" stroke-width="1"/>
<text x="354.18" y="410.65" font-size="7.3" text-anchor="middle" fill="#262626" stroke="#262626" stroke-width="0.13" textLength="16.7" lengthAdjust="spacingAndGlyphs">2040</text>
<line x1="387.82" y1="402.0" x2="387.82" y2="404.2" stroke="#8a8a8a" stroke-width="1"/>
<text x="387.82" y="410.65" font-size="7.3" text-anchor="middle" fill="#262626" stroke="#262626" stroke-width="0.13" textLength="16.7" lengthAdjust="spacingAndGlyphs">2060</text>
<line x1="421.45" y1="402.0" x2="421.45" y2="404.2" stroke="#8a8a8a" stroke-width="1"/>
<text x="421.45" y="410.65" font-size="7.3" text-anchor="middle" fill="#262626" stroke="#262626" stroke-width="0.13" textLength="16.7" lengthAdjust="spacingAndGlyphs">2080</text>
<line x1="455.09" y1="402.0" x2="455.09" y2="404.2" stroke="#8a8a8a" stroke-width="1"/>
<text x="455.09" y="410.65" font-size="7.3" text-anchor="middle" fill="#262626" stroke="#262626" stroke-width="0.13" textLength="16.7" lengthAdjust="spacingAndGlyphs">2100</text>
<line x1="276.3" y1="240.00" x2="278.5" y2="240.00" stroke="#8a8a8a" stroke-width="1"/>
<text x="274.40" y="243.00" font-size="7.3" text-anchor="end" fill="#262626" stroke="#262626" stroke-width="0.13" textLength="8.24" lengthAdjust="spacingAndGlyphs">20</text>
<line x1="276.3" y1="267.00" x2="278.5" y2="267.00" stroke="#8a8a8a" stroke-width="1"/>
<text x="274.40" y="270.00" font-size="7.3" text-anchor="end" fill="#262626" stroke="#262626" stroke-width="0.13" textLength="4.12" lengthAdjust="spacingAndGlyphs">0</text>
<line x1="276.3" y1="294.00" x2="278.5" y2="294.00" stroke="#8a8a8a" stroke-width="1"/>
<text x="274.40" y="297.00" font-size="7.3" text-anchor="end" fill="#262626" stroke="#262626" stroke-width="0.13" textLength="12.99" lengthAdjust="spacingAndGlyphs">−20</text>
<line x1="276.3" y1="321.00" x2="278.5" y2="321.00" stroke="#8a8a8a" stroke-width="1"/>
<text x="274.40" y="324.00" font-size="7.3" text-anchor="end" fill="#262626" stroke="#262626" stroke-width="0.13" textLength="12.99" lengthAdjust="spacingAndGlyphs">−40</text>
<line x1="276.3" y1="348.00" x2="278.5" y2="348.00" stroke="#8a8a8a" stroke-width="1"/>
<text x="274.40" y="351.00" font-size="7.3" text-anchor="end" fill="#262626" stroke="#262626" stroke-width="0.13" textLength="12.99" lengthAdjust="spacingAndGlyphs">−60</text>
<line x1="276.3" y1="375.00" x2="278.5" y2="375.00" stroke="#8a8a8a" stroke-width="1"/>
<text x="274.40" y="378.00" font-size="7.3" text-anchor="end" fill="#262626" stroke="#262626" stroke-width="0.13" textLength="12.99" lengthAdjust="spacingAndGlyphs">−80</text>
<line x1="276.3" y1="402.00" x2="278.5" y2="402.00" stroke="#8a8a8a" stroke-width="1"/>
<text x="274.40" y="405.00" font-size="7.3" text-anchor="end" fill="#262626" stroke="#262626" stroke-width="0.13" textLength="17.11" lengthAdjust="spacingAndGlyphs">−100</text>
<clipPath id="c498_226"><rect x="498.9" y="226.5" width="185.10" height="175.50"/></clipPath>
<line x1="507.31" y1="226.5" x2="507.31" y2="402.0" stroke="#cfcfcf" stroke-width="1"/>
<line x1="540.97" y1="226.5" x2="540.97" y2="402.0" stroke="#cfcfcf" stroke-width="1"/>
<line x1="574.62" y1="226.5" x2="574.62" y2="402.0" stroke="#cfcfcf" stroke-width="1"/>
<line x1="608.28" y1="226.5" x2="608.28" y2="402.0" stroke="#cfcfcf" stroke-width="1"/>
<line x1="641.93" y1="226.5" x2="641.93" y2="402.0" stroke="#cfcfcf" stroke-width="1"/>
<line x1="675.59" y1="226.5" x2="675.59" y2="402.0" stroke="#cfcfcf" stroke-width="1"/>
<line x1="498.9" y1="226.50" x2="684.0" y2="226.50" stroke="#cfcfcf" stroke-width="1"/>
<line x1="498.9" y1="248.44" x2="684.0" y2="248.44" stroke="#cfcfcf" stroke-width="1"/>
<line x1="498.9" y1="270.38" x2="684.0" y2="270.38" stroke="#cfcfcf" stroke-width="1"/>
<line x1="498.9" y1="292.31" x2="684.0" y2="292.31" stroke="#cfcfcf" stroke-width="1"/>
<line x1="498.9" y1="314.25" x2="684.0" y2="314.25" stroke="#cfcfcf" stroke-width="1"/>
<line x1="498.9" y1="336.19" x2="684.0" y2="336.19" stroke="#cfcfcf" stroke-width="1"/>
<line x1="498.9" y1="358.12" x2="684.0" y2="358.12" stroke="#cfcfcf" stroke-width="1"/>
<line x1="498.9" y1="380.06" x2="684.0" y2="380.06" stroke="#cfcfcf" stroke-width="1"/>
<line x1="498.9" y1="402.00" x2="684.0" y2="402.00" stroke="#cfcfcf" stroke-width="1"/>
<path d="M540.97 320.83L541.81 319.92L542.65 319.00L543.49 318.09L544.33 317.18L545.17 316.26L546.02 315.35L546.86 315.13L547.70 314.91L548.54 314.69L549.38 314.47L550.22 314.25L551.06 314.03L551.91 313.81L552.75 313.59L553.59 313.45L554.43 313.32L555.27 313.18L556.11 313.04L556.95 312.91L557.80 312.77L558.64 312.63L559.48 312.50L560.32 312.44L561.16 312.39L562.00 312.33L562.84 312.28L563.68 312.22L564.53 312.17L565.37 312.11L566.21 312.06L567.05 311.76L567.89 311.47L568.73 311.18L569.57 310.89L570.42 310.59L571.26 310.30L572.10 309.95L572.94 309.60L573.78 309.25L574.62 308.90L575.46 308.55L576.31 308.81L577.15 309.07L577.99 309.34L578.83 309.60L579.67 309.86L580.51 309.94L581.35 310.01L582.19 310.08L583.04 310.15L583.88 310.23L584.72 310.30L585.56 310.44L586.40 310.58L587.24 310.71L588.08 310.85L588.93 310.99L589.77 311.12L590.61 311.26L591.45 311.40L592.29 311.62L593.13 311.84L593.97 312.06L594.82 312.28L595.66 312.50L596.50 312.71L597.34 312.93L598.18 313.15L599.02 313.30L599.86 313.45L600.71 313.59L601.55 313.74L602.39 313.88L603.23 314.03L604.07 314.18L604.91 314.32L605.75 314.47L606.59 314.62L607.44 314.76L608.28 314.91L609.12 314.67L609.96 314.43L610.80 314.19L611.64 313.95L612.48 313.71L613.33 313.47L614.17 313.23L615.01 312.99L615.85 312.75L616.69 312.51L617.53 312.28L618.37 312.18L619.22 312.08L620.06 311.98L620.90 311.89L621.74 311.79L622.58 311.69L623.42 311.59L624.26 311.50L625.10 311.40L625.95 311.57L626.79 311.75L627.63 311.92L628.47 312.10L629.31 312.27L630.15 312.45L630.99 312.62L631.84 312.79L632.68 312.97L633.52 313.15L634.36 313.32L635.20 313.50L636.04 313.67L636.88 313.85L637.73 314.03L638.57 314.20L639.41 314.38L640.25 314.56L641.09 314.73L641.93 314.91L642.77 315.06L643.61 315.22L644.46 315.37L645.30 315.52L646.14 315.68L646.98 315.83L647.82 315.98L648.66 316.14L649.50 316.29L650.35 316.44L651.19 316.51L652.03 316.58L652.87 316.64L653.71 316.71L654.55 316.77L655.39 316.84L656.24 316.90L657.08 316.97L657.92 317.04L658.76 317.10L659.60 317.13L660.44 317.17L661.28 317.20L662.12 317.23L662.97 317.27L663.81 317.30L664.65 317.33L665.49 317.37L666.33 317.40L667.17 317.43L668.01 317.46L668.86 317.50L669.70 317.53L670.54 317.56L671.38 317.60L672.22 317.63L673.06 317.66L673.90 317.69L674.75 317.73L675.59 317.76L675.59 326.10L674.75 326.16L673.90 326.23L673.06 326.29L672.22 326.36L671.38 326.43L670.54 326.49L669.70 326.56L668.86 326.62L668.01 326.69L667.17 326.75L666.33 326.82L665.49 326.89L664.65 326.95L663.81 327.02L662.97 327.08L662.12 327.15L661.28 327.22L660.44 327.28L659.60 327.35L658.76 327.41L657.92 327.15L657.08 326.89L656.24 326.62L655.39 326.36L654.55 326.10L653.71 325.83L652.87 325.57L652.03 325.31L651.19 325.04L650.35 324.78L649.50 324.78L648.66 324.78L647.82 324.78L646.98 324.78L646.14 324.78L645.30 324.78L644.46 324.78L643.61 324.78L642.77 324.78L641.93 324.78L641.09 324.70L640.25 324.63L639.41 324.55L638.57 324.47L637.73 324.40L636.88 324.32L636.04 324.24L635.20 324.17L634.36 324.09L633.52 324.01L632.68 323.94L631.84 323.86L630.99 323.78L630.15 323.71L629.31 323.63L628.47 323.55L627.63 323.47L626.79 323.40L625.95 323.32L625.10 323.24L624.26 323.32L623.42 323.39L622.58 323.46L621.74 323.54L620.90 323.61L620.06 323.68L619.22 323.76L618.37 323.83L617.53 323.90L616.69 323.98L615.85 324.05L615.01 324.12L614.17 324.48L613.33 324.83L612.48 325.19L611.64 325.55L610.80 325.90L609.96 326.26L609.12 326.62L608.28 326.97L607.44 327.01L606.59 327.05L605.75 327.08L604.91 327.12L604.07 327.16L603.23 327.19L602.39 327.23L601.55 327.27L600.71 327.30L599.86 327.34L599.02 327.38L598.18 327.41L597.34 327.69L596.50 327.96L595.66 328.24L594.82 328.51L593.97 328.78L593.13 329.06L592.29 329.33L591.45 329.61L590.61 329.94L589.77 330.26L588.93 330.59L588.08 330.92L587.24 331.25L586.40 331.58L585.56 331.91L584.72 332.24L583.88 332.57L583.04 332.90L582.19 333.03L581.35 333.17L580.51 333.31L579.67 333.45L578.83 333.58L577.99 333.72L577.15 333.86L576.31 333.99L575.46 333.89L574.62 333.79L573.78 333.69L572.94 333.59L572.10 333.50L571.26 333.40L570.42 333.37L569.57 333.47L568.73 333.57L567.89 333.66L567.05 333.76L566.21 333.86L565.37 333.96L564.53 334.23L563.68 334.62L562.84 335.01L562.00 335.40L561.16 335.80L560.32 336.19L559.48 336.54L558.64 336.89L557.80 337.24L556.95 337.59L556.11 337.94L555.27 337.17L554.43 336.39L553.59 335.62L552.75 334.76L551.91 333.86L551.06 332.95L550.22 332.04L549.38 331.13L548.54 330.22L547.70 329.31L546.86 328.31L546.02 327.24L545.17 326.17L544.33 325.10L543.49 324.04L542.65 322.97L541.81 321.90L540.97 320.83Z" fill="#2f76bc" fill-opacity="0.22" stroke="none" clip-path="url(#c498_226)"/>
<path d="M540.97 320.83L541.81 320.01L542.65 319.19L543.49 318.36L544.33 317.54L545.17 316.72L546.02 315.90L546.86 315.07L547.70 314.25L548.54 313.84L549.38 313.43L550.22 313.02L551.06 312.60L551.91 312.19L552.75 311.78L553.59 311.37L554.43 310.96L555.27 310.78L556.11 310.59L556.95 310.41L557.80 310.23L558.64 310.05L559.48 309.86L560.32 309.86L561.16 309.86L562.00 309.86L562.84 309.86L563.68 309.86L564.53 309.86L565.37 309.99L566.21 310.32L567.05 310.64L567.89 310.97L568.73 311.29L569.57 311.62L570.42 311.69L571.26 311.76L572.10 311.84L572.94 311.91L573.78 311.98L574.62 312.06L575.46 312.28L576.31 312.50L577.15 312.71L577.99 312.93L578.83 313.15L579.67 313.37L580.51 313.59L581.35 313.81L582.19 314.03L583.04 314.25L583.88 314.47L584.72 314.69L585.56 314.91L586.40 315.13L587.24 315.35L588.08 315.57L588.93 315.79L589.77 316.00L590.61 316.22L591.45 316.44L592.29 316.42L593.13 316.40L593.97 316.38L594.82 316.36L595.66 316.33L596.50 316.31L597.34 316.29L598.18 316.27L599.02 316.25L599.86 316.22L600.71 316.20L601.55 316.18L602.39 316.16L603.23 316.14L604.07 316.11L604.91 316.09L605.75 316.07L606.59 316.05L607.44 316.03L608.28 316.00L609.12 315.96L609.96 315.92L610.80 315.87L611.64 315.83L612.48 315.79L613.33 315.74L614.17 315.70L615.01 315.65L615.85 315.61L616.69 315.57L617.53 315.52L618.37 315.48L619.22 315.43L620.06 315.39L620.90 315.35L621.74 315.30L622.58 315.26L623.42 315.22L624.26 315.17L625.10 315.13L625.95 315.08L626.79 315.04L627.63 315.00L628.47 314.95L629.31 314.91L630.15 314.86L630.99 314.82L631.84 314.78L632.68 314.73L633.52 314.69L634.36 314.64L635.20 314.60L636.04 314.56L636.88 314.51L637.73 314.47L638.57 314.43L639.41 314.38L640.25 314.34L641.09 314.29L641.93 314.25L642.77 314.23L643.61 314.22L644.46 314.20L645.30 314.18L646.14 314.17L646.98 314.15L647.82 314.13L648.66 314.12L649.50 314.10L650.35 314.09L651.19 314.07L652.03 314.05L652.87 314.04L653.71 314.02L654.55 314.00L655.39 313.99L656.24 313.97L657.08 313.95L657.92 313.94L658.76 313.92L659.60 313.90L660.44 313.89L661.28 313.87L662.12 313.86L662.97 313.84L663.81 313.82L664.65 313.81L665.49 313.79L666.33 313.77L667.17 313.76L668.01 313.74L668.86 313.72L669.70 313.71L670.54 313.69L671.38 313.67L672.22 313.66L673.06 313.64L673.90 313.62L674.75 313.61L675.59 313.59L675.59 316.44L674.75 316.47L673.90 316.50L673.06 316.53L672.22 316.55L671.38 316.58L670.54 316.61L669.70 316.64L668.86 316.66L668.01 316.69L667.17 316.72L666.33 316.75L665.49 316.77L664.65 316.80L663.81 316.83L662.97 316.86L662.12 316.88L661.28 316.91L660.44 316.94L659.60 316.96L658.76 316.99L657.92 317.02L657.08 317.05L656.24 317.07L655.39 317.10L654.55 317.13L653.71 317.16L652.87 317.18L652.03 317.21L651.19 317.24L650.35 317.27L649.50 317.29L648.66 317.32L647.82 317.35L646.98 317.38L646.14 317.40L645.30 317.43L644.46 317.46L643.61 317.49L642.77 317.51L641.93 317.54L641.09 317.60L640.25 317.65L639.41 317.71L638.57 317.76L637.73 317.81L636.88 317.87L636.04 317.92L635.20 317.98L634.36 318.03L633.52 318.09L632.68 318.14L631.84 318.20L630.99 318.25L630.15 318.31L629.31 318.36L628.47 318.42L627.63 318.47L626.79 318.53L625.95 318.58L625.10 318.64L624.26 318.80L623.42 318.97L622.58 319.13L621.74 319.30L620.90 319.46L620.06 319.62L619.22 319.79L618.37 319.95L617.53 320.12L616.69 320.28L615.85 320.45L615.01 320.61L614.17 320.78L613.33 320.94L612.48 321.11L611.64 321.27L610.80 321.43L609.96 321.60L609.12 321.76L608.28 321.93L607.44 322.36L606.59 322.79L605.75 323.22L604.91 323.65L604.07 324.08L603.23 324.51L602.39 324.94L601.55 325.38L600.71 325.81L599.86 326.24L599.02 326.67L598.18 327.28L597.34 327.94L596.50 328.60L595.66 329.26L594.82 329.80L593.97 330.33L593.13 330.85L592.29 331.37L591.45 331.83L590.61 332.23L589.77 332.64L588.93 333.05L588.08 333.45L587.24 333.86L586.40 334.27L585.56 334.37L584.72 334.27L583.88 334.16L583.04 334.06L582.19 333.99L581.35 333.99L580.51 333.99L579.67 333.99L578.83 333.99L577.99 333.99L577.15 333.99L576.31 333.99L575.46 333.89L574.62 333.79L573.78 333.69L572.94 333.59L572.10 333.50L571.26 333.40L570.42 333.40L569.57 333.56L568.73 333.72L567.89 333.88L567.05 334.05L566.21 334.21L565.37 334.37L564.53 334.48L563.68 334.55L562.84 334.63L562.00 334.71L561.16 334.78L560.32 334.86L559.48 334.94L558.64 335.01L557.80 335.09L556.95 334.89L556.11 334.68L555.27 334.48L554.43 334.28L553.59 334.08L552.75 333.52L551.91 332.74L551.06 331.96L550.22 331.17L549.38 330.39L548.54 329.61L547.70 328.82L546.86 327.90L546.02 326.89L545.17 325.88L544.33 324.87L543.49 323.86L542.65 322.85L541.81 321.84L540.97 320.83Z" fill="#f4780f" fill-opacity="0.22" stroke="none" clip-path="url(#c498_226)"/>
<path d="M540.97 320.83L541.81 319.93L542.65 319.02L543.49 318.11L544.33 317.21L545.17 316.38L546.02 315.66L546.86 314.95L547.70 314.24L548.54 313.77L549.38 313.66L550.22 313.55L551.06 313.44L551.91 313.33L552.75 313.22L553.59 313.09L554.43 312.93L555.27 312.78L556.11 312.62L556.95 312.46L557.80 312.31L558.64 312.15L559.48 312.06L560.32 312.06L561.16 312.06L562.00 312.06L562.84 312.06L563.68 312.06L564.53 312.06L565.37 312.02L566.21 311.92L567.05 311.82L567.89 311.73L568.73 311.63L569.57 311.53L570.42 311.44L571.26 311.48L572.10 311.63L572.94 311.77L573.78 311.91L574.62 312.06L575.46 312.01L576.31 311.97L577.15 311.92L577.99 311.88L578.83 311.84L579.67 311.79L580.51 311.75L581.35 311.71L582.19 311.66L583.04 311.62L583.88 311.69L584.72 311.77L585.56 311.84L586.40 311.92L587.24 311.99L588.08 312.07L588.93 312.14L589.77 312.22L590.61 312.30L591.45 312.45L592.29 312.59L593.13 312.73L593.97 312.88L594.82 313.02L595.66 313.16L596.50 313.31L597.34 313.45L598.18 313.59L599.02 313.65L599.86 313.70L600.71 313.76L601.55 313.81L602.39 313.87L603.23 313.92L604.07 313.98L604.91 314.03L605.75 314.09L606.59 314.14L607.44 314.20L608.28 314.25L609.12 314.24L609.96 314.23L610.80 314.22L611.64 314.21L612.48 314.20L613.33 314.18L614.17 314.17L615.01 314.16L615.85 314.15L616.69 314.14L617.53 314.13L618.37 314.12L619.22 314.11L620.06 314.10L620.90 314.09L621.74 314.07L622.58 314.06L623.42 314.05L624.26 314.04L625.10 314.03L625.95 314.02L626.79 314.01L627.63 314.00L628.47 313.99L629.31 313.98L630.15 313.96L630.99 313.95L631.84 313.94L632.68 313.93L633.52 313.92L634.36 313.91L635.20 313.90L636.04 313.89L636.88 313.88L637.73 313.87L638.57 313.86L639.41 313.84L640.25 313.83L641.09 313.82L641.93 313.81L642.77 313.79L643.61 313.78L644.46 313.76L645.30 313.75L646.14 313.73L646.98 313.71L647.82 313.70L648.66 313.68L649.50 313.66L650.35 313.65L651.19 313.63L652.03 313.61L652.87 313.60L653.71 313.58L654.55 313.56L655.39 313.55L656.24 313.53L657.08 313.52L657.92 313.50L658.76 313.48L659.60 313.47L660.44 313.45L661.28 313.43L662.12 313.42L662.97 313.40L663.81 313.38L664.65 313.37L665.49 313.35L666.33 313.33L667.17 313.32L668.01 313.30L668.86 313.28L669.70 313.27L670.54 313.25L671.38 313.24L672.22 313.22L673.06 313.20L673.90 313.19L674.75 313.17L675.59 313.15L675.59 315.57L674.75 315.59L673.90 315.61L673.06 315.63L672.22 315.65L671.38 315.68L670.54 315.70L669.70 315.72L668.86 315.74L668.01 315.76L667.17 315.79L666.33 315.81L665.49 315.83L664.65 315.85L663.81 315.87L662.97 315.90L662.12 315.92L661.28 315.94L660.44 315.96L659.60 315.98L658.76 316.00L657.92 316.03L657.08 316.05L656.24 316.07L655.39 316.09L654.55 316.11L653.71 316.14L652.87 316.16L652.03 316.18L651.19 316.20L650.35 316.22L649.50 316.25L648.66 316.27L647.82 316.29L646.98 316.31L646.14 316.33L645.30 316.36L644.46 316.38L643.61 316.40L642.77 316.42L641.93 316.44L641.09 316.49L640.25 316.53L639.41 316.58L638.57 316.62L637.73 316.66L636.88 316.71L636.04 316.75L635.20 316.79L634.36 316.84L633.52 316.88L632.68 316.93L631.84 316.97L630.99 317.01L630.15 317.06L629.31 317.10L628.47 317.15L627.63 317.19L626.79 317.23L625.95 317.28L625.10 317.32L624.26 317.37L623.42 317.41L622.58 317.45L621.74 317.50L620.90 317.54L620.06 317.58L619.22 317.63L618.37 317.67L617.53 317.72L616.69 317.76L615.85 317.80L615.01 317.85L614.17 317.89L613.33 317.94L612.48 317.98L611.64 318.02L610.80 318.07L609.96 318.11L609.12 318.15L608.28 318.20L607.44 318.35L606.59 318.51L605.75 318.66L604.91 318.81L604.07 318.97L603.23 319.12L602.39 319.27L601.55 319.43L600.71 319.58L599.86 319.73L599.02 319.95L598.18 320.17L597.34 320.39L596.50 320.61L595.66 320.83L594.82 321.05L593.97 321.27L593.13 321.49L592.29 321.71L591.45 321.93L590.61 322.26L589.77 322.59L588.93 322.92L588.08 323.24L587.24 323.57L586.40 323.90L585.56 324.23L584.72 324.56L583.88 324.89L583.04 325.22L582.19 325.77L581.35 326.32L580.51 326.86L579.67 327.41L578.83 327.96L577.99 328.51L577.15 329.06L576.31 329.61L575.46 330.10L574.62 330.60L573.78 331.10L572.94 331.60L572.10 332.10L571.26 332.60L570.42 333.01L569.57 333.30L568.73 333.59L567.89 333.88L567.05 334.17L566.21 334.46L565.37 334.76L564.53 335.13L563.68 335.56L562.84 335.99L562.00 336.42L561.16 336.85L560.32 337.28L559.48 337.50L558.64 337.72L557.80 337.94L556.95 338.16L556.11 338.38L555.27 337.35L554.43 336.32L553.59 335.28L552.75 334.36L551.91 333.52L551.06 332.67L550.22 331.83L549.38 330.98L548.54 330.13L547.70 329.29L546.86 328.31L546.02 327.24L545.17 326.17L544.33 325.10L543.49 324.04L542.65 322.97L541.81 321.90L540.97 320.83Z" fill="#d8232a" fill-opacity="0.22" stroke="none" clip-path="url(#c498_226)"/>
<path d="M507.31 313.04L508.15 313.35L509.00 313.62L509.84 313.81L510.68 313.96L511.52 314.10L512.36 314.20L513.20 314.25L514.04 314.20L514.89 314.06L515.73 313.86L516.57 313.69L517.41 313.59L518.25 313.62L519.09 313.70L519.93 313.83L520.78 313.97L521.62 314.12L522.46 314.31L523.30 314.52L524.14 314.76L524.98 315.01L525.82 315.30L526.66 315.62L527.51 315.95L528.35 316.29L529.19 316.65L530.03 317.03L530.87 317.41L531.71 317.76L532.55 318.09L533.40 318.41L534.24 318.72L535.08 319.02L535.92 319.30L536.76 319.58L537.60 319.85L538.44 320.11L539.29 320.36L540.13 320.60L540.97 320.83" fill="none" stroke="#000" stroke-width="1.65" stroke-linejoin="round" stroke-linecap="square" clip-path="url(#c498_226)"/>
<path d="M540.97 320.83L541.81 321.35L542.65 321.85L543.49 322.33L544.33 322.80L545.17 323.25L546.02 323.69L546.86 324.10L547.70 324.50L548.54 324.90L549.38 325.29L550.22 325.67L551.06 326.02L551.91 326.34L552.75 326.61L553.59 326.84L554.43 327.06L555.27 327.28L556.11 327.47L556.95 327.64L557.80 327.77L558.64 327.84L559.48 327.85L560.32 327.84L561.16 327.82L562.00 327.80L562.84 327.76L563.68 327.72L564.53 327.67L565.37 327.59L566.21 327.37L567.05 327.02L567.89 326.59L568.73 326.12L569.57 325.69L570.42 325.33L571.26 325.07L572.10 324.84L572.94 324.61L573.78 324.41L574.62 324.22L575.46 324.07L576.31 323.94L577.15 323.85L577.99 323.77L578.83 323.70L579.67 323.63L580.51 323.58L581.35 323.53L582.19 323.48L583.04 323.44L583.88 323.41L584.72 323.38L585.56 323.35L586.40 323.32L587.24 323.29L588.08 323.24L588.93 323.18L589.77 323.10L590.61 323.01L591.45 322.90L592.29 322.79L593.13 322.67L593.97 322.56L594.82 322.45L595.66 322.35L596.50 322.25L597.34 322.15L598.18 322.05L599.02 321.96L599.86 321.87L600.71 321.78L601.55 321.71L602.39 321.65L603.23 321.59L604.07 321.55L604.91 321.50L605.75 321.46L606.59 321.41L607.44 321.34L608.28 321.27L609.12 321.16L609.96 321.00L610.80 320.81L611.64 320.61L612.48 320.41L613.33 320.22L614.17 320.06L615.01 319.95L615.85 319.88L616.69 319.80L617.53 319.73L618.37 319.66L619.22 319.59L620.06 319.53L620.90 319.48L621.74 319.43L622.58 319.39L623.42 319.35L624.26 319.32L625.10 319.31L625.95 319.30L626.79 319.32L627.63 319.43L628.47 319.61L629.31 319.84L630.15 320.09L630.99 320.32L631.84 320.51L632.68 320.63L633.52 320.72L634.36 320.80L635.20 320.87L636.04 320.94L636.88 321.00L637.73 321.05L638.57 321.11L639.41 321.15L640.25 321.19L641.09 321.23L641.93 321.27L642.77 321.30L643.61 321.33L644.46 321.35L645.30 321.38L646.14 321.40L646.98 321.42L647.82 321.44L648.66 321.47L649.50 321.50L650.35 321.53L651.19 321.56L652.03 321.60L652.87 321.64L653.71 321.68L654.55 321.72L655.39 321.76L656.24 321.81L657.08 321.85L657.92 321.89L658.76 321.93L659.60 321.96L660.44 322.00L661.28 322.03L662.12 322.06L662.97 322.09L663.81 322.11L664.65 322.14L665.49 322.17L666.33 322.20L667.17 322.23L668.01 322.26L668.86 322.30L669.70 322.34L670.54 322.39L671.38 322.45L672.22 322.51L673.06 322.57L673.90 322.67L674.75 322.84L675.59 323.02" fill="none" stroke="#2f76bc" stroke-width="1.65" stroke-linejoin="round" stroke-linecap="square" clip-path="url(#c498_226)"/>
<path d="M540.97 320.83L541.81 321.36L542.65 321.87L543.49 322.37L544.33 322.84L545.17 323.29L546.02 323.71L546.86 324.11L547.70 324.49L548.54 324.86L549.38 325.23L550.22 325.57L551.06 325.89L551.91 326.18L552.75 326.42L553.59 326.61L554.43 326.79L555.27 326.96L556.11 327.12L556.95 327.25L557.80 327.35L558.64 327.40L559.48 327.41L560.32 327.40L561.16 327.38L562.00 327.35L562.84 327.32L563.68 327.27L564.53 327.23L565.37 327.16L566.21 327.02L567.05 326.80L567.89 326.54L568.73 326.25L569.57 325.98L570.42 325.74L571.26 325.55L572.10 325.37L572.94 325.20L573.78 325.03L574.62 324.88L575.46 324.74L576.31 324.61L577.15 324.49L577.99 324.39L578.83 324.29L579.67 324.20L580.51 324.12L581.35 324.03L582.19 323.94L583.04 323.85L583.88 323.75L584.72 323.66L585.56 323.57L586.40 323.47L587.24 323.36L588.08 323.24L588.93 323.11L589.77 322.96L590.61 322.80L591.45 322.62L592.29 322.44L593.13 322.25L593.97 322.06L594.82 321.86L595.66 321.67L596.50 321.47L597.34 321.26L598.18 321.04L599.02 320.82L599.86 320.60L600.71 320.38L601.55 320.17L602.39 319.97L603.23 319.78L604.07 319.59L604.91 319.40L605.75 319.21L606.59 319.02L607.44 318.83L608.28 318.64L609.12 318.44L609.96 318.24L610.80 318.04L611.64 317.84L612.48 317.65L613.33 317.46L614.17 317.27L615.01 317.10L615.85 316.93L616.69 316.74L617.53 316.56L618.37 316.38L619.22 316.23L620.06 316.11L620.90 316.02L621.74 315.98L622.58 315.95L623.42 315.92L624.26 315.89L625.10 315.87L625.95 315.84L626.79 315.82L627.63 315.80L628.47 315.79L629.31 315.77L630.15 315.75L630.99 315.74L631.84 315.73L632.68 315.72L633.52 315.70L634.36 315.69L635.20 315.68L636.04 315.67L636.88 315.66L637.73 315.65L638.57 315.63L639.41 315.62L640.25 315.60L641.09 315.59L641.93 315.57L642.77 315.55L643.61 315.52L644.46 315.50L645.30 315.48L646.14 315.46L646.98 315.43L647.82 315.41L648.66 315.38L649.50 315.36L650.35 315.33L651.19 315.31L652.03 315.29L652.87 315.26L653.71 315.24L654.55 315.22L655.39 315.20L656.24 315.18L657.08 315.16L657.92 315.14L658.76 315.13L659.60 315.11L660.44 315.10L661.28 315.08L662.12 315.07L662.97 315.06L663.81 315.04L664.65 315.03L665.49 315.02L666.33 315.01L667.17 314.99L668.01 314.98L668.86 314.97L669.70 314.96L670.54 314.95L671.38 314.94L672.22 314.94L673.06 314.93L673.90 314.92L674.75 314.91L675.59 314.91" fill="none" stroke="#f4780f" stroke-width="1.65" stroke-linejoin="round" stroke-linecap="square" clip-path="url(#c498_226)"/>
<path d="M540.97 320.83L541.81 321.33L542.65 321.82L543.49 322.28L544.33 322.73L545.17 323.15L546.02 323.54L546.86 323.91L547.70 324.26L548.54 324.59L549.38 324.92L550.22 325.23L551.06 325.51L551.91 325.76L552.75 325.98L553.59 326.17L554.43 326.34L555.27 326.51L556.11 326.67L556.95 326.81L557.80 326.91L558.64 326.96L559.48 326.97L560.32 326.95L561.16 326.92L562.00 326.86L562.84 326.79L563.68 326.70L564.53 326.60L565.37 326.47L566.21 326.16L567.05 325.73L567.89 325.26L568.73 324.83L569.57 324.39L570.42 323.94L571.26 323.52L572.10 323.18L572.94 322.91L573.78 322.66L574.62 322.43L575.46 322.22L576.31 322.01L577.15 321.80L577.99 321.60L578.83 321.40L579.67 321.20L580.51 321.01L581.35 320.84L582.19 320.67L583.04 320.52L583.88 320.39L584.72 320.26L585.56 320.14L586.40 320.02L587.24 319.89L588.08 319.76L588.93 319.62L589.77 319.48L590.61 319.34L591.45 319.19L592.29 319.04L593.13 318.89L593.97 318.73L594.82 318.56L595.66 318.38L596.50 318.18L597.34 317.95L598.18 317.72L599.02 317.48L599.86 317.25L600.71 317.05L601.55 316.88L602.39 316.74L603.23 316.60L604.07 316.47L604.91 316.35L605.75 316.24L606.59 316.15L607.44 316.07L608.28 316.00L609.12 315.95L609.96 315.90L610.80 315.86L611.64 315.81L612.48 315.77L613.33 315.73L614.17 315.70L615.01 315.67L615.85 315.63L616.69 315.60L617.53 315.58L618.37 315.55L619.22 315.52L620.06 315.50L620.90 315.47L621.74 315.45L622.58 315.42L623.42 315.40L624.26 315.37L625.10 315.35L625.95 315.32L626.79 315.30L627.63 315.27L628.47 315.25L629.31 315.22L630.15 315.20L630.99 315.18L631.84 315.15L632.68 315.13L633.52 315.11L634.36 315.09L635.20 315.07L636.04 315.05L636.88 315.03L637.73 315.01L638.57 314.99L639.41 314.97L640.25 314.95L641.09 314.93L641.93 314.91L642.77 314.89L643.61 314.87L644.46 314.85L645.30 314.83L646.14 314.81L646.98 314.80L647.82 314.78L648.66 314.76L649.50 314.74L650.35 314.72L651.19 314.70L652.03 314.69L652.87 314.67L653.71 314.65L654.55 314.63L655.39 314.62L656.24 314.60L657.08 314.58L657.92 314.56L658.76 314.55L659.60 314.53L660.44 314.51L661.28 314.50L662.12 314.48L662.97 314.47L663.81 314.45L664.65 314.43L665.49 314.42L666.33 314.40L667.17 314.39L668.01 314.37L668.86 314.36L669.70 314.35L670.54 314.33L671.38 314.32L672.22 314.30L673.06 314.29L673.90 314.28L674.75 314.26L675.59 314.25" fill="none" stroke="#d8232a" stroke-width="1.65" stroke-linejoin="round" stroke-linecap="square" clip-path="url(#c498_226)"/>
<rect x="498.9" y="226.5" width="185.10" height="175.50" fill="none" stroke="#8a8a8a" stroke-width="1"/>
<line x1="507.31" y1="402.0" x2="507.31" y2="404.2" stroke="#8a8a8a" stroke-width="1"/>
<text x="507.31" y="410.65" font-size="7.3" text-anchor="middle" fill="#262626" stroke="#262626" stroke-width="0.13" textLength="16.7" lengthAdjust="spacingAndGlyphs">2000</text>
<line x1="540.97" y1="402.0" x2="540.97" y2="404.2" stroke="#8a8a8a" stroke-width="1"/>
<text x="540.97" y="410.65" font-size="7.3" text-anchor="middle" fill="#262626" stroke="#262626" stroke-width="0.13" textLength="16.7" lengthAdjust="spacingAndGlyphs">2020</text>
<line x1="574.62" y1="402.0" x2="574.62" y2="404.2" stroke="#8a8a8a" stroke-width="1"/>
<text x="574.62" y="410.65" font-size="7.3" text-anchor="middle" fill="#262626" stroke="#262626" stroke-width="0.13" textLength="16.7" lengthAdjust="spacingAndGlyphs">2040</text>
<line x1="608.28" y1="402.0" x2="608.28" y2="404.2" stroke="#8a8a8a" stroke-width="1"/>
<text x="608.28" y="410.65" font-size="7.3" text-anchor="middle" fill="#262626" stroke="#262626" stroke-width="0.13" textLength="16.7" lengthAdjust="spacingAndGlyphs">2060</text>
<line x1="641.93" y1="402.0" x2="641.93" y2="404.2" stroke="#8a8a8a" stroke-width="1"/>
<text x="641.93" y="410.65" font-size="7.3" text-anchor="middle" fill="#262626" stroke="#262626" stroke-width="0.13" textLength="16.7" lengthAdjust="spacingAndGlyphs">2080</text>
<line x1="675.59" y1="402.0" x2="675.59" y2="404.2" stroke="#8a8a8a" stroke-width="1"/>
<text x="675.59" y="410.65" font-size="7.3" text-anchor="middle" fill="#262626" stroke="#262626" stroke-width="0.13" textLength="16.7" lengthAdjust="spacingAndGlyphs">2100</text>
<line x1="496.7" y1="226.50" x2="498.9" y2="226.50" stroke="#8a8a8a" stroke-width="1"/>
<text x="494.90" y="229.50" font-size="7.3" text-anchor="end" fill="#262626" stroke="#262626" stroke-width="0.13" textLength="8.24" lengthAdjust="spacingAndGlyphs">40</text>
<line x1="496.7" y1="248.44" x2="498.9" y2="248.44" stroke="#8a8a8a" stroke-width="1"/>
<text x="494.90" y="251.44" font-size="7.3" text-anchor="end" fill="#262626" stroke="#262626" stroke-width="0.13" textLength="8.24" lengthAdjust="spacingAndGlyphs">30</text>
<line x1="496.7" y1="270.38" x2="498.9" y2="270.38" stroke="#8a8a8a" stroke-width="1"/>
<text x="494.90" y="273.38" font-size="7.3" text-anchor="end" fill="#262626" stroke="#262626" stroke-width="0.13" textLength="8.24" lengthAdjust="spacingAndGlyphs">20</text>
<line x1="496.7" y1="292.31" x2="498.9" y2="292.31" stroke="#8a8a8a" stroke-width="1"/>
<text x="494.90" y="295.31" font-size="7.3" text-anchor="end" fill="#262626" stroke="#262626" stroke-width="0.13" textLength="8.24" lengthAdjust="spacingAndGlyphs">10</text>
<line x1="496.7" y1="314.25" x2="498.9" y2="314.25" stroke="#8a8a8a" stroke-width="1"/>
<text x="494.90" y="317.25" font-size="7.3" text-anchor="end" fill="#262626" stroke="#262626" stroke-width="0.13" textLength="4.12" lengthAdjust="spacingAndGlyphs">0</text>
<line x1="496.7" y1="336.19" x2="498.9" y2="336.19" stroke="#8a8a8a" stroke-width="1"/>
<text x="494.90" y="339.19" font-size="7.3" text-anchor="end" fill="#262626" stroke="#262626" stroke-width="0.13" textLength="12.99" lengthAdjust="spacingAndGlyphs">−10</text>
<line x1="496.7" y1="358.12" x2="498.9" y2="358.12" stroke="#8a8a8a" stroke-width="1"/>
<text x="494.90" y="361.12" font-size="7.3" text-anchor="end" fill="#262626" stroke="#262626" stroke-width="0.13" textLength="12.99" lengthAdjust="spacingAndGlyphs">−20</text>
<line x1="496.7" y1="380.06" x2="498.9" y2="380.06" stroke="#8a8a8a" stroke-width="1"/>
<text x="494.90" y="383.06" font-size="7.3" text-anchor="end" fill="#262626" stroke="#262626" stroke-width="0.13" textLength="12.99" lengthAdjust="spacingAndGlyphs">−30</text>
<line x1="496.7" y1="402.00" x2="498.9" y2="402.00" stroke="#8a8a8a" stroke-width="1"/>
<text x="494.90" y="405.00" font-size="7.3" text-anchor="end" fill="#262626" stroke="#262626" stroke-width="0.13" textLength="12.99" lengthAdjust="spacingAndGlyphs">−40</text>
<text x="356.20" y="8.80" font-size="10.7" text-anchor="middle" fill="#000" font-weight="bold" textLength="86.4" lengthAdjust="spacingAndGlyphs">Central Europe</text>
<text x="150.75" y="31.70" font-size="10.1" text-anchor="middle" fill="#262626" textLength="35.2" lengthAdjust="spacingAndGlyphs">Control</text>
<text x="371.00" y="31.70" font-size="10.1" text-anchor="middle" fill="#262626" textLength="55.6" lengthAdjust="spacingAndGlyphs">Avalanches</text>
<text x="591.45" y="31.70" font-size="10.1" text-anchor="middle" fill="#262626" textLength="101.6" lengthAdjust="spacingAndGlyphs">Control - Avalanches</text>
<text x="58.20" y="24.75" font-size="8.2" text-anchor="start" fill="#000" font-weight="bold" textLength="5.5" lengthAdjust="spacingAndGlyphs">a</text>
<text x="278.70" y="24.75" font-size="8.2" text-anchor="start" fill="#000" font-weight="bold" textLength="5.9" lengthAdjust="spacingAndGlyphs">b</text>
<text x="499.10" y="24.75" font-size="8.2" text-anchor="start" fill="#000" font-weight="bold" textLength="4.9" lengthAdjust="spacingAndGlyphs">c</text>
<text x="150.75" y="223.20" font-size="10.1" text-anchor="middle" fill="#262626" textLength="35.2" lengthAdjust="spacingAndGlyphs">Control</text>
<text x="371.00" y="223.20" font-size="10.1" text-anchor="middle" fill="#262626" textLength="55.6" lengthAdjust="spacingAndGlyphs">Avalanches</text>
<text x="591.45" y="223.20" font-size="10.1" text-anchor="middle" fill="#262626" textLength="101.6" lengthAdjust="spacingAndGlyphs">Control - Avalanches</text>
<text x="58.20" y="216.25" font-size="8.2" text-anchor="start" fill="#000" font-weight="bold" textLength="5.9" lengthAdjust="spacingAndGlyphs">d</text>
<text x="278.70" y="216.25" font-size="8.2" text-anchor="start" fill="#000" font-weight="bold" textLength="5.6" lengthAdjust="spacingAndGlyphs">e</text>
<text x="499.10" y="216.25" font-size="8.2" text-anchor="start" fill="#000" font-weight="bold" textLength="3.6" lengthAdjust="spacingAndGlyphs">f</text>
<text x="33.90" y="115.80" font-size="10.5" text-anchor="middle" fill="#262626" textLength="104" lengthAdjust="spacingAndGlyphs" transform="rotate(-90 33.90 115.80)">Volume change (%)</text>
<text x="33.90" y="315.70" font-size="10.5" text-anchor="middle" fill="#262626" textLength="104" lengthAdjust="spacingAndGlyphs" transform="rotate(-90 33.90 315.70)">Volume change (%)</text>
<text x="477.40" y="114.80" font-size="8.4" text-anchor="middle" fill="#262626" textLength="85.8" lengthAdjust="spacingAndGlyphs" transform="rotate(-90 477.40 114.80)">Volume difference (%)</text>
<text x="477.40" y="314.30" font-size="8.4" text-anchor="middle" fill="#262626" textLength="85.8" lengthAdjust="spacingAndGlyphs" transform="rotate(-90 477.40 314.30)">Volume difference (%)</text>
<text x="10.00" y="107.80" font-size="10.3" text-anchor="middle" fill="#000" font-weight="bold" textLength="64" lengthAdjust="spacingAndGlyphs" transform="rotate(-90 10.00 107.80)">All glaciers</text>
<text x="10.0" y="315.5" font-size="10.3" text-anchor="middle" font-weight="bold" fill="#000" transform="rotate(-90 10.0 315.5)" textLength="94.7" lengthAdjust="spacingAndGlyphs">Glaciers &lt; 1 km<tspan font-size="6.8" font-weight="normal" dy="-4.2">2</tspan></text>
<text x="150.75" y="424.80" font-size="10.7" text-anchor="middle" fill="#262626" textLength="22.6" lengthAdjust="spacingAndGlyphs" stroke="#262626" stroke-width="0.2">Year</text>
<text x="371.80" y="424.80" font-size="10.7" text-anchor="middle" fill="#262626" textLength="22.6" lengthAdjust="spacingAndGlyphs" stroke="#262626" stroke-width="0.2">Year</text>
<text x="592.45" y="424.80" font-size="10.7" text-anchor="middle" fill="#262626" textLength="22.6" lengthAdjust="spacingAndGlyphs" stroke="#262626" stroke-width="0.2">Year</text>
</svg>
</body></html>
